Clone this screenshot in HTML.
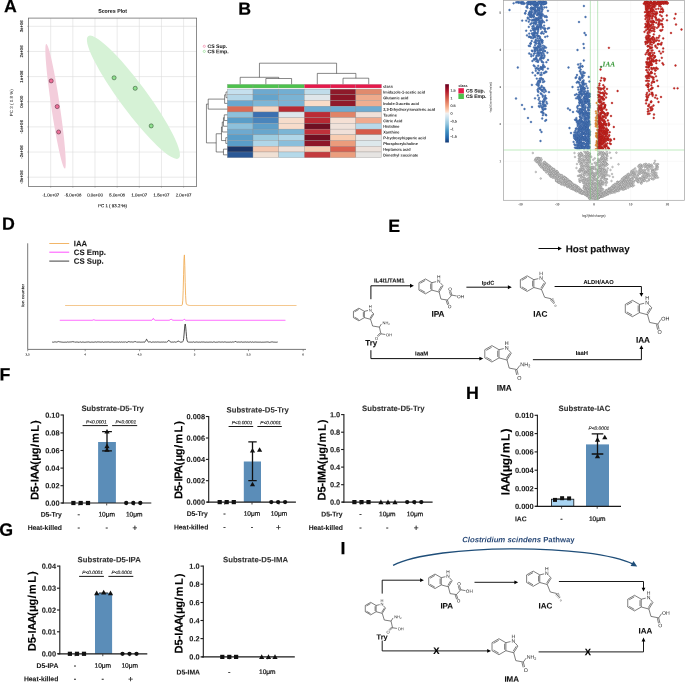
<!DOCTYPE html>
<html lang="en"><head><meta charset="utf-8"><title>Figure</title>
<style>
html,body{margin:0;padding:0;background:#fff}
svg{display:block;font-family:"Liberation Sans",sans-serif;text-rendering:geometricPrecision}
</style></head><body>
<svg width="685" height="682" viewBox="0 0 685 682">
<rect width="685" height="682" fill="#fff"/>
<text transform="translate(3.9 12.3) rotate(0.03)" font-size="17.8" font-weight="bold" stroke="#000" stroke-width="0.2">A</text>
<g>
<line x1="50.7" y1="18.1" x2="50.7" y2="186.4" stroke="#dcdcdc" stroke-width="0.6"/>
<line x1="72.85" y1="18.1" x2="72.85" y2="186.4" stroke="#dcdcdc" stroke-width="0.6"/>
<line x1="95" y1="18.1" x2="95" y2="186.4" stroke="#dcdcdc" stroke-width="0.6"/>
<line x1="117.15" y1="18.1" x2="117.15" y2="186.4" stroke="#dcdcdc" stroke-width="0.6"/>
<line x1="139.3" y1="18.1" x2="139.3" y2="186.4" stroke="#dcdcdc" stroke-width="0.6"/>
<line x1="161.45" y1="18.1" x2="161.45" y2="186.4" stroke="#dcdcdc" stroke-width="0.6"/>
<line x1="183.6" y1="18.1" x2="183.6" y2="186.4" stroke="#dcdcdc" stroke-width="0.6"/>
<line x1="28.5" y1="26.3" x2="196.6" y2="26.3" stroke="#dcdcdc" stroke-width="0.6"/>
<line x1="28.5" y1="51.45" x2="196.6" y2="51.45" stroke="#dcdcdc" stroke-width="0.6"/>
<line x1="28.5" y1="76.6" x2="196.6" y2="76.6" stroke="#dcdcdc" stroke-width="0.6"/>
<line x1="28.5" y1="101.75" x2="196.6" y2="101.75" stroke="#dcdcdc" stroke-width="0.6"/>
<line x1="28.5" y1="126.9" x2="196.6" y2="126.9" stroke="#dcdcdc" stroke-width="0.6"/>
<line x1="28.5" y1="152.05" x2="196.6" y2="152.05" stroke="#dcdcdc" stroke-width="0.6"/>
<line x1="28.5" y1="177.2" x2="196.6" y2="177.2" stroke="#dcdcdc" stroke-width="0.6"/>
<ellipse cx="55.55" cy="106.3" rx="63" ry="4.3" transform="rotate(81.55 55.55 106.3)" fill="#f3cddb"/>
<ellipse cx="133.4" cy="97.25" rx="76" ry="13.6" transform="rotate(53.5 133.4 97.25)" fill="#d6f2d6"/>
<rect x="28.5" y="18.1" width="168.1" height="168.3" fill="none" stroke="#707070" stroke-width="0.8"/>
<line x1="50.7" y1="186.4" x2="50.7" y2="187.6" stroke="#707070" stroke-width="0.5"/>
<line x1="72.85" y1="186.4" x2="72.85" y2="187.6" stroke="#707070" stroke-width="0.5"/>
<line x1="95" y1="186.4" x2="95" y2="187.6" stroke="#707070" stroke-width="0.5"/>
<line x1="117.15" y1="186.4" x2="117.15" y2="187.6" stroke="#707070" stroke-width="0.5"/>
<line x1="139.3" y1="186.4" x2="139.3" y2="187.6" stroke="#707070" stroke-width="0.5"/>
<line x1="161.45" y1="186.4" x2="161.45" y2="187.6" stroke="#707070" stroke-width="0.5"/>
<line x1="183.6" y1="186.4" x2="183.6" y2="187.6" stroke="#707070" stroke-width="0.5"/>
<line x1="27.3" y1="26.3" x2="28.5" y2="26.3" stroke="#707070" stroke-width="0.5"/>
<line x1="27.3" y1="51.45" x2="28.5" y2="51.45" stroke="#707070" stroke-width="0.5"/>
<line x1="27.3" y1="76.6" x2="28.5" y2="76.6" stroke="#707070" stroke-width="0.5"/>
<line x1="27.3" y1="101.75" x2="28.5" y2="101.75" stroke="#707070" stroke-width="0.5"/>
<line x1="27.3" y1="126.9" x2="28.5" y2="126.9" stroke="#707070" stroke-width="0.5"/>
<line x1="27.3" y1="152.05" x2="28.5" y2="152.05" stroke="#707070" stroke-width="0.5"/>
<line x1="27.3" y1="177.2" x2="28.5" y2="177.2" stroke="#707070" stroke-width="0.5"/>
<circle cx="51.2" cy="80.9" r="2.05" fill="#ef7099" stroke="#402030" stroke-width="0.5"/>
<circle cx="57.2" cy="106.6" r="2.05" fill="#ef7099" stroke="#402030" stroke-width="0.5"/>
<circle cx="58.6" cy="132" r="2.05" fill="#ef7099" stroke="#402030" stroke-width="0.5"/>
<circle cx="114.1" cy="77.8" r="2.05" fill="#8fe08f" stroke="#204020" stroke-width="0.5"/>
<circle cx="135.2" cy="88.3" r="2.05" fill="#8fe08f" stroke="#204020" stroke-width="0.5"/>
<circle cx="151.2" cy="125.9" r="2.05" fill="#8fe08f" stroke="#204020" stroke-width="0.5"/>
<text transform="translate(112.6 12.7) rotate(0.03)" font-size="5.25" font-weight="bold" text-anchor="middle" fill="#222" stroke="#222" stroke-width="0.06">Scores Plot</text>
<text transform="translate(50.7 196.5) rotate(0.03)" font-size="4.3" text-anchor="middle" fill="#222" stroke="#222" stroke-width="0.12">-1.0e+07</text>
<text transform="translate(72.85 196.5) rotate(0.03)" font-size="4.3" text-anchor="middle" fill="#222" stroke="#222" stroke-width="0.12">-5.0e+06</text>
<text transform="translate(95 196.5) rotate(0.03)" font-size="4.3" text-anchor="middle" fill="#222" stroke="#222" stroke-width="0.12">0.0e+00</text>
<text transform="translate(117.15 196.5) rotate(0.03)" font-size="4.3" text-anchor="middle" fill="#222" stroke="#222" stroke-width="0.12">5.0e+06</text>
<text transform="translate(139.3 196.5) rotate(0.03)" font-size="4.3" text-anchor="middle" fill="#222" stroke="#222" stroke-width="0.12">1.0e+07</text>
<text transform="translate(161.45 196.5) rotate(0.03)" font-size="4.3" text-anchor="middle" fill="#222" stroke="#222" stroke-width="0.12">1.5e+07</text>
<text transform="translate(183.6 196.5) rotate(0.03)" font-size="4.3" text-anchor="middle" fill="#222" stroke="#222" stroke-width="0.12">2.0e+07</text>
<text transform="translate(23 26.3) rotate(-89.97)" font-size="4.3" text-anchor="middle" fill="#222" stroke="#222" stroke-width="0.12">3e+06</text>
<text transform="translate(23 51.45) rotate(-89.97)" font-size="4.3" text-anchor="middle" fill="#222" stroke="#222" stroke-width="0.12">2e+06</text>
<text transform="translate(23 76.6) rotate(-89.97)" font-size="4.3" text-anchor="middle" fill="#222" stroke="#222" stroke-width="0.12">1e+06</text>
<text transform="translate(23 101.75) rotate(-89.97)" font-size="4.3" text-anchor="middle" fill="#222" stroke="#222" stroke-width="0.12">0e+00</text>
<text transform="translate(23 126.9) rotate(-89.97)" font-size="4.3" text-anchor="middle" fill="#222" stroke="#222" stroke-width="0.12">-1e+06</text>
<text transform="translate(23 152.05) rotate(-89.97)" font-size="4.3" text-anchor="middle" fill="#222" stroke="#222" stroke-width="0.12">-2e+06</text>
<text transform="translate(23 177.2) rotate(-89.97)" font-size="4.3" text-anchor="middle" fill="#222" stroke="#222" stroke-width="0.12">-3e+06</text>
<text transform="translate(12.9 102.8) rotate(-89.97)" font-size="4.48" text-anchor="middle" fill="#222">PC 3 ( 0.8 %)</text>
<text transform="translate(112.5 207.2) rotate(0.03)" font-size="4.41" text-anchor="middle" fill="#111" stroke="#111" stroke-width="0.12">PC 1 ( 93.2 %)</text>
<circle cx="204.3" cy="46.3" r="1.1" fill="#fff" stroke="#f0608c" stroke-width="0.5"/>
<circle cx="204.3" cy="51.4" r="1.1" fill="#fff" stroke="#70d070" stroke-width="0.5"/>
<text transform="translate(207.6 48.1) rotate(0.03)" font-size="5.1" font-weight="bold" fill="#222" stroke="#222" stroke-width="0.06">CS Sup.</text>
<text transform="translate(207.6 53.2) rotate(0.03)" font-size="5.1" font-weight="bold" fill="#222" stroke="#222" stroke-width="0.06">CS Emp.</text>
</g>
<text transform="translate(238.2 14.7) rotate(0.03)" font-size="17.8" font-weight="bold" stroke="#000" stroke-width="0.2">B</text>
<g>
<rect x="227.3" y="84.3" width="25.71" height="3.7" fill="#4dc24d" stroke="#999" stroke-width="0.25"/>
<rect x="253.02" y="84.3" width="25.71" height="3.7" fill="#4dc24d" stroke="#999" stroke-width="0.25"/>
<rect x="278.73" y="84.3" width="25.71" height="3.7" fill="#4dc24d" stroke="#999" stroke-width="0.25"/>
<rect x="304.44" y="84.3" width="25.71" height="3.7" fill="#e6194b" stroke="#999" stroke-width="0.25"/>
<rect x="330.16" y="84.3" width="25.71" height="3.7" fill="#e6194b" stroke="#999" stroke-width="0.25"/>
<rect x="355.88" y="84.3" width="25.71" height="3.7" fill="#e6194b" stroke="#999" stroke-width="0.25"/>
<rect x="227.3" y="89.1" width="25.71" height="5.72" fill="#c5e0ee" stroke="#8c8c8c" stroke-width="0.3"/>
<rect x="253.02" y="89.1" width="25.71" height="5.72" fill="#6da9cf" stroke="#8c8c8c" stroke-width="0.3"/>
<rect x="278.73" y="89.1" width="25.71" height="5.72" fill="#72aed2" stroke="#8c8c8c" stroke-width="0.3"/>
<rect x="304.44" y="89.1" width="25.71" height="5.72" fill="#c0dcea" stroke="#8c8c8c" stroke-width="0.3"/>
<rect x="330.16" y="89.1" width="25.71" height="5.72" fill="#8e1a2a" stroke="#8c8c8c" stroke-width="0.3"/>
<rect x="355.88" y="89.1" width="25.71" height="5.72" fill="#e08a6d" stroke="#8c8c8c" stroke-width="0.3"/>
<rect x="227.3" y="94.82" width="25.71" height="5.72" fill="#b5d7e8" stroke="#8c8c8c" stroke-width="0.3"/>
<rect x="253.02" y="94.82" width="25.71" height="5.72" fill="#64a4cc" stroke="#8c8c8c" stroke-width="0.3"/>
<rect x="278.73" y="94.82" width="25.71" height="5.72" fill="#7ab3d4" stroke="#8c8c8c" stroke-width="0.3"/>
<rect x="304.44" y="94.82" width="25.71" height="5.72" fill="#dfe6ea" stroke="#8c8c8c" stroke-width="0.3"/>
<rect x="330.16" y="94.82" width="25.71" height="5.72" fill="#8a1526" stroke="#8c8c8c" stroke-width="0.3"/>
<rect x="355.88" y="94.82" width="25.71" height="5.72" fill="#eeaa8c" stroke="#8c8c8c" stroke-width="0.3"/>
<rect x="227.3" y="100.53" width="25.71" height="5.72" fill="#6aa7ce" stroke="#8c8c8c" stroke-width="0.3"/>
<rect x="253.02" y="100.53" width="25.71" height="5.72" fill="#7db6d6" stroke="#8c8c8c" stroke-width="0.3"/>
<rect x="278.73" y="100.53" width="25.71" height="5.72" fill="#7ab3d4" stroke="#8c8c8c" stroke-width="0.3"/>
<rect x="304.44" y="100.53" width="25.71" height="5.72" fill="#f9dcc8" stroke="#8c8c8c" stroke-width="0.3"/>
<rect x="330.16" y="100.53" width="25.71" height="5.72" fill="#90192a" stroke="#8c8c8c" stroke-width="0.3"/>
<rect x="355.88" y="100.53" width="25.71" height="5.72" fill="#efae91" stroke="#8c8c8c" stroke-width="0.3"/>
<rect x="227.3" y="106.25" width="25.71" height="5.72" fill="#d96a55" stroke="#8c8c8c" stroke-width="0.3"/>
<rect x="253.02" y="106.25" width="25.71" height="5.72" fill="#f6d5c0" stroke="#8c8c8c" stroke-width="0.3"/>
<rect x="278.73" y="106.25" width="25.71" height="5.72" fill="#b52a33" stroke="#8c8c8c" stroke-width="0.3"/>
<rect x="304.44" y="106.25" width="25.71" height="5.72" fill="#6fabd0" stroke="#8c8c8c" stroke-width="0.3"/>
<rect x="330.16" y="106.25" width="25.71" height="5.72" fill="#6fabd0" stroke="#8c8c8c" stroke-width="0.3"/>
<rect x="355.88" y="106.25" width="25.71" height="5.72" fill="#6fabd0" stroke="#8c8c8c" stroke-width="0.3"/>
<rect x="227.3" y="111.97" width="25.71" height="5.72" fill="#8dc0db" stroke="#8c8c8c" stroke-width="0.3"/>
<rect x="253.02" y="111.97" width="25.71" height="5.72" fill="#3b6fb0" stroke="#8c8c8c" stroke-width="0.3"/>
<rect x="278.73" y="111.97" width="25.71" height="5.72" fill="#dde6ec" stroke="#8c8c8c" stroke-width="0.3"/>
<rect x="304.44" y="111.97" width="25.71" height="5.72" fill="#bb2c35" stroke="#8c8c8c" stroke-width="0.3"/>
<rect x="330.16" y="111.97" width="25.71" height="5.72" fill="#e08468" stroke="#8c8c8c" stroke-width="0.3"/>
<rect x="355.88" y="111.97" width="25.71" height="5.72" fill="#f0e0d8" stroke="#8c8c8c" stroke-width="0.3"/>
<rect x="227.3" y="117.68" width="25.71" height="5.72" fill="#5a9dc8" stroke="#8c8c8c" stroke-width="0.3"/>
<rect x="253.02" y="117.68" width="25.71" height="5.72" fill="#4a85bc" stroke="#8c8c8c" stroke-width="0.3"/>
<rect x="278.73" y="117.68" width="25.71" height="5.72" fill="#f6dccb" stroke="#8c8c8c" stroke-width="0.3"/>
<rect x="304.44" y="117.68" width="25.71" height="5.72" fill="#b72832" stroke="#8c8c8c" stroke-width="0.3"/>
<rect x="330.16" y="117.68" width="25.71" height="5.72" fill="#f5e0d4" stroke="#8c8c8c" stroke-width="0.3"/>
<rect x="355.88" y="117.68" width="25.71" height="5.72" fill="#efaa8e" stroke="#8c8c8c" stroke-width="0.3"/>
<rect x="227.3" y="123.4" width="25.71" height="5.72" fill="#8dc0db" stroke="#8c8c8c" stroke-width="0.3"/>
<rect x="253.02" y="123.4" width="25.71" height="5.72" fill="#5f9fc9" stroke="#8c8c8c" stroke-width="0.3"/>
<rect x="278.73" y="123.4" width="25.71" height="5.72" fill="#f7dccb" stroke="#8c8c8c" stroke-width="0.3"/>
<rect x="304.44" y="123.4" width="25.71" height="5.72" fill="#6f0f22" stroke="#8c8c8c" stroke-width="0.3"/>
<rect x="330.16" y="123.4" width="25.71" height="5.72" fill="#f0e2da" stroke="#8c8c8c" stroke-width="0.3"/>
<rect x="355.88" y="123.4" width="25.71" height="5.72" fill="#b8d9e9" stroke="#8c8c8c" stroke-width="0.3"/>
<rect x="227.3" y="129.12" width="25.71" height="5.72" fill="#6ea9cf" stroke="#8c8c8c" stroke-width="0.3"/>
<rect x="253.02" y="129.12" width="25.71" height="5.72" fill="#68a6cd" stroke="#8c8c8c" stroke-width="0.3"/>
<rect x="278.73" y="129.12" width="25.71" height="5.72" fill="#7bb5d5" stroke="#8c8c8c" stroke-width="0.3"/>
<rect x="304.44" y="129.12" width="25.71" height="5.72" fill="#c0303a" stroke="#8c8c8c" stroke-width="0.3"/>
<rect x="330.16" y="129.12" width="25.71" height="5.72" fill="#f0e0d8" stroke="#8c8c8c" stroke-width="0.3"/>
<rect x="355.88" y="129.12" width="25.71" height="5.72" fill="#d65a4a" stroke="#8c8c8c" stroke-width="0.3"/>
<rect x="227.3" y="134.84" width="25.71" height="5.72" fill="#5a9dc8" stroke="#8c8c8c" stroke-width="0.3"/>
<rect x="253.02" y="134.84" width="25.71" height="5.72" fill="#9dcce0" stroke="#8c8c8c" stroke-width="0.3"/>
<rect x="278.73" y="134.84" width="25.71" height="5.72" fill="#b0d6e8" stroke="#8c8c8c" stroke-width="0.3"/>
<rect x="304.44" y="134.84" width="25.71" height="5.72" fill="#720f22" stroke="#8c8c8c" stroke-width="0.3"/>
<rect x="330.16" y="134.84" width="25.71" height="5.72" fill="#f8cdb2" stroke="#8c8c8c" stroke-width="0.3"/>
<rect x="355.88" y="134.84" width="25.71" height="5.72" fill="#e6e6e6" stroke="#8c8c8c" stroke-width="0.3"/>
<rect x="227.3" y="140.55" width="25.71" height="5.72" fill="#5a9dc8" stroke="#8c8c8c" stroke-width="0.3"/>
<rect x="253.02" y="140.55" width="25.71" height="5.72" fill="#b0d6e8" stroke="#8c8c8c" stroke-width="0.3"/>
<rect x="278.73" y="140.55" width="25.71" height="5.72" fill="#8abedb" stroke="#8c8c8c" stroke-width="0.3"/>
<rect x="304.44" y="140.55" width="25.71" height="5.72" fill="#8e1628" stroke="#8c8c8c" stroke-width="0.3"/>
<rect x="330.16" y="140.55" width="25.71" height="5.72" fill="#eb9c7c" stroke="#8c8c8c" stroke-width="0.3"/>
<rect x="355.88" y="140.55" width="25.71" height="5.72" fill="#dde8ec" stroke="#8c8c8c" stroke-width="0.3"/>
<rect x="227.3" y="146.27" width="25.71" height="5.72" fill="#1c3668" stroke="#8c8c8c" stroke-width="0.3"/>
<rect x="253.02" y="146.27" width="25.71" height="5.72" fill="#f4c8b0" stroke="#8c8c8c" stroke-width="0.3"/>
<rect x="278.73" y="146.27" width="25.71" height="5.72" fill="#efe0d8" stroke="#8c8c8c" stroke-width="0.3"/>
<rect x="304.44" y="146.27" width="25.71" height="5.72" fill="#f6ccb2" stroke="#8c8c8c" stroke-width="0.3"/>
<rect x="330.16" y="146.27" width="25.71" height="5.72" fill="#d9604f" stroke="#8c8c8c" stroke-width="0.3"/>
<rect x="355.88" y="146.27" width="25.71" height="5.72" fill="#ece2dc" stroke="#8c8c8c" stroke-width="0.3"/>
<rect x="227.3" y="151.99" width="25.71" height="5.72" fill="#2a5896" stroke="#8c8c8c" stroke-width="0.3"/>
<rect x="253.02" y="151.99" width="25.71" height="5.72" fill="#f0e0d4" stroke="#8c8c8c" stroke-width="0.3"/>
<rect x="278.73" y="151.99" width="25.71" height="5.72" fill="#b5d9e9" stroke="#8c8c8c" stroke-width="0.3"/>
<rect x="304.44" y="151.99" width="25.71" height="5.72" fill="#c43b3e" stroke="#8c8c8c" stroke-width="0.3"/>
<rect x="330.16" y="151.99" width="25.71" height="5.72" fill="#eb9e7e" stroke="#8c8c8c" stroke-width="0.3"/>
<rect x="355.88" y="151.99" width="25.71" height="5.72" fill="#e6e4e2" stroke="#8c8c8c" stroke-width="0.3"/>
<path d="M265.87 84.2 V78.5 H291.59 V84.2" fill="none" stroke="#262626" stroke-width="0.55"/>
<path d="M240.16 84.2 V77.3 H278.73 V78.5" fill="none" stroke="#262626" stroke-width="0.55"/>
<path d="M343.02 84.2 V78.2 H368.73 V84.2" fill="none" stroke="#262626" stroke-width="0.55"/>
<path d="M317.3 84.2 V73.4 H355.88 V78.2" fill="none" stroke="#262626" stroke-width="0.55"/>
<path d="M259.44 77.3 V63.2 H336.59 V73.4" fill="none" stroke="#262626" stroke-width="0.55"/>
<path d="M227.3 91.96 H226.04 V97.68 H227.3" fill="none" stroke="#262626" stroke-width="0.55"/>
<path d="M226.04 94.82 H224.63 V103.39 H227.3" fill="none" stroke="#262626" stroke-width="0.55"/>
<path d="M224.63 99.1 H208.21 V109.11 H227.3" fill="none" stroke="#262626" stroke-width="0.55"/>
<path d="M227.3 114.83 H224.28 V120.54 H227.3" fill="none" stroke="#262626" stroke-width="0.55"/>
<path d="M224.28 117.69 H223.46 V126.26 H227.3" fill="none" stroke="#262626" stroke-width="0.55"/>
<path d="M223.46 121.97 H222.29 V131.98 H227.3" fill="none" stroke="#262626" stroke-width="0.55"/>
<path d="M227.3 137.69 H225.81 V143.41 H227.3" fill="none" stroke="#262626" stroke-width="0.55"/>
<path d="M222.29 126.98 H221.47 V140.55 H225.81" fill="none" stroke="#262626" stroke-width="0.55"/>
<path d="M227.3 149.13 H223.46 V154.85 H227.3" fill="none" stroke="#262626" stroke-width="0.55"/>
<path d="M221.47 133.76 H216.19 V151.99 H223.46" fill="none" stroke="#262626" stroke-width="0.55"/>
<path d="M208.21 104.11 H206.45 V142.88 H216.19" fill="none" stroke="#262626" stroke-width="0.55"/>
<text transform="translate(383.2 87.7) rotate(0.03)" font-size="3.85" font-weight="bold" fill="#222">class</text>
<text transform="translate(383.2 93.56) rotate(0.03)" font-size="3.85" font-weight="bold" fill="#222">Imidazole-1-acetic acid</text>
<text transform="translate(383.2 99.28) rotate(0.03)" font-size="3.85" font-weight="bold" fill="#222">Glutamic acid</text>
<text transform="translate(383.2 104.99) rotate(0.03)" font-size="3.85" font-weight="bold" fill="#222">Indole-3-acetic acid</text>
<text transform="translate(383.2 110.71) rotate(0.03)" font-size="3.85" font-weight="bold" fill="#222">2,3-Dihydroxyisovaleric acid</text>
<text transform="translate(383.2 116.43) rotate(0.03)" font-size="3.85" font-weight="bold" fill="#222">Taurine</text>
<text transform="translate(383.2 122.14) rotate(0.03)" font-size="3.85" font-weight="bold" fill="#222">Citric Acid</text>
<text transform="translate(383.2 127.86) rotate(0.03)" font-size="3.85" font-weight="bold" fill="#222">Histidine</text>
<text transform="translate(383.2 133.58) rotate(0.03)" font-size="3.85" font-weight="bold" fill="#222">Xanthine</text>
<text transform="translate(383.2 139.29) rotate(0.03)" font-size="3.85" font-weight="bold" fill="#222">P-hydroxyhippuric acid</text>
<text transform="translate(383.2 145.01) rotate(0.03)" font-size="3.85" font-weight="bold" fill="#222">Phosphorylcholine</text>
<text transform="translate(383.2 150.73) rotate(0.03)" font-size="3.85" font-weight="bold" fill="#222">Heptanoic acid</text>
<text transform="translate(383.2 156.45) rotate(0.03)" font-size="3.85" font-weight="bold" fill="#222">Dimethyl succinate</text>
<defs><linearGradient id="cb" x1="0" y1="0" x2="0" y2="1"><stop offset="0" stop-color="#67001f"/><stop offset="0.12" stop-color="#b2182b"/><stop offset="0.25" stop-color="#d6604d"/><stop offset="0.38" stop-color="#f4a582"/><stop offset="0.47" stop-color="#fddbc7"/><stop offset="0.5" stop-color="#f0f0f0"/><stop offset="0.56" stop-color="#d1e5f0"/><stop offset="0.68" stop-color="#92c5de"/><stop offset="0.8" stop-color="#4393c3"/><stop offset="0.92" stop-color="#2166ac"/><stop offset="1" stop-color="#163a73"/></linearGradient></defs>
<rect x="445.2" y="84.2" width="3.7" height="58.3" fill="url(#cb)"/>
<text transform="translate(450.4 91.7) rotate(0.03)" font-size="3.7" fill="#333" stroke="#333" stroke-width="0.1">1.5</text>
<text transform="translate(450.4 99.4) rotate(0.03)" font-size="3.7" fill="#333" stroke="#333" stroke-width="0.1">1</text>
<text transform="translate(450.4 107) rotate(0.03)" font-size="3.7" fill="#333" stroke="#333" stroke-width="0.1">0.5</text>
<text transform="translate(450.4 114.8) rotate(0.03)" font-size="3.7" fill="#333" stroke="#333" stroke-width="0.1">0</text>
<text transform="translate(450.4 122.6) rotate(0.03)" font-size="3.7" fill="#333" stroke="#333" stroke-width="0.1">-0.5</text>
<text transform="translate(450.4 130.2) rotate(0.03)" font-size="3.7" fill="#333" stroke="#333" stroke-width="0.1">-1</text>
<text transform="translate(450.4 137.8) rotate(0.03)" font-size="3.7" fill="#333" stroke="#333" stroke-width="0.1">-1.5</text>
<text transform="translate(458.4 87) rotate(0.03)" font-size="3.7" font-weight="bold" fill="#222">class</text>
<rect x="458.4" y="88.2" width="5.5" height="5.3" fill="#e6194b"/>
<rect x="458.4" y="93.7" width="5.5" height="5.3" fill="#4dc24d"/>
<text transform="translate(465.9 92.6) rotate(0.03)" font-size="5" font-weight="bold" fill="#222" stroke="#222" stroke-width="0.06">CS Sup.</text>
<text transform="translate(465.9 98.1) rotate(0.03)" font-size="5" font-weight="bold" fill="#222" stroke="#222" stroke-width="0.06">CS Emp.</text>
</g>
<text transform="translate(474 15.5) rotate(0.03)" font-size="17.8" font-weight="bold" stroke="#000" stroke-width="0.2">C</text>
<g>
<line x1="520.6" y1="0.5" x2="520.6" y2="200.3" stroke="#f2f2f2" stroke-width="0.5"/>
<line x1="557.3" y1="0.5" x2="557.3" y2="200.3" stroke="#f2f2f2" stroke-width="0.5"/>
<line x1="594" y1="0.5" x2="594" y2="200.3" stroke="#f2f2f2" stroke-width="0.5"/>
<line x1="630.7" y1="0.5" x2="630.7" y2="200.3" stroke="#f2f2f2" stroke-width="0.5"/>
<line x1="667.4" y1="0.5" x2="667.4" y2="200.3" stroke="#f2f2f2" stroke-width="0.5"/>
<line x1="503.5" y1="161.3" x2="684.4" y2="161.3" stroke="#f2f2f2" stroke-width="0.5"/>
<line x1="503.5" y1="124.1" x2="684.4" y2="124.1" stroke="#f2f2f2" stroke-width="0.5"/>
<line x1="503.5" y1="86.9" x2="684.4" y2="86.9" stroke="#f2f2f2" stroke-width="0.5"/>
<line x1="503.5" y1="49.7" x2="684.4" y2="49.7" stroke="#f2f2f2" stroke-width="0.5"/>
<line x1="503.5" y1="12.5" x2="684.4" y2="12.5" stroke="#f2f2f2" stroke-width="0.5"/>
<g fill="#d8d8d8" stroke="#808080" stroke-width="0.4">
<circle cx="548.9" cy="170.8" r="0.85"/><circle cx="573.7" cy="185.9" r="0.85"/><circle cx="568.9" cy="180.7" r="0.85"/><circle cx="559.3" cy="177.7" r="0.85"/><circle cx="547.3" cy="168.9" r="0.85"/><circle cx="564.7" cy="178.8" r="0.85"/><circle cx="549.0" cy="168.6" r="0.85"/><circle cx="581.3" cy="191.1" r="0.85"/><circle cx="537.1" cy="161.4" r="0.85"/><circle cx="540.1" cy="160.9" r="0.85"/><circle cx="572.9" cy="185.3" r="0.85"/><circle cx="581.6" cy="192.2" r="0.85"/><circle cx="574.7" cy="189.0" r="0.85"/><circle cx="551.3" cy="172.1" r="0.85"/><circle cx="578.1" cy="191.3" r="0.85"/><circle cx="566.2" cy="179.0" r="0.85"/><circle cx="549.5" cy="168.0" r="0.85"/><circle cx="561.1" cy="176.3" r="0.85"/><circle cx="570.2" cy="181.3" r="0.85"/><circle cx="584.6" cy="192.4" r="0.85"/><circle cx="591.1" cy="197.7" r="0.85"/><circle cx="564.6" cy="182.5" r="0.85"/><circle cx="569.0" cy="183.8" r="0.85"/><circle cx="573.1" cy="186.8" r="0.85"/><circle cx="575.4" cy="190.7" r="0.85"/><circle cx="559.8" cy="181.0" r="0.85"/><circle cx="553.9" cy="171.6" r="0.85"/><circle cx="575.2" cy="188.1" r="0.85"/><circle cx="540.4" cy="164.3" r="0.85"/><circle cx="537.7" cy="161.2" r="0.85"/><circle cx="577.0" cy="187.7" r="0.85"/><circle cx="558.2" cy="180.9" r="0.85"/><circle cx="538.9" cy="162.0" r="0.85"/><circle cx="585.9" cy="193.7" r="0.85"/><circle cx="575.4" cy="185.0" r="0.85"/><circle cx="563.3" cy="178.0" r="0.85"/><circle cx="572.8" cy="189.4" r="0.85"/><circle cx="541.9" cy="167.2" r="0.85"/><circle cx="542.7" cy="167.7" r="0.85"/><circle cx="538.3" cy="157.9" r="0.85"/><circle cx="553.0" cy="177.5" r="0.85"/><circle cx="574.0" cy="185.2" r="0.85"/><circle cx="540.4" cy="165.9" r="0.85"/><circle cx="537.4" cy="158.2" r="0.85"/><circle cx="551.9" cy="173.6" r="0.85"/><circle cx="567.0" cy="183.9" r="0.85"/><circle cx="544.8" cy="162.2" r="0.85"/><circle cx="544.4" cy="161.9" r="0.85"/><circle cx="547.5" cy="165.5" r="0.85"/><circle cx="578.2" cy="190.3" r="0.85"/><circle cx="535.6" cy="159.9" r="0.85"/><circle cx="543.9" cy="169.6" r="0.85"/><circle cx="571.8" cy="188.6" r="0.85"/><circle cx="553.1" cy="172.6" r="0.85"/><circle cx="546.6" cy="164.1" r="0.85"/><circle cx="565.9" cy="178.0" r="0.85"/><circle cx="547.4" cy="165.5" r="0.85"/><circle cx="588.9" cy="195.3" r="0.85"/><circle cx="554.6" cy="177.7" r="0.85"/><circle cx="556.2" cy="173.8" r="0.85"/><circle cx="550.2" cy="169.9" r="0.85"/><circle cx="563.7" cy="179.3" r="0.85"/><circle cx="574.2" cy="187.9" r="0.85"/><circle cx="589.8" cy="197.2" r="0.85"/><circle cx="538.8" cy="159.1" r="0.85"/><circle cx="551.0" cy="168.4" r="0.85"/><circle cx="539.7" cy="158.6" r="0.85"/><circle cx="591.2" cy="197.7" r="0.85"/><circle cx="554.9" cy="170.6" r="0.85"/><circle cx="586.2" cy="194.8" r="0.85"/><circle cx="546.3" cy="164.0" r="0.85"/><circle cx="581.1" cy="190.7" r="0.85"/><circle cx="573.0" cy="188.8" r="0.85"/><circle cx="566.5" cy="184.8" r="0.85"/><circle cx="570.6" cy="184.2" r="0.85"/><circle cx="581.7" cy="192.8" r="0.85"/><circle cx="590.8" cy="196.8" r="0.85"/><circle cx="556.4" cy="171.1" r="0.85"/><circle cx="546.1" cy="167.2" r="0.85"/><circle cx="556.8" cy="176.0" r="0.85"/><circle cx="568.6" cy="180.6" r="0.85"/><circle cx="552.9" cy="172.3" r="0.85"/><circle cx="540.4" cy="160.7" r="0.85"/><circle cx="547.2" cy="168.9" r="0.85"/><circle cx="555.0" cy="175.7" r="0.85"/><circle cx="585.0" cy="193.8" r="0.85"/><circle cx="561.1" cy="184.3" r="0.85"/><circle cx="550.2" cy="174.8" r="0.85"/><circle cx="566.3" cy="178.3" r="0.85"/><circle cx="567.8" cy="181.4" r="0.85"/><circle cx="572.1" cy="186.1" r="0.85"/><circle cx="553.4" cy="176.2" r="0.85"/><circle cx="549.2" cy="168.1" r="0.85"/><circle cx="577.8" cy="190.6" r="0.85"/><circle cx="552.1" cy="169.9" r="0.85"/><circle cx="556.5" cy="178.8" r="0.85"/><circle cx="567.7" cy="180.3" r="0.85"/><circle cx="556.8" cy="171.3" r="0.85"/><circle cx="562.4" cy="177.9" r="0.85"/><circle cx="585.8" cy="193.3" r="0.85"/><circle cx="584.1" cy="193.2" r="0.85"/><circle cx="537.9" cy="162.0" r="0.85"/><circle cx="564.0" cy="181.5" r="0.85"/><circle cx="573.4" cy="184.0" r="0.85"/><circle cx="546.3" cy="172.4" r="0.85"/><circle cx="564.6" cy="176.9" r="0.85"/><circle cx="581.0" cy="193.3" r="0.85"/><circle cx="561.4" cy="183.0" r="0.85"/><circle cx="577.1" cy="186.4" r="0.85"/><circle cx="546.8" cy="163.8" r="0.85"/><circle cx="566.9" cy="184.8" r="0.85"/><circle cx="565.3" cy="184.0" r="0.85"/><circle cx="576.2" cy="186.2" r="0.85"/><circle cx="560.6" cy="179.1" r="0.85"/><circle cx="566.4" cy="181.3" r="0.85"/><circle cx="565.2" cy="179.6" r="0.85"/><circle cx="582.0" cy="192.2" r="0.85"/><circle cx="548.3" cy="171.3" r="0.85"/><circle cx="589.0" cy="195.3" r="0.85"/><circle cx="550.0" cy="168.2" r="0.85"/><circle cx="590.6" cy="197.5" r="0.85"/><circle cx="557.5" cy="181.9" r="0.85"/><circle cx="557.8" cy="174.6" r="0.85"/><circle cx="569.4" cy="183.3" r="0.85"/><circle cx="573.8" cy="188.1" r="0.85"/><circle cx="588.8" cy="195.8" r="0.85"/><circle cx="587.8" cy="194.6" r="0.85"/><circle cx="581.6" cy="192.8" r="0.85"/><circle cx="553.6" cy="175.5" r="0.85"/><circle cx="560.7" cy="182.3" r="0.85"/><circle cx="537.2" cy="162.4" r="0.85"/><circle cx="589.2" cy="195.7" r="0.85"/><circle cx="538.7" cy="162.4" r="0.85"/><circle cx="570.9" cy="182.3" r="0.85"/><circle cx="575.2" cy="187.0" r="0.85"/><circle cx="586.0" cy="193.4" r="0.85"/><circle cx="566.1" cy="182.8" r="0.85"/><circle cx="566.7" cy="184.1" r="0.85"/><circle cx="564.4" cy="177.3" r="0.85"/><circle cx="548.2" cy="171.5" r="0.85"/><circle cx="576.5" cy="186.2" r="0.85"/><circle cx="549.8" cy="166.0" r="0.85"/><circle cx="550.5" cy="167.2" r="0.85"/><circle cx="576.5" cy="188.0" r="0.85"/><circle cx="586.9" cy="194.3" r="0.85"/><circle cx="549.8" cy="172.8" r="0.85"/><circle cx="576.5" cy="191.2" r="0.85"/><circle cx="571.8" cy="185.3" r="0.85"/><circle cx="585.9" cy="193.0" r="0.85"/><circle cx="551.7" cy="175.5" r="0.85"/><circle cx="557.7" cy="176.8" r="0.85"/><circle cx="581.7" cy="191.5" r="0.85"/><circle cx="568.0" cy="186.7" r="0.85"/><circle cx="565.8" cy="182.5" r="0.85"/><circle cx="539.7" cy="158.9" r="0.85"/><circle cx="565.4" cy="181.0" r="0.85"/><circle cx="590.8" cy="197.5" r="0.85"/><circle cx="539.4" cy="164.8" r="0.85"/><circle cx="589.9" cy="197.1" r="0.85"/><circle cx="546.0" cy="166.7" r="0.85"/><circle cx="539.0" cy="158.1" r="0.85"/><circle cx="560.9" cy="179.2" r="0.85"/><circle cx="582.7" cy="191.2" r="0.85"/><circle cx="551.2" cy="176.9" r="0.85"/><circle cx="553.0" cy="177.7" r="0.85"/><circle cx="572.5" cy="187.3" r="0.85"/><circle cx="558.4" cy="182.3" r="0.85"/><circle cx="582.2" cy="192.6" r="0.85"/><circle cx="557.9" cy="175.0" r="0.85"/><circle cx="576.3" cy="191.2" r="0.85"/><circle cx="559.8" cy="182.7" r="0.85"/><circle cx="565.2" cy="181.0" r="0.85"/><circle cx="543.5" cy="162.7" r="0.85"/><circle cx="580.7" cy="192.3" r="0.85"/><circle cx="541.0" cy="161.1" r="0.85"/><circle cx="542.7" cy="164.1" r="0.85"/><circle cx="579.9" cy="191.5" r="0.85"/><circle cx="549.2" cy="167.8" r="0.85"/><circle cx="575.7" cy="188.5" r="0.85"/><circle cx="577.0" cy="188.6" r="0.85"/><circle cx="590.4" cy="196.6" r="0.85"/><circle cx="585.2" cy="193.3" r="0.85"/><circle cx="560.2" cy="174.8" r="0.85"/><circle cx="575.9" cy="188.9" r="0.85"/><circle cx="590.0" cy="197.0" r="0.85"/><circle cx="582.5" cy="192.2" r="0.85"/><circle cx="544.0" cy="168.7" r="0.85"/><circle cx="558.4" cy="181.6" r="0.85"/><circle cx="586.1" cy="193.6" r="0.85"/><circle cx="544.7" cy="163.1" r="0.85"/><circle cx="556.1" cy="180.9" r="0.85"/><circle cx="561.8" cy="176.6" r="0.85"/><circle cx="543.7" cy="165.9" r="0.85"/><circle cx="550.2" cy="167.7" r="0.85"/><circle cx="561.0" cy="177.7" r="0.85"/><circle cx="563.1" cy="180.3" r="0.85"/><circle cx="554.4" cy="171.4" r="0.85"/><circle cx="551.0" cy="175.1" r="0.85"/><circle cx="576.0" cy="187.3" r="0.85"/><circle cx="550.8" cy="168.5" r="0.85"/><circle cx="538.9" cy="163.9" r="0.85"/><circle cx="575.8" cy="189.1" r="0.85"/><circle cx="570.7" cy="183.9" r="0.85"/><circle cx="542.3" cy="166.8" r="0.85"/><circle cx="564.3" cy="180.3" r="0.85"/><circle cx="586.2" cy="194.3" r="0.85"/><circle cx="582.3" cy="193.7" r="0.85"/><circle cx="587.8" cy="195.6" r="0.85"/><circle cx="564.0" cy="184.2" r="0.85"/><circle cx="549.8" cy="170.9" r="0.85"/><circle cx="571.9" cy="185.0" r="0.85"/><circle cx="574.9" cy="188.6" r="0.85"/><circle cx="587.8" cy="195.7" r="0.85"/><circle cx="557.8" cy="172.6" r="0.85"/><circle cx="560.6" cy="182.3" r="0.85"/><circle cx="554.0" cy="171.6" r="0.85"/><circle cx="560.0" cy="175.7" r="0.85"/><circle cx="587.5" cy="194.1" r="0.85"/><circle cx="538.3" cy="161.9" r="0.85"/><circle cx="580.6" cy="191.1" r="0.85"/><circle cx="536.9" cy="160.9" r="0.85"/><circle cx="538.6" cy="158.9" r="0.85"/><circle cx="564.7" cy="185.5" r="0.85"/><circle cx="576.0" cy="188.4" r="0.85"/><circle cx="563.8" cy="176.7" r="0.85"/><circle cx="565.4" cy="179.8" r="0.85"/><circle cx="566.6" cy="178.6" r="0.85"/><circle cx="561.7" cy="183.2" r="0.85"/><circle cx="557.3" cy="171.7" r="0.85"/><circle cx="537.6" cy="158.6" r="0.85"/><circle cx="554.9" cy="173.3" r="0.85"/><circle cx="553.5" cy="172.1" r="0.85"/><circle cx="550.3" cy="170.3" r="0.85"/><circle cx="544.8" cy="164.1" r="0.85"/><circle cx="582.1" cy="192.7" r="0.85"/><circle cx="547.1" cy="164.8" r="0.85"/><circle cx="563.3" cy="179.7" r="0.85"/><circle cx="563.5" cy="178.2" r="0.85"/><circle cx="555.6" cy="172.9" r="0.85"/><circle cx="552.6" cy="168.5" r="0.85"/><circle cx="542.9" cy="168.3" r="0.85"/><circle cx="554.2" cy="169.1" r="0.85"/><circle cx="540.5" cy="163.7" r="0.85"/><circle cx="569.9" cy="181.5" r="0.85"/><circle cx="543.4" cy="166.6" r="0.85"/><circle cx="566.8" cy="185.8" r="0.85"/><circle cx="569.1" cy="186.4" r="0.85"/><circle cx="576.3" cy="189.8" r="0.85"/><circle cx="545.9" cy="165.4" r="0.85"/><circle cx="568.4" cy="181.4" r="0.85"/><circle cx="566.5" cy="184.1" r="0.85"/><circle cx="587.6" cy="195.8" r="0.85"/><circle cx="559.8" cy="177.4" r="0.85"/><circle cx="557.8" cy="173.5" r="0.85"/><circle cx="570.0" cy="187.7" r="0.85"/><circle cx="549.9" cy="171.8" r="0.85"/><circle cx="553.2" cy="169.2" r="0.85"/><circle cx="563.8" cy="184.9" r="0.85"/><circle cx="545.6" cy="163.1" r="0.85"/><circle cx="574.4" cy="187.6" r="0.85"/><circle cx="581.2" cy="193.1" r="0.85"/><circle cx="587.6" cy="195.9" r="0.85"/><circle cx="561.1" cy="181.6" r="0.85"/><circle cx="580.0" cy="189.3" r="0.85"/><circle cx="584.9" cy="194.3" r="0.85"/><circle cx="565.6" cy="179.0" r="0.85"/><circle cx="562.1" cy="184.6" r="0.85"/><circle cx="561.9" cy="175.1" r="0.85"/><circle cx="563.6" cy="183.4" r="0.85"/><circle cx="536.4" cy="161.7" r="0.85"/><circle cx="589.0" cy="195.9" r="0.85"/><circle cx="569.0" cy="182.5" r="0.85"/><circle cx="564.5" cy="183.7" r="0.85"/><circle cx="535.4" cy="159.4" r="0.85"/><circle cx="574.1" cy="189.7" r="0.85"/><circle cx="586.2" cy="193.5" r="0.85"/><circle cx="558.4" cy="175.6" r="0.85"/><circle cx="538.4" cy="158.4" r="0.85"/><circle cx="540.4" cy="162.5" r="0.85"/><circle cx="541.9" cy="165.9" r="0.85"/><circle cx="544.2" cy="169.8" r="0.85"/><circle cx="567.6" cy="186.5" r="0.85"/><circle cx="575.1" cy="186.9" r="0.85"/><circle cx="573.5" cy="188.6" r="0.85"/><circle cx="591.3" cy="197.1" r="0.85"/><circle cx="548.5" cy="174.3" r="0.85"/><circle cx="582.6" cy="192.3" r="0.85"/><circle cx="560.7" cy="177.3" r="0.85"/><circle cx="537.4" cy="158.5" r="0.85"/><circle cx="590.9" cy="197.4" r="0.85"/><circle cx="545.6" cy="170.2" r="0.85"/><circle cx="571.0" cy="184.0" r="0.85"/><circle cx="559.2" cy="177.0" r="0.85"/><circle cx="586.9" cy="195.7" r="0.85"/><circle cx="552.5" cy="172.2" r="0.85"/><circle cx="571.0" cy="184.5" r="0.85"/><circle cx="571.7" cy="188.2" r="0.85"/><circle cx="587.5" cy="194.9" r="0.85"/><circle cx="574.7" cy="188.1" r="0.85"/><circle cx="546.4" cy="168.2" r="0.85"/><circle cx="583.0" cy="193.7" r="0.85"/><circle cx="563.1" cy="176.7" r="0.85"/><circle cx="570.1" cy="182.5" r="0.85"/><circle cx="554.3" cy="175.7" r="0.85"/><circle cx="574.5" cy="189.7" r="0.85"/><circle cx="579.9" cy="192.8" r="0.85"/><circle cx="554.2" cy="176.9" r="0.85"/><circle cx="554.0" cy="172.8" r="0.85"/><circle cx="553.2" cy="175.4" r="0.85"/><circle cx="540.7" cy="163.5" r="0.85"/><circle cx="569.8" cy="185.1" r="0.85"/><circle cx="540.2" cy="161.9" r="0.85"/><circle cx="550.3" cy="169.6" r="0.85"/><circle cx="572.6" cy="185.2" r="0.85"/><circle cx="589.6" cy="196.8" r="0.85"/><circle cx="556.4" cy="174.3" r="0.85"/><circle cx="570.7" cy="186.0" r="0.85"/><circle cx="571.9" cy="188.7" r="0.85"/><circle cx="580.5" cy="191.6" r="0.85"/><circle cx="571.5" cy="182.5" r="0.85"/><circle cx="539.8" cy="164.4" r="0.85"/><circle cx="579.0" cy="190.8" r="0.85"/><circle cx="579.2" cy="190.8" r="0.85"/><circle cx="561.7" cy="181.8" r="0.85"/><circle cx="586.1" cy="194.1" r="0.85"/><circle cx="570.6" cy="188.3" r="0.85"/><circle cx="551.3" cy="169.1" r="0.85"/><circle cx="587.6" cy="194.8" r="0.85"/><circle cx="539.5" cy="164.1" r="0.85"/><circle cx="581.9" cy="191.5" r="0.85"/><circle cx="580.8" cy="192.7" r="0.85"/><circle cx="560.6" cy="176.2" r="0.85"/><circle cx="557.1" cy="175.3" r="0.85"/><circle cx="568.0" cy="179.4" r="0.85"/><circle cx="568.8" cy="187.0" r="0.85"/><circle cx="585.8" cy="193.7" r="0.85"/><circle cx="550.5" cy="175.7" r="0.85"/><circle cx="580.2" cy="191.9" r="0.85"/><circle cx="589.4" cy="195.9" r="0.85"/><circle cx="564.4" cy="177.5" r="0.85"/><circle cx="574.6" cy="189.0" r="0.85"/><circle cx="569.7" cy="182.4" r="0.85"/><circle cx="556.0" cy="175.9" r="0.85"/><circle cx="581.0" cy="192.4" r="0.85"/><circle cx="574.2" cy="184.9" r="0.85"/><circle cx="571.3" cy="184.7" r="0.85"/><circle cx="547.2" cy="164.1" r="0.85"/><circle cx="559.5" cy="177.4" r="0.85"/><circle cx="585.2" cy="193.3" r="0.85"/><circle cx="586.8" cy="194.0" r="0.85"/><circle cx="575.2" cy="186.1" r="0.85"/><circle cx="585.6" cy="193.2" r="0.85"/><circle cx="560.0" cy="181.3" r="0.85"/><circle cx="565.7" cy="180.2" r="0.85"/><circle cx="548.7" cy="166.6" r="0.85"/><circle cx="572.1" cy="187.3" r="0.85"/><circle cx="552.7" cy="175.5" r="0.85"/><circle cx="572.1" cy="186.5" r="0.85"/><circle cx="558.4" cy="173.4" r="0.85"/><circle cx="585.2" cy="193.5" r="0.85"/><circle cx="583.1" cy="191.9" r="0.85"/><circle cx="551.9" cy="168.4" r="0.85"/><circle cx="550.4" cy="169.7" r="0.85"/><circle cx="544.2" cy="162.6" r="0.85"/><circle cx="581.9" cy="190.6" r="0.85"/><circle cx="546.7" cy="172.0" r="0.85"/><circle cx="557.1" cy="171.6" r="0.85"/><circle cx="559.4" cy="180.2" r="0.85"/><circle cx="578.2" cy="187.1" r="0.85"/><circle cx="552.7" cy="169.2" r="0.85"/><circle cx="549.4" cy="174.0" r="0.85"/><circle cx="582.1" cy="193.7" r="0.85"/><circle cx="557.8" cy="179.4" r="0.85"/><circle cx="565.9" cy="179.9" r="0.85"/><circle cx="564.8" cy="183.9" r="0.85"/><circle cx="580.5" cy="189.5" r="0.85"/><circle cx="550.3" cy="173.2" r="0.85"/><circle cx="536.0" cy="158.4" r="0.85"/><circle cx="555.2" cy="170.7" r="0.85"/><circle cx="586.1" cy="195.2" r="0.85"/><circle cx="554.0" cy="171.3" r="0.85"/><circle cx="536.5" cy="160.2" r="0.85"/><circle cx="579.2" cy="188.0" r="0.85"/><circle cx="567.2" cy="186.2" r="0.85"/><circle cx="555.8" cy="179.6" r="0.85"/><circle cx="562.6" cy="183.0" r="0.85"/><circle cx="571.2" cy="182.6" r="0.85"/><circle cx="579.6" cy="190.6" r="0.85"/><circle cx="555.1" cy="172.9" r="0.85"/><circle cx="539.2" cy="164.3" r="0.85"/><circle cx="573.5" cy="186.4" r="0.85"/><circle cx="583.3" cy="192.8" r="0.85"/><circle cx="588.2" cy="196.0" r="0.85"/><circle cx="556.5" cy="177.4" r="0.85"/><circle cx="549.2" cy="167.8" r="0.85"/><circle cx="541.6" cy="159.7" r="0.85"/><circle cx="572.5" cy="184.4" r="0.85"/><circle cx="587.8" cy="195.3" r="0.85"/><circle cx="544.2" cy="164.6" r="0.85"/><circle cx="558.6" cy="182.3" r="0.85"/><circle cx="559.5" cy="174.8" r="0.85"/><circle cx="582.1" cy="192.5" r="0.85"/><circle cx="558.5" cy="182.5" r="0.85"/><circle cx="570.2" cy="185.4" r="0.85"/><circle cx="553.0" cy="172.7" r="0.85"/><circle cx="536.9" cy="157.9" r="0.85"/><circle cx="557.7" cy="180.6" r="0.85"/><circle cx="566.6" cy="183.6" r="0.85"/><circle cx="548.5" cy="165.2" r="0.85"/><circle cx="557.3" cy="177.8" r="0.85"/><circle cx="576.7" cy="186.0" r="0.85"/><circle cx="578.4" cy="187.3" r="0.85"/><circle cx="579.0" cy="192.1" r="0.85"/><circle cx="554.3" cy="175.3" r="0.85"/><circle cx="556.1" cy="178.4" r="0.85"/><circle cx="544.8" cy="170.5" r="0.85"/><circle cx="560.4" cy="175.4" r="0.85"/><circle cx="555.0" cy="175.9" r="0.85"/><circle cx="536.7" cy="158.8" r="0.85"/><circle cx="570.7" cy="184.6" r="0.85"/><circle cx="570.3" cy="185.8" r="0.85"/><circle cx="567.4" cy="186.9" r="0.85"/><circle cx="538.0" cy="160.1" r="0.85"/><circle cx="577.8" cy="189.2" r="0.85"/><circle cx="586.4" cy="194.2" r="0.85"/><circle cx="577.3" cy="189.0" r="0.85"/><circle cx="546.2" cy="169.5" r="0.85"/><circle cx="571.2" cy="183.6" r="0.85"/><circle cx="574.4" cy="185.4" r="0.85"/><circle cx="586.9" cy="195.3" r="0.85"/><circle cx="568.0" cy="183.2" r="0.85"/><circle cx="560.2" cy="179.9" r="0.85"/><circle cx="549.3" cy="173.1" r="0.85"/><circle cx="550.7" cy="168.2" r="0.85"/><circle cx="538.6" cy="158.3" r="0.85"/><circle cx="589.9" cy="196.2" r="0.85"/><circle cx="579.5" cy="190.4" r="0.85"/><circle cx="582.8" cy="191.9" r="0.85"/><circle cx="575.7" cy="187.5" r="0.85"/><circle cx="589.2" cy="197.0" r="0.85"/><circle cx="544.7" cy="169.5" r="0.85"/><circle cx="585.0" cy="194.8" r="0.85"/><circle cx="558.6" cy="180.9" r="0.85"/><circle cx="575.6" cy="188.0" r="0.85"/><circle cx="568.4" cy="181.6" r="0.85"/><circle cx="551.3" cy="167.4" r="0.85"/><circle cx="566.7" cy="183.6" r="0.85"/><circle cx="583.7" cy="193.1" r="0.85"/><circle cx="571.6" cy="187.3" r="0.85"/><circle cx="559.2" cy="175.7" r="0.85"/><circle cx="588.6" cy="195.6" r="0.85"/><circle cx="563.3" cy="179.1" r="0.85"/><circle cx="590.1" cy="196.7" r="0.85"/><circle cx="538.8" cy="159.8" r="0.85"/><circle cx="548.2" cy="168.8" r="0.85"/><circle cx="563.4" cy="178.5" r="0.85"/><circle cx="550.2" cy="176.1" r="0.85"/><circle cx="581.6" cy="192.4" r="0.85"/><circle cx="548.9" cy="165.6" r="0.85"/><circle cx="567.6" cy="182.7" r="0.85"/><circle cx="590.3" cy="197.3" r="0.85"/><circle cx="580.3" cy="189.1" r="0.85"/><circle cx="541.2" cy="167.3" r="0.85"/><circle cx="585.1" cy="192.8" r="0.85"/><circle cx="537.4" cy="160.4" r="0.85"/><circle cx="544.8" cy="165.3" r="0.85"/><circle cx="548.5" cy="170.8" r="0.85"/><circle cx="574.7" cy="186.0" r="0.85"/><circle cx="570.0" cy="181.6" r="0.85"/><circle cx="569.7" cy="183.8" r="0.85"/><circle cx="544.6" cy="165.5" r="0.85"/><circle cx="586.9" cy="196.0" r="0.85"/><circle cx="568.0" cy="183.7" r="0.85"/><circle cx="539.0" cy="163.0" r="0.85"/><circle cx="546.4" cy="168.7" r="0.85"/><circle cx="578.7" cy="191.2" r="0.85"/><circle cx="560.3" cy="183.2" r="0.85"/><circle cx="553.8" cy="173.5" r="0.85"/><circle cx="578.2" cy="190.2" r="0.85"/><circle cx="555.7" cy="175.5" r="0.85"/><circle cx="556.3" cy="181.0" r="0.85"/><circle cx="544.3" cy="168.3" r="0.85"/><circle cx="584.8" cy="193.5" r="0.85"/><circle cx="574.5" cy="187.9" r="0.85"/><circle cx="562.7" cy="180.8" r="0.85"/><circle cx="568.2" cy="182.3" r="0.85"/><circle cx="587.7" cy="196.0" r="0.85"/><circle cx="570.6" cy="183.0" r="0.85"/><circle cx="540.8" cy="166.3" r="0.85"/><circle cx="568.9" cy="184.5" r="0.85"/><circle cx="580.3" cy="190.5" r="0.85"/><circle cx="546.6" cy="169.7" r="0.85"/><circle cx="556.5" cy="179.6" r="0.85"/><circle cx="561.1" cy="176.7" r="0.85"/><circle cx="539.7" cy="159.0" r="0.85"/><circle cx="558.2" cy="173.9" r="0.85"/><circle cx="570.7" cy="188.2" r="0.85"/><circle cx="561.2" cy="175.4" r="0.85"/><circle cx="574.7" cy="185.7" r="0.85"/><circle cx="579.4" cy="191.7" r="0.85"/><circle cx="588.1" cy="196.3" r="0.85"/><circle cx="557.1" cy="176.6" r="0.85"/><circle cx="567.8" cy="185.1" r="0.85"/><circle cx="545.0" cy="169.2" r="0.85"/><circle cx="551.2" cy="176.0" r="0.85"/><circle cx="582.3" cy="191.5" r="0.85"/><circle cx="556.5" cy="180.5" r="0.85"/><circle cx="585.3" cy="192.7" r="0.85"/><circle cx="551.5" cy="170.7" r="0.85"/><circle cx="570.1" cy="182.7" r="0.85"/><circle cx="580.3" cy="190.7" r="0.85"/><circle cx="553.4" cy="169.3" r="0.85"/><circle cx="549.3" cy="173.3" r="0.85"/><circle cx="579.6" cy="191.1" r="0.85"/><circle cx="548.1" cy="172.2" r="0.85"/><circle cx="567.0" cy="185.6" r="0.85"/><circle cx="589.8" cy="197.1" r="0.85"/><circle cx="559.1" cy="182.3" r="0.85"/><circle cx="578.9" cy="192.1" r="0.85"/><circle cx="565.4" cy="178.7" r="0.85"/><circle cx="622.1" cy="178.9" r="0.85"/><circle cx="647.5" cy="165.8" r="0.85"/><circle cx="646.8" cy="175.8" r="0.85"/><circle cx="632.2" cy="172.5" r="0.85"/><circle cx="609.1" cy="188.6" r="0.85"/><circle cx="639.4" cy="167.7" r="0.85"/><circle cx="598.8" cy="196.0" r="0.85"/><circle cx="605.1" cy="195.1" r="0.85"/><circle cx="649.5" cy="167.0" r="0.85"/><circle cx="609.5" cy="189.7" r="0.85"/><circle cx="603.1" cy="194.2" r="0.85"/><circle cx="641.3" cy="182.0" r="0.85"/><circle cx="626.4" cy="183.7" r="0.85"/><circle cx="631.8" cy="172.6" r="0.85"/><circle cx="598.6" cy="197.1" r="0.85"/><circle cx="626.0" cy="188.8" r="0.85"/><circle cx="621.9" cy="189.1" r="0.85"/><circle cx="621.5" cy="188.1" r="0.85"/><circle cx="617.6" cy="181.9" r="0.85"/><circle cx="612.2" cy="189.1" r="0.85"/><circle cx="637.3" cy="180.9" r="0.85"/><circle cx="644.6" cy="172.6" r="0.85"/><circle cx="654.2" cy="173.2" r="0.85"/><circle cx="624.1" cy="189.4" r="0.85"/><circle cx="636.3" cy="178.0" r="0.85"/><circle cx="627.9" cy="186.3" r="0.85"/><circle cx="653.4" cy="169.7" r="0.85"/><circle cx="625.6" cy="186.1" r="0.85"/><circle cx="597.4" cy="197.1" r="0.85"/><circle cx="643.0" cy="177.4" r="0.85"/><circle cx="635.4" cy="174.5" r="0.85"/><circle cx="632.1" cy="183.8" r="0.85"/><circle cx="616.3" cy="190.0" r="0.85"/><circle cx="610.2" cy="192.2" r="0.85"/><circle cx="646.0" cy="173.6" r="0.85"/><circle cx="656.6" cy="165.6" r="0.85"/><circle cx="604.2" cy="191.9" r="0.85"/><circle cx="616.6" cy="191.0" r="0.85"/><circle cx="643.2" cy="177.1" r="0.85"/><circle cx="630.4" cy="175.2" r="0.85"/><circle cx="619.4" cy="189.8" r="0.85"/><circle cx="644.5" cy="177.0" r="0.85"/><circle cx="610.3" cy="192.0" r="0.85"/><circle cx="626.4" cy="185.3" r="0.85"/><circle cx="603.9" cy="194.2" r="0.85"/><circle cx="624.8" cy="188.2" r="0.85"/><circle cx="615.0" cy="187.4" r="0.85"/><circle cx="631.5" cy="179.2" r="0.85"/><circle cx="625.4" cy="181.2" r="0.85"/><circle cx="603.8" cy="193.5" r="0.85"/><circle cx="638.2" cy="166.5" r="0.85"/><circle cx="616.5" cy="183.7" r="0.85"/><circle cx="623.7" cy="187.4" r="0.85"/><circle cx="625.8" cy="177.5" r="0.85"/><circle cx="629.2" cy="183.3" r="0.85"/><circle cx="649.6" cy="165.9" r="0.85"/><circle cx="636.9" cy="178.0" r="0.85"/><circle cx="632.2" cy="182.3" r="0.85"/><circle cx="609.9" cy="191.7" r="0.85"/><circle cx="625.1" cy="178.7" r="0.85"/><circle cx="617.5" cy="189.9" r="0.85"/><circle cx="600.7" cy="195.5" r="0.85"/><circle cx="624.4" cy="187.8" r="0.85"/><circle cx="652.7" cy="170.0" r="0.85"/><circle cx="606.4" cy="194.4" r="0.85"/><circle cx="623.7" cy="180.2" r="0.85"/><circle cx="625.2" cy="185.3" r="0.85"/><circle cx="633.7" cy="180.6" r="0.85"/><circle cx="640.8" cy="172.7" r="0.85"/><circle cx="618.3" cy="188.2" r="0.85"/><circle cx="641.6" cy="182.4" r="0.85"/><circle cx="627.8" cy="185.2" r="0.85"/><circle cx="646.9" cy="177.9" r="0.85"/><circle cx="630.9" cy="179.2" r="0.85"/><circle cx="656.3" cy="164.7" r="0.85"/><circle cx="631.4" cy="171.2" r="0.85"/><circle cx="615.0" cy="190.4" r="0.85"/><circle cx="620.2" cy="188.4" r="0.85"/><circle cx="641.1" cy="168.2" r="0.85"/><circle cx="639.7" cy="165.0" r="0.85"/><circle cx="597.6" cy="197.3" r="0.85"/><circle cx="635.1" cy="177.3" r="0.85"/><circle cx="649.4" cy="178.5" r="0.85"/><circle cx="608.7" cy="188.7" r="0.85"/><circle cx="614.6" cy="190.9" r="0.85"/><circle cx="599.1" cy="196.8" r="0.85"/><circle cx="643.0" cy="178.5" r="0.85"/><circle cx="627.0" cy="182.9" r="0.85"/><circle cx="609.0" cy="189.1" r="0.85"/><circle cx="602.5" cy="196.5" r="0.85"/><circle cx="628.0" cy="177.5" r="0.85"/><circle cx="604.7" cy="192.8" r="0.85"/><circle cx="607.8" cy="193.3" r="0.85"/><circle cx="624.6" cy="183.0" r="0.85"/><circle cx="624.9" cy="186.0" r="0.85"/><circle cx="652.1" cy="170.0" r="0.85"/><circle cx="601.0" cy="196.7" r="0.85"/><circle cx="647.8" cy="165.7" r="0.85"/><circle cx="617.8" cy="181.8" r="0.85"/><circle cx="619.5" cy="184.9" r="0.85"/><circle cx="601.0" cy="196.3" r="0.85"/><circle cx="641.3" cy="165.1" r="0.85"/><circle cx="643.8" cy="180.7" r="0.85"/><circle cx="612.0" cy="192.7" r="0.85"/><circle cx="621.3" cy="183.3" r="0.85"/><circle cx="609.2" cy="192.0" r="0.85"/><circle cx="603.1" cy="195.7" r="0.85"/><circle cx="612.8" cy="190.1" r="0.85"/><circle cx="627.4" cy="180.7" r="0.85"/><circle cx="604.1" cy="194.0" r="0.85"/><circle cx="644.8" cy="167.3" r="0.85"/><circle cx="611.8" cy="186.7" r="0.85"/><circle cx="653.8" cy="175.0" r="0.85"/><circle cx="633.1" cy="182.0" r="0.85"/><circle cx="619.1" cy="188.1" r="0.85"/><circle cx="637.8" cy="175.5" r="0.85"/><circle cx="608.1" cy="193.3" r="0.85"/><circle cx="644.2" cy="177.4" r="0.85"/><circle cx="633.6" cy="172.3" r="0.85"/><circle cx="603.9" cy="195.5" r="0.85"/><circle cx="654.9" cy="172.4" r="0.85"/><circle cx="658.1" cy="164.2" r="0.85"/><circle cx="655.7" cy="169.3" r="0.85"/><circle cx="627.4" cy="182.3" r="0.85"/><circle cx="653.3" cy="175.8" r="0.85"/><circle cx="628.2" cy="174.0" r="0.85"/><circle cx="651.9" cy="171.2" r="0.85"/><circle cx="645.0" cy="180.0" r="0.85"/><circle cx="645.8" cy="163.8" r="0.85"/><circle cx="609.8" cy="188.6" r="0.85"/><circle cx="634.1" cy="171.6" r="0.85"/><circle cx="656.7" cy="175.3" r="0.85"/><circle cx="601.6" cy="193.8" r="0.85"/><circle cx="597.9" cy="196.9" r="0.85"/><circle cx="610.5" cy="188.2" r="0.85"/><circle cx="601.8" cy="194.9" r="0.85"/><circle cx="597.3" cy="198.2" r="0.85"/><circle cx="601.2" cy="195.6" r="0.85"/><circle cx="605.2" cy="193.5" r="0.85"/><circle cx="614.2" cy="191.8" r="0.85"/><circle cx="619.0" cy="187.4" r="0.85"/><circle cx="604.2" cy="194.3" r="0.85"/><circle cx="622.6" cy="181.9" r="0.85"/><circle cx="640.3" cy="178.4" r="0.85"/><circle cx="631.0" cy="184.4" r="0.85"/><circle cx="643.2" cy="180.4" r="0.85"/><circle cx="638.0" cy="181.3" r="0.85"/><circle cx="647.4" cy="167.4" r="0.85"/><circle cx="600.5" cy="196.8" r="0.85"/><circle cx="654.2" cy="163.4" r="0.85"/><circle cx="617.1" cy="191.2" r="0.85"/><circle cx="615.1" cy="186.3" r="0.85"/><circle cx="609.1" cy="190.0" r="0.85"/><circle cx="615.0" cy="188.1" r="0.85"/><circle cx="603.0" cy="194.6" r="0.85"/><circle cx="601.9" cy="193.9" r="0.85"/><circle cx="601.5" cy="196.2" r="0.85"/><circle cx="645.0" cy="173.4" r="0.85"/><circle cx="608.1" cy="194.4" r="0.85"/><circle cx="647.2" cy="169.1" r="0.85"/><circle cx="603.0" cy="195.0" r="0.85"/><circle cx="611.4" cy="189.6" r="0.85"/><circle cx="655.1" cy="169.3" r="0.85"/><circle cx="607.6" cy="194.1" r="0.85"/><circle cx="632.1" cy="178.4" r="0.85"/><circle cx="604.6" cy="194.4" r="0.85"/><circle cx="621.6" cy="182.2" r="0.85"/><circle cx="641.7" cy="166.9" r="0.85"/><circle cx="622.5" cy="187.1" r="0.85"/><circle cx="647.2" cy="175.6" r="0.85"/><circle cx="623.8" cy="182.7" r="0.85"/><circle cx="618.5" cy="189.6" r="0.85"/><circle cx="639.2" cy="173.6" r="0.85"/><circle cx="597.3" cy="197.9" r="0.85"/><circle cx="599.1" cy="197.4" r="0.85"/><circle cx="657.4" cy="167.2" r="0.85"/><circle cx="655.6" cy="175.3" r="0.85"/><circle cx="597.6" cy="197.4" r="0.85"/><circle cx="612.6" cy="186.7" r="0.85"/><circle cx="646.1" cy="177.4" r="0.85"/><circle cx="599.6" cy="196.9" r="0.85"/><circle cx="620.7" cy="180.9" r="0.85"/><circle cx="634.2" cy="169.4" r="0.85"/><circle cx="654.8" cy="177.3" r="0.85"/><circle cx="602.8" cy="194.7" r="0.85"/><circle cx="628.4" cy="175.8" r="0.85"/><circle cx="616.5" cy="184.2" r="0.85"/><circle cx="598.8" cy="196.0" r="0.85"/><circle cx="638.0" cy="180.0" r="0.85"/><circle cx="656.3" cy="169.4" r="0.85"/><circle cx="618.4" cy="187.6" r="0.85"/><circle cx="630.4" cy="183.1" r="0.85"/><circle cx="623.2" cy="180.6" r="0.85"/><circle cx="658.0" cy="177.5" r="0.85"/><circle cx="635.2" cy="168.4" r="0.85"/><circle cx="657.5" cy="166.5" r="0.85"/><circle cx="644.9" cy="170.3" r="0.85"/><circle cx="647.0" cy="175.1" r="0.85"/><circle cx="597.7" cy="198.1" r="0.85"/><circle cx="649.4" cy="175.5" r="0.85"/><circle cx="623.6" cy="187.4" r="0.85"/><circle cx="644.1" cy="172.6" r="0.85"/><circle cx="642.0" cy="166.4" r="0.85"/><circle cx="643.6" cy="172.9" r="0.85"/><circle cx="622.7" cy="178.3" r="0.85"/><circle cx="636.3" cy="170.8" r="0.85"/><circle cx="598.1" cy="196.8" r="0.85"/><circle cx="626.5" cy="178.6" r="0.85"/><circle cx="642.3" cy="176.2" r="0.85"/><circle cx="635.9" cy="177.9" r="0.85"/><circle cx="651.6" cy="165.1" r="0.85"/><circle cx="613.8" cy="185.2" r="0.85"/><circle cx="600.4" cy="195.6" r="0.85"/><circle cx="639.6" cy="179.1" r="0.85"/><circle cx="650.4" cy="167.5" r="0.85"/><circle cx="637.8" cy="182.1" r="0.85"/><circle cx="620.4" cy="187.9" r="0.85"/><circle cx="627.4" cy="178.1" r="0.85"/><circle cx="640.6" cy="182.4" r="0.85"/><circle cx="655.3" cy="173.2" r="0.85"/><circle cx="624.6" cy="180.3" r="0.85"/><circle cx="623.2" cy="182.4" r="0.85"/><circle cx="641.0" cy="171.7" r="0.85"/><circle cx="638.3" cy="182.0" r="0.85"/><circle cx="613.7" cy="186.3" r="0.85"/><circle cx="602.2" cy="194.1" r="0.85"/><circle cx="637.6" cy="175.6" r="0.85"/><circle cx="617.8" cy="188.0" r="0.85"/><circle cx="622.9" cy="189.6" r="0.85"/><circle cx="650.9" cy="176.0" r="0.85"/><circle cx="602.3" cy="194.8" r="0.85"/><circle cx="600.5" cy="195.3" r="0.85"/><circle cx="653.5" cy="179.3" r="0.85"/><circle cx="640.3" cy="166.2" r="0.85"/><circle cx="603.3" cy="196.2" r="0.85"/><circle cx="604.2" cy="194.8" r="0.85"/><circle cx="650.8" cy="165.8" r="0.85"/><circle cx="624.2" cy="183.7" r="0.85"/><circle cx="633.6" cy="181.4" r="0.85"/><circle cx="617.8" cy="187.1" r="0.85"/><circle cx="602.7" cy="193.3" r="0.85"/><circle cx="641.1" cy="183.3" r="0.85"/><circle cx="625.6" cy="176.5" r="0.85"/><circle cx="653.7" cy="171.6" r="0.85"/><circle cx="628.2" cy="187.9" r="0.85"/><circle cx="636.0" cy="180.4" r="0.85"/><circle cx="625.8" cy="181.1" r="0.85"/><circle cx="641.4" cy="183.5" r="0.85"/><circle cx="624.1" cy="186.8" r="0.85"/><circle cx="600.8" cy="195.6" r="0.85"/><circle cx="633.6" cy="177.3" r="0.85"/><circle cx="648.7" cy="171.0" r="0.85"/><circle cx="651.8" cy="172.1" r="0.85"/><circle cx="632.8" cy="171.7" r="0.85"/><circle cx="604.3" cy="194.8" r="0.85"/><circle cx="632.8" cy="170.2" r="0.85"/><circle cx="630.4" cy="180.0" r="0.85"/><circle cx="645.9" cy="164.7" r="0.85"/><circle cx="609.8" cy="189.7" r="0.85"/><circle cx="614.7" cy="184.0" r="0.85"/><circle cx="642.9" cy="172.3" r="0.85"/><circle cx="605.0" cy="192.0" r="0.85"/><circle cx="614.4" cy="186.4" r="0.85"/><circle cx="619.4" cy="185.5" r="0.85"/><circle cx="643.2" cy="170.3" r="0.85"/><circle cx="609.7" cy="189.8" r="0.85"/><circle cx="600.2" cy="195.3" r="0.85"/><circle cx="646.5" cy="176.1" r="0.85"/><circle cx="630.7" cy="186.2" r="0.85"/><circle cx="629.5" cy="181.3" r="0.85"/><circle cx="628.5" cy="183.6" r="0.85"/><circle cx="609.5" cy="190.8" r="0.85"/><circle cx="613.0" cy="186.8" r="0.85"/><circle cx="643.9" cy="181.1" r="0.85"/><circle cx="617.5" cy="182.5" r="0.85"/><circle cx="657.5" cy="169.2" r="0.85"/><circle cx="644.6" cy="169.9" r="0.85"/><circle cx="639.6" cy="169.2" r="0.85"/><circle cx="623.2" cy="184.9" r="0.85"/><circle cx="632.3" cy="186.0" r="0.85"/><circle cx="639.2" cy="170.7" r="0.85"/><circle cx="626.4" cy="180.7" r="0.85"/><circle cx="630.6" cy="186.0" r="0.85"/><circle cx="604.4" cy="193.7" r="0.85"/><circle cx="608.8" cy="191.8" r="0.85"/><circle cx="618.6" cy="184.2" r="0.85"/><circle cx="628.8" cy="175.2" r="0.85"/><circle cx="614.6" cy="184.8" r="0.85"/><circle cx="605.0" cy="195.5" r="0.85"/><circle cx="602.1" cy="194.7" r="0.85"/><circle cx="628.9" cy="173.8" r="0.85"/><circle cx="648.7" cy="180.3" r="0.85"/><circle cx="620.6" cy="187.2" r="0.85"/><circle cx="654.5" cy="163.3" r="0.85"/><circle cx="639.0" cy="165.4" r="0.85"/><circle cx="616.0" cy="186.8" r="0.85"/><circle cx="655.8" cy="167.0" r="0.85"/><circle cx="622.3" cy="188.2" r="0.85"/><circle cx="618.6" cy="191.0" r="0.85"/><circle cx="605.6" cy="192.3" r="0.85"/><circle cx="632.6" cy="174.0" r="0.85"/><circle cx="602.5" cy="196.0" r="0.85"/><circle cx="617.4" cy="184.5" r="0.85"/><circle cx="629.3" cy="186.6" r="0.85"/><circle cx="623.0" cy="187.3" r="0.85"/><circle cx="634.5" cy="175.5" r="0.85"/><circle cx="606.4" cy="190.2" r="0.85"/><circle cx="614.6" cy="188.4" r="0.85"/><circle cx="605.8" cy="194.8" r="0.85"/><circle cx="624.2" cy="181.1" r="0.85"/><circle cx="630.4" cy="184.4" r="0.85"/><circle cx="644.0" cy="164.4" r="0.85"/><circle cx="613.8" cy="192.5" r="0.85"/><circle cx="610.6" cy="193.2" r="0.85"/><circle cx="613.9" cy="188.1" r="0.85"/><circle cx="601.3" cy="196.7" r="0.85"/><circle cx="654.6" cy="175.1" r="0.85"/><circle cx="641.5" cy="172.2" r="0.85"/><circle cx="644.4" cy="164.7" r="0.85"/><circle cx="619.7" cy="184.7" r="0.85"/><circle cx="616.0" cy="184.2" r="0.85"/><circle cx="597.7" cy="197.7" r="0.85"/><circle cx="599.4" cy="197.6" r="0.85"/><circle cx="649.0" cy="164.2" r="0.85"/><circle cx="603.2" cy="192.9" r="0.85"/><circle cx="650.6" cy="165.3" r="0.85"/><circle cx="637.2" cy="176.4" r="0.85"/><circle cx="628.9" cy="181.5" r="0.85"/><circle cx="619.0" cy="187.1" r="0.85"/><circle cx="644.2" cy="178.7" r="0.85"/><circle cx="645.1" cy="178.1" r="0.85"/><circle cx="623.2" cy="189.2" r="0.85"/><circle cx="635.3" cy="173.4" r="0.85"/><circle cx="624.9" cy="185.8" r="0.85"/><circle cx="617.4" cy="190.0" r="0.85"/><circle cx="606.2" cy="194.9" r="0.85"/><circle cx="643.6" cy="172.9" r="0.85"/><circle cx="631.7" cy="175.5" r="0.85"/><circle cx="601.0" cy="195.2" r="0.85"/><circle cx="643.7" cy="176.3" r="0.85"/><circle cx="630.9" cy="181.2" r="0.85"/><circle cx="640.5" cy="173.2" r="0.85"/><circle cx="622.0" cy="179.4" r="0.85"/><circle cx="641.8" cy="170.0" r="0.85"/><circle cx="607.1" cy="191.0" r="0.85"/><circle cx="633.2" cy="177.8" r="0.85"/><circle cx="634.2" cy="174.3" r="0.85"/><circle cx="654.9" cy="169.9" r="0.85"/><circle cx="629.0" cy="185.4" r="0.85"/><circle cx="607.4" cy="191.7" r="0.85"/><circle cx="637.4" cy="180.8" r="0.85"/><circle cx="607.0" cy="193.9" r="0.85"/><circle cx="619.1" cy="182.1" r="0.85"/><circle cx="639.7" cy="178.2" r="0.85"/><circle cx="626.0" cy="176.5" r="0.85"/><circle cx="629.0" cy="185.4" r="0.85"/><circle cx="623.5" cy="181.8" r="0.85"/><circle cx="627.2" cy="176.0" r="0.85"/><circle cx="639.5" cy="171.9" r="0.85"/><circle cx="602.8" cy="194.0" r="0.85"/><circle cx="608.3" cy="192.2" r="0.85"/><circle cx="622.0" cy="184.6" r="0.85"/><circle cx="638.5" cy="178.7" r="0.85"/><circle cx="648.0" cy="175.2" r="0.85"/><circle cx="640.1" cy="170.7" r="0.85"/><circle cx="617.5" cy="182.4" r="0.85"/><circle cx="647.2" cy="173.5" r="0.85"/><circle cx="630.2" cy="179.1" r="0.85"/><circle cx="602.6" cy="194.7" r="0.85"/><circle cx="642.7" cy="179.8" r="0.85"/><circle cx="629.2" cy="178.1" r="0.85"/><circle cx="640.1" cy="173.7" r="0.85"/><circle cx="615.8" cy="187.6" r="0.85"/><circle cx="623.7" cy="181.9" r="0.85"/><circle cx="603.9" cy="192.7" r="0.85"/><circle cx="651.7" cy="166.1" r="0.85"/><circle cx="612.5" cy="190.0" r="0.85"/><circle cx="608.8" cy="192.9" r="0.85"/><circle cx="615.4" cy="187.7" r="0.85"/><circle cx="643.6" cy="173.2" r="0.85"/><circle cx="632.2" cy="185.0" r="0.85"/><circle cx="603.2" cy="196.1" r="0.85"/><circle cx="618.1" cy="183.7" r="0.85"/><circle cx="606.7" cy="190.4" r="0.85"/><circle cx="648.9" cy="180.1" r="0.85"/><circle cx="600.2" cy="195.5" r="0.85"/><circle cx="598.7" cy="197.8" r="0.85"/><circle cx="614.7" cy="189.9" r="0.85"/><circle cx="608.6" cy="190.5" r="0.85"/><circle cx="618.3" cy="183.5" r="0.85"/><circle cx="643.7" cy="177.0" r="0.85"/><circle cx="613.8" cy="188.7" r="0.85"/><circle cx="642.3" cy="178.3" r="0.85"/><circle cx="652.4" cy="171.5" r="0.85"/><circle cx="613.4" cy="190.2" r="0.85"/><circle cx="647.9" cy="166.5" r="0.85"/><circle cx="647.7" cy="173.7" r="0.85"/><circle cx="613.9" cy="186.3" r="0.85"/><circle cx="629.9" cy="181.7" r="0.85"/><circle cx="630.1" cy="183.0" r="0.85"/><circle cx="633.3" cy="174.6" r="0.85"/><circle cx="615.2" cy="191.2" r="0.85"/><circle cx="623.1" cy="187.6" r="0.85"/><circle cx="638.9" cy="179.3" r="0.85"/><circle cx="611.7" cy="187.4" r="0.85"/><circle cx="637.7" cy="172.4" r="0.85"/><circle cx="625.0" cy="176.7" r="0.85"/><circle cx="619.2" cy="186.6" r="0.85"/><circle cx="657.2" cy="164.2" r="0.85"/><circle cx="606.5" cy="194.2" r="0.85"/><circle cx="613.7" cy="188.1" r="0.85"/><circle cx="606.1" cy="192.7" r="0.85"/><circle cx="599.2" cy="197.2" r="0.85"/><circle cx="620.4" cy="181.4" r="0.85"/><circle cx="599.3" cy="196.2" r="0.85"/><circle cx="617.4" cy="184.8" r="0.85"/><circle cx="652.9" cy="174.6" r="0.85"/><circle cx="636.1" cy="180.0" r="0.85"/><circle cx="633.6" cy="182.8" r="0.85"/><circle cx="611.3" cy="191.3" r="0.85"/><circle cx="624.2" cy="188.6" r="0.85"/><circle cx="646.0" cy="174.6" r="0.85"/><circle cx="632.9" cy="175.6" r="0.85"/><circle cx="651.6" cy="178.6" r="0.85"/><circle cx="641.7" cy="179.9" r="0.85"/><circle cx="614.9" cy="189.1" r="0.85"/><circle cx="645.0" cy="166.5" r="0.85"/><circle cx="612.4" cy="191.8" r="0.85"/><circle cx="651.9" cy="169.6" r="0.85"/><circle cx="633.9" cy="185.4" r="0.85"/><circle cx="653.8" cy="176.5" r="0.85"/><circle cx="608.6" cy="192.8" r="0.85"/><circle cx="597.8" cy="197.6" r="0.85"/><circle cx="618.1" cy="188.6" r="0.85"/><circle cx="601.8" cy="196.0" r="0.85"/><circle cx="633.5" cy="180.5" r="0.85"/><circle cx="615.1" cy="192.4" r="0.85"/><circle cx="635.4" cy="172.9" r="0.85"/><circle cx="601.4" cy="195.9" r="0.85"/><circle cx="625.6" cy="179.6" r="0.85"/><circle cx="620.2" cy="184.1" r="0.85"/><circle cx="603.6" cy="193.6" r="0.85"/><circle cx="602.2" cy="195.6" r="0.85"/><circle cx="631.5" cy="184.5" r="0.85"/><circle cx="598.2" cy="196.7" r="0.85"/><circle cx="622.1" cy="186.8" r="0.85"/><circle cx="613.0" cy="185.3" r="0.85"/><circle cx="628.3" cy="179.2" r="0.85"/><circle cx="616.1" cy="187.9" r="0.85"/><circle cx="597.6" cy="197.2" r="0.85"/><circle cx="655.6" cy="176.5" r="0.85"/><circle cx="644.5" cy="180.6" r="0.85"/><circle cx="657.5" cy="167.1" r="0.85"/><circle cx="651.5" cy="173.7" r="0.85"/><circle cx="612.3" cy="192.2" r="0.85"/><circle cx="599.2" cy="196.3" r="0.85"/><circle cx="609.9" cy="193.2" r="0.85"/><circle cx="632.6" cy="186.3" r="0.85"/><circle cx="626.3" cy="186.9" r="0.85"/><circle cx="656.6" cy="176.0" r="0.85"/><circle cx="631.8" cy="178.1" r="0.85"/><circle cx="651.7" cy="178.4" r="0.85"/><circle cx="603.8" cy="194.9" r="0.85"/><circle cx="646.4" cy="167.0" r="0.85"/><circle cx="604.1" cy="194.8" r="0.85"/><circle cx="657.3" cy="168.1" r="0.85"/><circle cx="612.7" cy="190.2" r="0.85"/><circle cx="643.5" cy="178.8" r="0.85"/><circle cx="628.5" cy="184.0" r="0.85"/><circle cx="638.2" cy="174.5" r="0.85"/><circle cx="607.3" cy="192.9" r="0.85"/><circle cx="623.7" cy="182.5" r="0.85"/><circle cx="606.0" cy="190.6" r="0.85"/><circle cx="653.5" cy="174.9" r="0.85"/><circle cx="599.2" cy="196.0" r="0.85"/><circle cx="605.9" cy="191.7" r="0.85"/><circle cx="648.7" cy="169.3" r="0.85"/><circle cx="647.2" cy="172.6" r="0.85"/><circle cx="647.4" cy="166.8" r="0.85"/><circle cx="642.1" cy="177.7" r="0.85"/><circle cx="600.3" cy="195.9" r="0.85"/><circle cx="628.6" cy="174.8" r="0.85"/><circle cx="640.1" cy="169.8" r="0.85"/><circle cx="641.3" cy="167.8" r="0.85"/><circle cx="644.4" cy="176.0" r="0.85"/><circle cx="656.8" cy="177.6" r="0.85"/><circle cx="626.8" cy="174.9" r="0.85"/><circle cx="647.6" cy="169.8" r="0.85"/><circle cx="608.1" cy="193.2" r="0.85"/><circle cx="621.2" cy="183.2" r="0.85"/><circle cx="638.3" cy="181.8" r="0.85"/><circle cx="631.3" cy="172.4" r="0.85"/><circle cx="611.4" cy="188.0" r="0.85"/><circle cx="622.5" cy="186.6" r="0.85"/><circle cx="639.4" cy="179.3" r="0.85"/><circle cx="631.3" cy="173.6" r="0.85"/><circle cx="642.1" cy="181.4" r="0.85"/><circle cx="602.2" cy="195.2" r="0.85"/><circle cx="629.8" cy="181.7" r="0.85"/><circle cx="639.5" cy="165.7" r="0.85"/><circle cx="654.8" cy="178.3" r="0.85"/><circle cx="648.7" cy="176.1" r="0.85"/><circle cx="640.6" cy="164.9" r="0.85"/><circle cx="631.8" cy="172.0" r="0.85"/><circle cx="617.3" cy="190.3" r="0.85"/><circle cx="613.5" cy="190.6" r="0.85"/><circle cx="620.9" cy="188.7" r="0.85"/><circle cx="652.4" cy="179.1" r="0.85"/><circle cx="627.4" cy="182.4" r="0.85"/><circle cx="643.1" cy="173.9" r="0.85"/><circle cx="629.3" cy="176.3" r="0.85"/><circle cx="651.3" cy="164.8" r="0.85"/><circle cx="633.1" cy="174.3" r="0.85"/><circle cx="631.6" cy="185.1" r="0.85"/><circle cx="612.6" cy="188.5" r="0.85"/><circle cx="649.3" cy="173.6" r="0.85"/><circle cx="642.6" cy="166.1" r="0.85"/><circle cx="606.8" cy="190.3" r="0.85"/><circle cx="627.7" cy="181.2" r="0.85"/><circle cx="631.5" cy="179.7" r="0.85"/><circle cx="645.4" cy="174.1" r="0.85"/><circle cx="620.4" cy="186.5" r="0.85"/><circle cx="624.3" cy="177.4" r="0.85"/><circle cx="621.0" cy="189.1" r="0.85"/><circle cx="651.3" cy="168.8" r="0.85"/><circle cx="619.5" cy="182.5" r="0.85"/><circle cx="618.1" cy="185.5" r="0.85"/><circle cx="646.8" cy="181.3" r="0.85"/><circle cx="632.3" cy="174.3" r="0.85"/><circle cx="626.7" cy="179.3" r="0.85"/><circle cx="652.7" cy="166.9" r="0.85"/><circle cx="640.6" cy="181.4" r="0.85"/><circle cx="644.9" cy="171.4" r="0.85"/><circle cx="611.9" cy="187.0" r="0.85"/><circle cx="617.4" cy="190.2" r="0.85"/><circle cx="598.4" cy="197.3" r="0.85"/><circle cx="619.2" cy="190.3" r="0.85"/><circle cx="627.4" cy="181.6" r="0.85"/><circle cx="599.8" cy="196.5" r="0.85"/><circle cx="605.2" cy="193.4" r="0.85"/><circle cx="641.0" cy="170.4" r="0.85"/><circle cx="600.5" cy="195.4" r="0.85"/><circle cx="605.2" cy="194.3" r="0.85"/><circle cx="646.7" cy="164.5" r="0.85"/><circle cx="606.7" cy="192.1" r="0.85"/><circle cx="620.3" cy="186.9" r="0.85"/><circle cx="624.0" cy="177.1" r="0.85"/><circle cx="602.9" cy="196.0" r="0.85"/><circle cx="605.0" cy="195.1" r="0.85"/><circle cx="628.1" cy="182.8" r="0.85"/><circle cx="616.9" cy="182.4" r="0.85"/><circle cx="621.6" cy="184.6" r="0.85"/><circle cx="615.9" cy="188.6" r="0.85"/><circle cx="606.4" cy="191.8" r="0.85"/><circle cx="653.9" cy="171.9" r="0.85"/><circle cx="640.3" cy="164.7" r="0.85"/><circle cx="625.1" cy="176.5" r="0.85"/><circle cx="611.6" cy="187.9" r="0.85"/><circle cx="656.5" cy="173.0" r="0.85"/><circle cx="614.3" cy="189.3" r="0.85"/><circle cx="588.8" cy="169.9" r="0.85"/><circle cx="589.7" cy="197.6" r="0.85"/><circle cx="584.7" cy="183.9" r="0.85"/><circle cx="581.8" cy="165.5" r="0.85"/><circle cx="582.6" cy="180.7" r="0.85"/><circle cx="589.9" cy="153.9" r="0.85"/><circle cx="581.2" cy="169.8" r="0.85"/><circle cx="588.7" cy="192.9" r="0.85"/><circle cx="586.6" cy="162.6" r="0.85"/><circle cx="587.8" cy="180.5" r="0.85"/><circle cx="586.3" cy="172.9" r="0.85"/><circle cx="581.3" cy="159.8" r="0.85"/><circle cx="589.5" cy="188.3" r="0.85"/><circle cx="589.2" cy="153.8" r="0.85"/><circle cx="578.6" cy="170.8" r="0.85"/><circle cx="581.9" cy="155.2" r="0.85"/><circle cx="583.7" cy="165.7" r="0.85"/><circle cx="581.7" cy="174.2" r="0.85"/><circle cx="588.6" cy="188.7" r="0.85"/><circle cx="588.9" cy="195.9" r="0.85"/><circle cx="589.2" cy="189.8" r="0.85"/><circle cx="589.7" cy="167.0" r="0.85"/><circle cx="583.2" cy="182.9" r="0.85"/><circle cx="589.7" cy="169.4" r="0.85"/><circle cx="587.9" cy="185.9" r="0.85"/><circle cx="584.4" cy="168.5" r="0.85"/><circle cx="583.7" cy="160.2" r="0.85"/><circle cx="580.5" cy="160.8" r="0.85"/><circle cx="587.7" cy="170.1" r="0.85"/><circle cx="587.4" cy="155.5" r="0.85"/><circle cx="580.3" cy="156.5" r="0.85"/><circle cx="586.7" cy="158.9" r="0.85"/><circle cx="584.7" cy="179.3" r="0.85"/><circle cx="578.6" cy="155.8" r="0.85"/><circle cx="578.9" cy="158.6" r="0.85"/><circle cx="587.8" cy="154.9" r="0.85"/><circle cx="580.0" cy="180.5" r="0.85"/><circle cx="589.3" cy="175.2" r="0.85"/><circle cx="588.5" cy="185.1" r="0.85"/><circle cx="579.7" cy="172.0" r="0.85"/><circle cx="584.9" cy="189.0" r="0.85"/><circle cx="586.8" cy="182.8" r="0.85"/><circle cx="579.3" cy="158.7" r="0.85"/><circle cx="580.1" cy="169.8" r="0.85"/><circle cx="588.5" cy="165.0" r="0.85"/><circle cx="588.1" cy="166.2" r="0.85"/><circle cx="582.5" cy="154.3" r="0.85"/><circle cx="581.3" cy="176.6" r="0.85"/><circle cx="589.2" cy="187.7" r="0.85"/><circle cx="588.0" cy="153.5" r="0.85"/><circle cx="584.1" cy="185.8" r="0.85"/><circle cx="588.3" cy="189.7" r="0.85"/><circle cx="590.2" cy="192.9" r="0.85"/><circle cx="579.7" cy="157.1" r="0.85"/><circle cx="589.6" cy="153.9" r="0.85"/><circle cx="590.1" cy="194.9" r="0.85"/><circle cx="580.4" cy="164.4" r="0.85"/><circle cx="585.8" cy="187.7" r="0.85"/><circle cx="581.0" cy="175.7" r="0.85"/><circle cx="587.8" cy="171.8" r="0.85"/><circle cx="588.2" cy="172.4" r="0.85"/><circle cx="589.8" cy="195.5" r="0.85"/><circle cx="580.4" cy="168.9" r="0.85"/><circle cx="582.7" cy="167.7" r="0.85"/><circle cx="588.4" cy="174.3" r="0.85"/><circle cx="585.1" cy="155.9" r="0.85"/><circle cx="580.0" cy="181.9" r="0.85"/><circle cx="586.3" cy="163.6" r="0.85"/><circle cx="589.7" cy="195.9" r="0.85"/><circle cx="589.5" cy="159.2" r="0.85"/><circle cx="585.4" cy="162.7" r="0.85"/><circle cx="587.3" cy="185.2" r="0.85"/><circle cx="587.0" cy="192.4" r="0.85"/><circle cx="583.2" cy="166.1" r="0.85"/><circle cx="583.2" cy="156.0" r="0.85"/><circle cx="583.0" cy="158.1" r="0.85"/><circle cx="588.9" cy="191.9" r="0.85"/><circle cx="587.7" cy="160.3" r="0.85"/><circle cx="587.0" cy="184.6" r="0.85"/><circle cx="584.0" cy="160.0" r="0.85"/><circle cx="588.0" cy="163.1" r="0.85"/><circle cx="588.5" cy="189.3" r="0.85"/><circle cx="589.8" cy="177.4" r="0.85"/><circle cx="588.9" cy="168.0" r="0.85"/><circle cx="587.3" cy="185.4" r="0.85"/><circle cx="588.0" cy="167.1" r="0.85"/><circle cx="579.7" cy="171.6" r="0.85"/><circle cx="580.0" cy="175.1" r="0.85"/><circle cx="587.0" cy="169.3" r="0.85"/><circle cx="587.9" cy="160.8" r="0.85"/><circle cx="580.8" cy="162.7" r="0.85"/><circle cx="587.5" cy="191.9" r="0.85"/><circle cx="581.6" cy="159.3" r="0.85"/><circle cx="589.8" cy="174.8" r="0.85"/><circle cx="588.9" cy="188.8" r="0.85"/><circle cx="583.5" cy="169.5" r="0.85"/><circle cx="584.3" cy="151.5" r="0.85"/><circle cx="585.4" cy="172.3" r="0.85"/><circle cx="586.6" cy="180.0" r="0.85"/><circle cx="585.6" cy="189.8" r="0.85"/><circle cx="582.5" cy="170.4" r="0.85"/><circle cx="589.8" cy="197.0" r="0.85"/><circle cx="589.6" cy="198.3" r="0.85"/><circle cx="589.3" cy="187.5" r="0.85"/><circle cx="589.8" cy="168.8" r="0.85"/><circle cx="589.2" cy="195.0" r="0.85"/><circle cx="585.9" cy="156.4" r="0.85"/><circle cx="589.6" cy="198.6" r="0.85"/><circle cx="589.8" cy="156.5" r="0.85"/><circle cx="588.6" cy="185.0" r="0.85"/><circle cx="587.9" cy="159.7" r="0.85"/><circle cx="586.1" cy="163.6" r="0.85"/><circle cx="585.2" cy="185.0" r="0.85"/><circle cx="581.7" cy="163.3" r="0.85"/><circle cx="589.8" cy="179.0" r="0.85"/><circle cx="588.7" cy="172.1" r="0.85"/><circle cx="589.3" cy="195.8" r="0.85"/><circle cx="589.8" cy="178.1" r="0.85"/><circle cx="582.1" cy="169.8" r="0.85"/><circle cx="582.4" cy="163.0" r="0.85"/><circle cx="586.8" cy="188.4" r="0.85"/><circle cx="589.6" cy="197.4" r="0.85"/><circle cx="586.0" cy="191.3" r="0.85"/><circle cx="587.9" cy="193.1" r="0.85"/><circle cx="583.9" cy="179.9" r="0.85"/><circle cx="581.3" cy="155.7" r="0.85"/><circle cx="579.5" cy="181.1" r="0.85"/><circle cx="589.7" cy="153.3" r="0.85"/><circle cx="583.7" cy="174.0" r="0.85"/><circle cx="589.2" cy="182.2" r="0.85"/><circle cx="590.2" cy="194.3" r="0.85"/><circle cx="590.0" cy="194.8" r="0.85"/><circle cx="584.1" cy="182.8" r="0.85"/><circle cx="585.8" cy="157.8" r="0.85"/><circle cx="585.7" cy="158.7" r="0.85"/><circle cx="589.7" cy="190.4" r="0.85"/><circle cx="588.4" cy="189.2" r="0.85"/><circle cx="589.8" cy="175.1" r="0.85"/><circle cx="584.7" cy="180.1" r="0.85"/><circle cx="585.1" cy="182.0" r="0.85"/><circle cx="588.2" cy="157.2" r="0.85"/><circle cx="588.6" cy="170.0" r="0.85"/><circle cx="585.1" cy="188.4" r="0.85"/><circle cx="590.1" cy="191.2" r="0.85"/><circle cx="588.3" cy="188.7" r="0.85"/><circle cx="589.7" cy="162.2" r="0.85"/><circle cx="581.5" cy="154.6" r="0.85"/><circle cx="588.6" cy="188.9" r="0.85"/><circle cx="587.7" cy="188.2" r="0.85"/><circle cx="585.3" cy="181.8" r="0.85"/><circle cx="588.3" cy="194.5" r="0.85"/><circle cx="580.6" cy="181.3" r="0.85"/><circle cx="585.8" cy="189.0" r="0.85"/><circle cx="588.4" cy="190.1" r="0.85"/><circle cx="579.0" cy="171.1" r="0.85"/><circle cx="581.1" cy="153.6" r="0.85"/><circle cx="586.3" cy="179.4" r="0.85"/><circle cx="587.4" cy="189.7" r="0.85"/><circle cx="580.8" cy="168.6" r="0.85"/><circle cx="589.0" cy="172.9" r="0.85"/><circle cx="580.9" cy="152.7" r="0.85"/><circle cx="578.9" cy="161.0" r="0.85"/><circle cx="583.1" cy="179.9" r="0.85"/><circle cx="586.7" cy="167.1" r="0.85"/><circle cx="586.8" cy="166.5" r="0.85"/><circle cx="587.6" cy="158.5" r="0.85"/><circle cx="587.8" cy="185.9" r="0.85"/><circle cx="589.6" cy="193.3" r="0.85"/><circle cx="587.1" cy="191.7" r="0.85"/><circle cx="587.2" cy="185.8" r="0.85"/><circle cx="588.3" cy="155.2" r="0.85"/><circle cx="578.8" cy="153.9" r="0.85"/><circle cx="584.5" cy="188.4" r="0.85"/><circle cx="588.3" cy="154.6" r="0.85"/><circle cx="588.9" cy="184.1" r="0.85"/><circle cx="590.0" cy="157.1" r="0.85"/><circle cx="582.0" cy="180.0" r="0.85"/><circle cx="587.0" cy="193.2" r="0.85"/><circle cx="585.8" cy="188.0" r="0.85"/><circle cx="587.3" cy="190.8" r="0.85"/><circle cx="585.4" cy="165.5" r="0.85"/><circle cx="584.5" cy="173.0" r="0.85"/><circle cx="589.9" cy="197.7" r="0.85"/><circle cx="585.3" cy="171.7" r="0.85"/><circle cx="584.1" cy="161.0" r="0.85"/><circle cx="587.5" cy="155.6" r="0.85"/><circle cx="588.4" cy="184.2" r="0.85"/><circle cx="588.1" cy="165.1" r="0.85"/><circle cx="587.3" cy="171.5" r="0.85"/><circle cx="589.7" cy="170.8" r="0.85"/><circle cx="589.5" cy="181.2" r="0.85"/><circle cx="587.1" cy="167.0" r="0.85"/><circle cx="586.8" cy="175.6" r="0.85"/><circle cx="589.7" cy="160.7" r="0.85"/><circle cx="589.0" cy="194.6" r="0.85"/><circle cx="589.4" cy="195.4" r="0.85"/><circle cx="589.5" cy="187.7" r="0.85"/><circle cx="587.7" cy="151.9" r="0.85"/><circle cx="587.0" cy="180.9" r="0.85"/><circle cx="585.3" cy="171.0" r="0.85"/><circle cx="584.7" cy="188.7" r="0.85"/><circle cx="583.5" cy="160.9" r="0.85"/><circle cx="584.6" cy="186.6" r="0.85"/><circle cx="587.2" cy="184.0" r="0.85"/><circle cx="582.4" cy="163.8" r="0.85"/><circle cx="583.2" cy="180.1" r="0.85"/><circle cx="586.1" cy="160.2" r="0.85"/><circle cx="582.6" cy="162.2" r="0.85"/><circle cx="589.3" cy="188.3" r="0.85"/><circle cx="590.0" cy="196.2" r="0.85"/><circle cx="588.6" cy="195.7" r="0.85"/><circle cx="588.7" cy="175.1" r="0.85"/><circle cx="579.4" cy="162.3" r="0.85"/><circle cx="589.3" cy="196.9" r="0.85"/><circle cx="589.3" cy="194.3" r="0.85"/><circle cx="589.6" cy="194.8" r="0.85"/><circle cx="589.8" cy="173.4" r="0.85"/><circle cx="580.9" cy="153.3" r="0.85"/><circle cx="589.7" cy="162.0" r="0.85"/><circle cx="583.5" cy="177.0" r="0.85"/><circle cx="585.7" cy="156.2" r="0.85"/><circle cx="585.2" cy="177.9" r="0.85"/><circle cx="581.4" cy="176.9" r="0.85"/><circle cx="586.0" cy="156.9" r="0.85"/><circle cx="589.8" cy="170.9" r="0.85"/><circle cx="586.9" cy="184.7" r="0.85"/><circle cx="589.3" cy="188.6" r="0.85"/><circle cx="584.0" cy="187.6" r="0.85"/><circle cx="589.2" cy="198.2" r="0.85"/><circle cx="578.7" cy="153.5" r="0.85"/><circle cx="585.2" cy="152.7" r="0.85"/><circle cx="589.7" cy="180.2" r="0.85"/><circle cx="583.6" cy="181.9" r="0.85"/><circle cx="585.4" cy="163.7" r="0.85"/><circle cx="587.0" cy="155.7" r="0.85"/><circle cx="590.1" cy="155.7" r="0.85"/><circle cx="588.3" cy="191.3" r="0.85"/><circle cx="581.2" cy="166.5" r="0.85"/><circle cx="589.7" cy="192.1" r="0.85"/><circle cx="588.6" cy="188.1" r="0.85"/><circle cx="586.1" cy="153.2" r="0.85"/><circle cx="584.4" cy="174.9" r="0.85"/><circle cx="589.1" cy="189.1" r="0.85"/><circle cx="587.3" cy="179.1" r="0.85"/><circle cx="590.1" cy="174.5" r="0.85"/><circle cx="584.4" cy="179.2" r="0.85"/><circle cx="581.7" cy="166.5" r="0.85"/><circle cx="585.6" cy="155.7" r="0.85"/><circle cx="589.2" cy="189.8" r="0.85"/><circle cx="584.9" cy="184.2" r="0.85"/><circle cx="583.3" cy="176.5" r="0.85"/><circle cx="588.1" cy="179.0" r="0.85"/><circle cx="588.4" cy="190.4" r="0.85"/><circle cx="584.0" cy="186.0" r="0.85"/><circle cx="581.2" cy="171.3" r="0.85"/><circle cx="582.4" cy="169.6" r="0.85"/><circle cx="585.5" cy="172.1" r="0.85"/><circle cx="589.0" cy="184.4" r="0.85"/><circle cx="587.5" cy="152.3" r="0.85"/><circle cx="588.6" cy="177.7" r="0.85"/><circle cx="584.0" cy="170.2" r="0.85"/><circle cx="579.3" cy="179.2" r="0.85"/><circle cx="589.8" cy="198.8" r="0.85"/><circle cx="582.1" cy="165.7" r="0.85"/><circle cx="585.2" cy="165.6" r="0.85"/><circle cx="587.9" cy="171.0" r="0.85"/><circle cx="583.7" cy="188.2" r="0.85"/><circle cx="580.4" cy="158.1" r="0.85"/><circle cx="588.7" cy="190.8" r="0.85"/><circle cx="584.2" cy="187.6" r="0.85"/><circle cx="590.1" cy="173.6" r="0.85"/><circle cx="588.5" cy="193.8" r="0.85"/><circle cx="582.8" cy="180.0" r="0.85"/><circle cx="586.7" cy="159.8" r="0.85"/><circle cx="590.0" cy="196.1" r="0.85"/><circle cx="581.2" cy="177.9" r="0.85"/><circle cx="584.0" cy="161.2" r="0.85"/><circle cx="584.0" cy="166.0" r="0.85"/><circle cx="586.5" cy="151.6" r="0.85"/><circle cx="585.9" cy="191.5" r="0.85"/><circle cx="587.0" cy="154.2" r="0.85"/><circle cx="584.2" cy="188.4" r="0.85"/><circle cx="584.6" cy="156.7" r="0.85"/><circle cx="589.1" cy="159.6" r="0.85"/><circle cx="583.2" cy="172.0" r="0.85"/><circle cx="586.5" cy="173.3" r="0.85"/><circle cx="578.7" cy="175.8" r="0.85"/><circle cx="582.8" cy="161.4" r="0.85"/><circle cx="588.9" cy="190.4" r="0.85"/><circle cx="588.5" cy="193.8" r="0.85"/><circle cx="589.0" cy="181.3" r="0.85"/><circle cx="590.1" cy="157.3" r="0.85"/><circle cx="585.1" cy="173.0" r="0.85"/><circle cx="585.1" cy="190.5" r="0.85"/><circle cx="589.5" cy="186.2" r="0.85"/><circle cx="588.9" cy="196.7" r="0.85"/><circle cx="584.6" cy="174.6" r="0.85"/><circle cx="584.0" cy="178.5" r="0.85"/><circle cx="580.7" cy="153.4" r="0.85"/><circle cx="589.0" cy="178.1" r="0.85"/><circle cx="588.4" cy="185.2" r="0.85"/><circle cx="586.2" cy="154.7" r="0.85"/><circle cx="587.7" cy="182.8" r="0.85"/><circle cx="588.9" cy="187.1" r="0.85"/><circle cx="584.0" cy="180.6" r="0.85"/><circle cx="587.2" cy="184.8" r="0.85"/><circle cx="587.5" cy="189.9" r="0.85"/><circle cx="587.1" cy="156.1" r="0.85"/><circle cx="588.3" cy="192.8" r="0.85"/><circle cx="589.4" cy="194.7" r="0.85"/><circle cx="581.0" cy="169.0" r="0.85"/><circle cx="586.3" cy="167.6" r="0.85"/><circle cx="587.5" cy="184.8" r="0.85"/><circle cx="579.6" cy="155.3" r="0.85"/><circle cx="587.9" cy="172.1" r="0.85"/><circle cx="581.8" cy="176.9" r="0.85"/><circle cx="590.1" cy="193.7" r="0.85"/><circle cx="581.7" cy="164.1" r="0.85"/><circle cx="590.0" cy="195.0" r="0.85"/><circle cx="590.0" cy="184.2" r="0.85"/><circle cx="578.7" cy="161.1" r="0.85"/><circle cx="588.9" cy="172.6" r="0.85"/><circle cx="588.3" cy="163.3" r="0.85"/><circle cx="588.8" cy="190.8" r="0.85"/><circle cx="588.9" cy="193.1" r="0.85"/><circle cx="589.5" cy="160.9" r="0.85"/><circle cx="589.4" cy="194.1" r="0.85"/><circle cx="580.1" cy="176.2" r="0.85"/><circle cx="587.6" cy="184.2" r="0.85"/><circle cx="579.8" cy="155.7" r="0.85"/><circle cx="602.0" cy="159.3" r="0.85"/><circle cx="601.7" cy="182.6" r="0.85"/><circle cx="605.8" cy="166.2" r="0.85"/><circle cx="599.1" cy="195.0" r="0.85"/><circle cx="600.1" cy="171.5" r="0.85"/><circle cx="599.1" cy="187.5" r="0.85"/><circle cx="598.7" cy="196.7" r="0.85"/><circle cx="603.1" cy="158.7" r="0.85"/><circle cx="601.3" cy="172.9" r="0.85"/><circle cx="599.0" cy="185.5" r="0.85"/><circle cx="599.7" cy="194.7" r="0.85"/><circle cx="602.6" cy="175.3" r="0.85"/><circle cx="605.0" cy="182.6" r="0.85"/><circle cx="599.1" cy="160.6" r="0.85"/><circle cx="598.6" cy="197.7" r="0.85"/><circle cx="597.9" cy="196.8" r="0.85"/><circle cx="607.2" cy="153.5" r="0.85"/><circle cx="599.9" cy="171.2" r="0.85"/><circle cx="600.9" cy="178.6" r="0.85"/><circle cx="598.6" cy="192.9" r="0.85"/><circle cx="598.6" cy="193.5" r="0.85"/><circle cx="600.2" cy="152.8" r="0.85"/><circle cx="601.0" cy="191.1" r="0.85"/><circle cx="598.5" cy="196.1" r="0.85"/><circle cx="598.5" cy="194.2" r="0.85"/><circle cx="603.3" cy="152.3" r="0.85"/><circle cx="601.4" cy="187.5" r="0.85"/><circle cx="600.3" cy="181.4" r="0.85"/><circle cx="606.8" cy="172.1" r="0.85"/><circle cx="598.4" cy="170.2" r="0.85"/><circle cx="602.9" cy="155.6" r="0.85"/><circle cx="606.5" cy="183.0" r="0.85"/><circle cx="598.9" cy="194.1" r="0.85"/><circle cx="599.9" cy="167.6" r="0.85"/><circle cx="601.7" cy="172.6" r="0.85"/><circle cx="600.7" cy="192.3" r="0.85"/><circle cx="603.3" cy="173.5" r="0.85"/><circle cx="599.0" cy="166.4" r="0.85"/><circle cx="598.9" cy="197.0" r="0.85"/><circle cx="602.5" cy="177.4" r="0.85"/><circle cx="598.7" cy="160.0" r="0.85"/><circle cx="598.0" cy="194.3" r="0.85"/><circle cx="600.0" cy="195.3" r="0.85"/><circle cx="598.4" cy="171.2" r="0.85"/><circle cx="602.8" cy="161.9" r="0.85"/><circle cx="603.3" cy="168.9" r="0.85"/><circle cx="598.1" cy="162.6" r="0.85"/><circle cx="604.8" cy="178.8" r="0.85"/><circle cx="603.6" cy="158.8" r="0.85"/><circle cx="603.6" cy="163.2" r="0.85"/><circle cx="600.0" cy="194.7" r="0.85"/><circle cx="601.7" cy="182.3" r="0.85"/><circle cx="598.0" cy="197.5" r="0.85"/><circle cx="606.2" cy="181.8" r="0.85"/><circle cx="606.9" cy="182.3" r="0.85"/><circle cx="603.0" cy="153.2" r="0.85"/><circle cx="598.5" cy="169.6" r="0.85"/><circle cx="606.6" cy="163.4" r="0.85"/><circle cx="600.0" cy="165.3" r="0.85"/><circle cx="604.1" cy="153.6" r="0.85"/><circle cx="598.1" cy="195.6" r="0.85"/><circle cx="599.0" cy="171.5" r="0.85"/><circle cx="601.9" cy="176.2" r="0.85"/><circle cx="606.9" cy="179.3" r="0.85"/><circle cx="599.3" cy="186.1" r="0.85"/><circle cx="598.0" cy="181.0" r="0.85"/><circle cx="602.9" cy="153.2" r="0.85"/><circle cx="601.6" cy="182.2" r="0.85"/><circle cx="605.5" cy="179.2" r="0.85"/><circle cx="606.1" cy="159.3" r="0.85"/><circle cx="606.9" cy="164.2" r="0.85"/><circle cx="606.6" cy="155.9" r="0.85"/><circle cx="599.0" cy="192.9" r="0.85"/><circle cx="606.8" cy="158.4" r="0.85"/><circle cx="603.1" cy="169.4" r="0.85"/><circle cx="599.9" cy="187.7" r="0.85"/><circle cx="600.2" cy="165.8" r="0.85"/><circle cx="602.4" cy="181.9" r="0.85"/><circle cx="604.2" cy="177.6" r="0.85"/><circle cx="601.2" cy="173.5" r="0.85"/><circle cx="598.0" cy="198.2" r="0.85"/><circle cx="605.0" cy="162.8" r="0.85"/><circle cx="607.6" cy="175.1" r="0.85"/><circle cx="598.5" cy="196.5" r="0.85"/><circle cx="601.3" cy="181.2" r="0.85"/><circle cx="603.3" cy="184.4" r="0.85"/><circle cx="601.9" cy="177.2" r="0.85"/><circle cx="601.8" cy="170.7" r="0.85"/><circle cx="606.0" cy="158.3" r="0.85"/><circle cx="603.8" cy="160.2" r="0.85"/><circle cx="600.2" cy="188.8" r="0.85"/><circle cx="607.5" cy="156.1" r="0.85"/><circle cx="600.7" cy="182.4" r="0.85"/><circle cx="599.0" cy="182.7" r="0.85"/><circle cx="597.9" cy="197.1" r="0.85"/><circle cx="599.8" cy="185.3" r="0.85"/><circle cx="604.7" cy="171.7" r="0.85"/><circle cx="600.9" cy="158.6" r="0.85"/><circle cx="601.7" cy="172.1" r="0.85"/><circle cx="603.1" cy="155.3" r="0.85"/><circle cx="598.6" cy="165.2" r="0.85"/><circle cx="600.1" cy="172.4" r="0.85"/><circle cx="602.3" cy="181.7" r="0.85"/><circle cx="599.2" cy="167.0" r="0.85"/><circle cx="607.7" cy="168.4" r="0.85"/><circle cx="599.6" cy="180.7" r="0.85"/><circle cx="602.1" cy="169.1" r="0.85"/><circle cx="599.7" cy="185.0" r="0.85"/><circle cx="599.8" cy="193.0" r="0.85"/><circle cx="600.8" cy="160.2" r="0.85"/><circle cx="597.9" cy="160.5" r="0.85"/><circle cx="601.7" cy="189.2" r="0.85"/><circle cx="598.5" cy="192.9" r="0.85"/><circle cx="599.8" cy="191.8" r="0.85"/><circle cx="599.4" cy="164.9" r="0.85"/><circle cx="606.5" cy="154.6" r="0.85"/><circle cx="601.4" cy="152.1" r="0.85"/><circle cx="598.1" cy="197.9" r="0.85"/><circle cx="607.4" cy="164.4" r="0.85"/><circle cx="601.3" cy="174.6" r="0.85"/><circle cx="601.2" cy="158.3" r="0.85"/><circle cx="602.1" cy="168.4" r="0.85"/><circle cx="598.2" cy="196.6" r="0.85"/><circle cx="602.3" cy="162.3" r="0.85"/><circle cx="598.1" cy="173.6" r="0.85"/><circle cx="600.1" cy="168.1" r="0.85"/><circle cx="605.1" cy="164.2" r="0.85"/><circle cx="606.2" cy="173.6" r="0.85"/><circle cx="598.7" cy="172.4" r="0.85"/><circle cx="599.0" cy="160.8" r="0.85"/><circle cx="600.9" cy="169.0" r="0.85"/><circle cx="601.9" cy="169.0" r="0.85"/><circle cx="604.0" cy="175.1" r="0.85"/><circle cx="600.1" cy="170.1" r="0.85"/><circle cx="603.2" cy="170.2" r="0.85"/><circle cx="602.8" cy="172.8" r="0.85"/><circle cx="601.0" cy="181.3" r="0.85"/><circle cx="605.1" cy="174.3" r="0.85"/><circle cx="600.8" cy="151.6" r="0.85"/><circle cx="605.1" cy="153.4" r="0.85"/><circle cx="603.3" cy="164.7" r="0.85"/><circle cx="598.6" cy="170.6" r="0.85"/><circle cx="598.4" cy="196.8" r="0.85"/><circle cx="603.9" cy="159.5" r="0.85"/><circle cx="602.5" cy="165.4" r="0.85"/><circle cx="602.6" cy="183.0" r="0.85"/><circle cx="606.2" cy="179.5" r="0.85"/><circle cx="601.2" cy="184.0" r="0.85"/><circle cx="601.7" cy="155.9" r="0.85"/><circle cx="599.3" cy="185.0" r="0.85"/><circle cx="601.1" cy="179.1" r="0.85"/><circle cx="603.5" cy="162.4" r="0.85"/><circle cx="598.9" cy="151.3" r="0.85"/><circle cx="598.3" cy="184.4" r="0.85"/><circle cx="604.2" cy="171.7" r="0.85"/><circle cx="599.2" cy="185.4" r="0.85"/><circle cx="600.5" cy="164.9" r="0.85"/><circle cx="598.3" cy="170.9" r="0.85"/><circle cx="598.1" cy="181.8" r="0.85"/><circle cx="603.3" cy="163.7" r="0.85"/><circle cx="605.1" cy="169.6" r="0.85"/><circle cx="601.8" cy="176.7" r="0.85"/><circle cx="598.2" cy="177.5" r="0.85"/><circle cx="603.6" cy="153.3" r="0.85"/><circle cx="600.5" cy="175.1" r="0.85"/><circle cx="599.4" cy="161.7" r="0.85"/><circle cx="602.9" cy="183.4" r="0.85"/><circle cx="605.8" cy="158.9" r="0.85"/><circle cx="602.6" cy="169.4" r="0.85"/><circle cx="599.5" cy="185.0" r="0.85"/><circle cx="604.9" cy="175.7" r="0.85"/><circle cx="603.7" cy="171.7" r="0.85"/><circle cx="599.1" cy="171.5" r="0.85"/><circle cx="599.9" cy="184.5" r="0.85"/><circle cx="598.7" cy="170.5" r="0.85"/><circle cx="598.7" cy="190.8" r="0.85"/><circle cx="599.4" cy="190.8" r="0.85"/><circle cx="598.4" cy="187.0" r="0.85"/><circle cx="602.5" cy="156.7" r="0.85"/><circle cx="604.5" cy="160.8" r="0.85"/><circle cx="604.1" cy="176.8" r="0.85"/><circle cx="598.0" cy="197.2" r="0.85"/><circle cx="604.1" cy="156.8" r="0.85"/><circle cx="598.1" cy="198.3" r="0.85"/><circle cx="601.6" cy="175.6" r="0.85"/><circle cx="604.0" cy="176.5" r="0.85"/><circle cx="603.1" cy="156.0" r="0.85"/><circle cx="598.1" cy="198.5" r="0.85"/><circle cx="598.0" cy="197.7" r="0.85"/><circle cx="600.3" cy="186.5" r="0.85"/><circle cx="605.0" cy="161.7" r="0.85"/><circle cx="598.3" cy="184.4" r="0.85"/><circle cx="604.7" cy="161.9" r="0.85"/><circle cx="605.8" cy="171.6" r="0.85"/><circle cx="598.8" cy="169.3" r="0.85"/><circle cx="599.3" cy="193.7" r="0.85"/><circle cx="599.3" cy="193.1" r="0.85"/><circle cx="599.3" cy="196.6" r="0.85"/><circle cx="606.2" cy="154.2" r="0.85"/><circle cx="604.0" cy="165.7" r="0.85"/><circle cx="601.0" cy="185.0" r="0.85"/><circle cx="600.2" cy="194.8" r="0.85"/><circle cx="602.9" cy="175.2" r="0.85"/><circle cx="604.3" cy="169.9" r="0.85"/><circle cx="598.6" cy="194.3" r="0.85"/><circle cx="600.0" cy="181.7" r="0.85"/><circle cx="599.0" cy="192.1" r="0.85"/><circle cx="606.4" cy="154.5" r="0.85"/><circle cx="601.4" cy="164.1" r="0.85"/><circle cx="602.2" cy="190.6" r="0.85"/><circle cx="598.1" cy="195.9" r="0.85"/><circle cx="600.7" cy="182.3" r="0.85"/><circle cx="599.4" cy="153.6" r="0.85"/><circle cx="599.7" cy="191.8" r="0.85"/><circle cx="600.8" cy="166.3" r="0.85"/><circle cx="602.1" cy="189.4" r="0.85"/><circle cx="598.1" cy="191.1" r="0.85"/><circle cx="604.1" cy="164.8" r="0.85"/><circle cx="603.1" cy="176.0" r="0.85"/><circle cx="602.0" cy="157.6" r="0.85"/><circle cx="600.8" cy="189.4" r="0.85"/><circle cx="606.9" cy="179.0" r="0.85"/><circle cx="600.8" cy="192.9" r="0.85"/><circle cx="602.9" cy="181.8" r="0.85"/><circle cx="600.3" cy="169.9" r="0.85"/><circle cx="603.6" cy="176.6" r="0.85"/><circle cx="598.9" cy="167.7" r="0.85"/><circle cx="600.0" cy="193.6" r="0.85"/><circle cx="598.6" cy="176.6" r="0.85"/><circle cx="600.6" cy="186.4" r="0.85"/><circle cx="603.2" cy="177.3" r="0.85"/><circle cx="598.8" cy="192.2" r="0.85"/><circle cx="603.5" cy="165.4" r="0.85"/><circle cx="598.0" cy="189.6" r="0.85"/><circle cx="602.8" cy="189.4" r="0.85"/><circle cx="603.8" cy="156.7" r="0.85"/><circle cx="604.3" cy="179.7" r="0.85"/><circle cx="601.8" cy="158.0" r="0.85"/><circle cx="606.1" cy="163.4" r="0.85"/><circle cx="598.1" cy="184.8" r="0.85"/><circle cx="598.4" cy="197.5" r="0.85"/><circle cx="599.9" cy="187.6" r="0.85"/><circle cx="602.3" cy="153.9" r="0.85"/><circle cx="605.8" cy="179.7" r="0.85"/><circle cx="602.2" cy="157.4" r="0.85"/><circle cx="600.9" cy="181.3" r="0.85"/><circle cx="604.6" cy="170.5" r="0.85"/><circle cx="598.0" cy="185.6" r="0.85"/><circle cx="607.3" cy="164.6" r="0.85"/><circle cx="598.3" cy="154.9" r="0.85"/><circle cx="603.7" cy="166.2" r="0.85"/><circle cx="600.4" cy="169.6" r="0.85"/><circle cx="598.7" cy="176.5" r="0.85"/><circle cx="606.0" cy="175.6" r="0.85"/><circle cx="606.7" cy="153.7" r="0.85"/><circle cx="602.8" cy="170.9" r="0.85"/><circle cx="598.6" cy="174.7" r="0.85"/><circle cx="599.6" cy="174.8" r="0.85"/><circle cx="604.9" cy="162.6" r="0.85"/><circle cx="605.1" cy="162.7" r="0.85"/><circle cx="603.6" cy="153.7" r="0.85"/><circle cx="601.5" cy="185.8" r="0.85"/><circle cx="601.1" cy="189.7" r="0.85"/><circle cx="599.8" cy="196.0" r="0.85"/><circle cx="605.1" cy="164.2" r="0.85"/><circle cx="600.4" cy="167.3" r="0.85"/><circle cx="601.4" cy="163.3" r="0.85"/><circle cx="598.6" cy="181.3" r="0.85"/><circle cx="599.9" cy="162.1" r="0.85"/><circle cx="599.1" cy="153.8" r="0.85"/><circle cx="605.9" cy="185.2" r="0.85"/><circle cx="600.0" cy="154.4" r="0.85"/><circle cx="605.2" cy="163.4" r="0.85"/><circle cx="598.6" cy="196.4" r="0.85"/><circle cx="604.1" cy="168.2" r="0.85"/><circle cx="605.6" cy="158.5" r="0.85"/><circle cx="606.9" cy="170.5" r="0.85"/><circle cx="599.8" cy="169.8" r="0.85"/><circle cx="599.8" cy="196.0" r="0.85"/><circle cx="599.3" cy="189.1" r="0.85"/><circle cx="603.5" cy="163.2" r="0.85"/><circle cx="598.4" cy="158.9" r="0.85"/><circle cx="605.5" cy="173.1" r="0.85"/><circle cx="600.9" cy="160.1" r="0.85"/><circle cx="598.5" cy="154.2" r="0.85"/><circle cx="602.6" cy="183.1" r="0.85"/><circle cx="599.8" cy="186.0" r="0.85"/><circle cx="600.2" cy="167.5" r="0.85"/><circle cx="606.8" cy="151.3" r="0.85"/><circle cx="602.5" cy="162.5" r="0.85"/><circle cx="606.8" cy="160.4" r="0.85"/><circle cx="598.7" cy="187.2" r="0.85"/><circle cx="601.0" cy="194.2" r="0.85"/><circle cx="603.2" cy="178.3" r="0.85"/><circle cx="599.1" cy="161.6" r="0.85"/><circle cx="602.2" cy="155.5" r="0.85"/><circle cx="603.1" cy="189.4" r="0.85"/><circle cx="603.4" cy="183.0" r="0.85"/><circle cx="599.4" cy="196.6" r="0.85"/><circle cx="603.5" cy="152.8" r="0.85"/><circle cx="591.3" cy="168.0" r="0.85"/><circle cx="596.9" cy="195.4" r="0.85"/><circle cx="591.8" cy="186.6" r="0.85"/><circle cx="596.1" cy="198.6" r="0.85"/><circle cx="596.4" cy="189.2" r="0.85"/><circle cx="591.5" cy="190.0" r="0.85"/><circle cx="591.9" cy="167.2" r="0.85"/><circle cx="592.0" cy="194.9" r="0.85"/><circle cx="595.0" cy="198.4" r="0.85"/><circle cx="591.7" cy="187.3" r="0.85"/><circle cx="591.7" cy="198.1" r="0.85"/><circle cx="593.8" cy="176.4" r="0.85"/><circle cx="597.0" cy="178.7" r="0.85"/><circle cx="591.2" cy="173.5" r="0.85"/><circle cx="591.9" cy="182.0" r="0.85"/><circle cx="592.8" cy="194.0" r="0.85"/><circle cx="593.7" cy="197.7" r="0.85"/><circle cx="592.9" cy="192.0" r="0.85"/><circle cx="593.4" cy="167.1" r="0.85"/><circle cx="593.4" cy="183.7" r="0.85"/><circle cx="596.5" cy="188.0" r="0.85"/><circle cx="596.1" cy="165.0" r="0.85"/><circle cx="591.2" cy="194.0" r="0.85"/><circle cx="594.2" cy="177.9" r="0.85"/><circle cx="591.3" cy="167.5" r="0.85"/><circle cx="595.3" cy="175.5" r="0.85"/><circle cx="596.0" cy="169.7" r="0.85"/><circle cx="592.4" cy="172.9" r="0.85"/><circle cx="596.0" cy="192.0" r="0.85"/><circle cx="597.0" cy="195.4" r="0.85"/><circle cx="591.0" cy="183.6" r="0.85"/><circle cx="596.1" cy="188.9" r="0.85"/><circle cx="594.5" cy="198.8" r="0.85"/><circle cx="592.0" cy="184.9" r="0.85"/><circle cx="594.4" cy="187.1" r="0.85"/><circle cx="593.9" cy="195.8" r="0.85"/><circle cx="593.0" cy="193.0" r="0.85"/><circle cx="593.7" cy="194.6" r="0.85"/><circle cx="593.0" cy="197.3" r="0.85"/><circle cx="594.1" cy="192.9" r="0.85"/><circle cx="592.5" cy="172.4" r="0.85"/><circle cx="591.6" cy="193.8" r="0.85"/><circle cx="592.6" cy="169.2" r="0.85"/><circle cx="592.2" cy="171.8" r="0.85"/><circle cx="592.5" cy="173.8" r="0.85"/><circle cx="592.7" cy="168.1" r="0.85"/><circle cx="591.6" cy="183.4" r="0.85"/><circle cx="594.8" cy="175.8" r="0.85"/><circle cx="595.5" cy="188.0" r="0.85"/><circle cx="596.0" cy="190.7" r="0.85"/><circle cx="597.1" cy="192.5" r="0.85"/><circle cx="593.4" cy="189.4" r="0.85"/><circle cx="593.8" cy="182.5" r="0.85"/><circle cx="592.1" cy="198.7" r="0.85"/><circle cx="596.7" cy="172.8" r="0.85"/><circle cx="591.8" cy="191.7" r="0.85"/><circle cx="595.8" cy="185.8" r="0.85"/><circle cx="592.8" cy="175.7" r="0.85"/><circle cx="593.2" cy="159.7" r="0.85"/><circle cx="596.1" cy="183.0" r="0.85"/><circle cx="592.5" cy="168.8" r="0.85"/><circle cx="592.3" cy="191.6" r="0.85"/><circle cx="591.2" cy="180.4" r="0.85"/><circle cx="591.9" cy="188.9" r="0.85"/><circle cx="592.9" cy="196.1" r="0.85"/><circle cx="593.8" cy="198.4" r="0.85"/><circle cx="594.8" cy="185.6" r="0.85"/><circle cx="591.6" cy="183.1" r="0.85"/><circle cx="594.5" cy="193.6" r="0.85"/><circle cx="592.0" cy="171.9" r="0.85"/><circle cx="594.9" cy="183.9" r="0.85"/><circle cx="593.9" cy="183.9" r="0.85"/><circle cx="592.6" cy="195.6" r="0.85"/><circle cx="591.8" cy="169.4" r="0.85"/><circle cx="595.1" cy="191.3" r="0.85"/><circle cx="595.5" cy="180.2" r="0.85"/><circle cx="592.2" cy="185.5" r="0.85"/><circle cx="597.0" cy="180.8" r="0.85"/><circle cx="593.8" cy="194.5" r="0.85"/><circle cx="592.3" cy="173.9" r="0.85"/><circle cx="593.9" cy="184.6" r="0.85"/><circle cx="596.7" cy="183.6" r="0.85"/><circle cx="595.4" cy="173.1" r="0.85"/><circle cx="592.6" cy="198.2" r="0.85"/><circle cx="596.9" cy="171.8" r="0.85"/><circle cx="591.0" cy="190.0" r="0.85"/><circle cx="594.6" cy="163.0" r="0.85"/><circle cx="593.8" cy="197.4" r="0.85"/><circle cx="591.1" cy="183.7" r="0.85"/><circle cx="593.9" cy="174.9" r="0.85"/><circle cx="594.7" cy="190.1" r="0.85"/><circle cx="591.3" cy="197.1" r="0.85"/><circle cx="594.5" cy="178.6" r="0.85"/><circle cx="596.4" cy="197.1" r="0.85"/><circle cx="591.8" cy="169.6" r="0.85"/><circle cx="592.4" cy="167.0" r="0.85"/><circle cx="594.5" cy="173.7" r="0.85"/><circle cx="594.9" cy="198.7" r="0.85"/><circle cx="591.9" cy="164.0" r="0.85"/><circle cx="592.5" cy="178.2" r="0.85"/><circle cx="594.8" cy="158.4" r="0.85"/><circle cx="597.0" cy="179.6" r="0.85"/><circle cx="595.4" cy="176.1" r="0.85"/><circle cx="593.1" cy="188.2" r="0.85"/><circle cx="596.0" cy="179.0" r="0.85"/><circle cx="593.2" cy="180.9" r="0.85"/><circle cx="595.3" cy="194.1" r="0.85"/><circle cx="591.3" cy="190.5" r="0.85"/><circle cx="595.9" cy="188.8" r="0.85"/><circle cx="593.0" cy="193.0" r="0.85"/><circle cx="593.0" cy="185.2" r="0.85"/><circle cx="596.1" cy="168.8" r="0.85"/><circle cx="596.0" cy="184.5" r="0.85"/><circle cx="594.2" cy="180.0" r="0.85"/><circle cx="594.8" cy="197.0" r="0.85"/><circle cx="595.4" cy="188.5" r="0.85"/><circle cx="594.3" cy="189.4" r="0.85"/><circle cx="592.6" cy="174.3" r="0.85"/><circle cx="597.1" cy="163.0" r="0.85"/><circle cx="593.3" cy="177.3" r="0.85"/><circle cx="594.8" cy="198.5" r="0.85"/><circle cx="592.2" cy="179.7" r="0.85"/><circle cx="596.2" cy="185.9" r="0.85"/><circle cx="595.3" cy="195.8" r="0.85"/><circle cx="592.3" cy="197.4" r="0.85"/><circle cx="595.6" cy="162.6" r="0.85"/><circle cx="596.1" cy="174.2" r="0.85"/><circle cx="596.7" cy="182.4" r="0.85"/><circle cx="593.5" cy="198.1" r="0.85"/><circle cx="591.5" cy="196.0" r="0.85"/><circle cx="594.4" cy="178.1" r="0.85"/><circle cx="594.4" cy="178.7" r="0.85"/><circle cx="595.4" cy="175.1" r="0.85"/><circle cx="596.2" cy="194.0" r="0.85"/><circle cx="594.8" cy="169.0" r="0.85"/><circle cx="591.3" cy="156.9" r="0.85"/><circle cx="595.1" cy="183.4" r="0.85"/><circle cx="593.6" cy="192.0" r="0.85"/><circle cx="591.3" cy="176.7" r="0.85"/><circle cx="592.5" cy="176.5" r="0.85"/><circle cx="596.7" cy="190.0" r="0.85"/><circle cx="596.6" cy="194.0" r="0.85"/><circle cx="595.0" cy="184.3" r="0.85"/><circle cx="596.5" cy="192.5" r="0.85"/><circle cx="594.2" cy="191.6" r="0.85"/><circle cx="593.4" cy="189.6" r="0.85"/><circle cx="592.3" cy="169.8" r="0.85"/><circle cx="595.6" cy="193.1" r="0.85"/><circle cx="591.2" cy="189.1" r="0.85"/><circle cx="596.6" cy="198.6" r="0.85"/><circle cx="594.9" cy="188.9" r="0.85"/><circle cx="591.5" cy="187.7" r="0.85"/><circle cx="591.6" cy="192.3" r="0.85"/><circle cx="595.6" cy="172.9" r="0.85"/><circle cx="596.8" cy="165.0" r="0.85"/><circle cx="595.2" cy="166.9" r="0.85"/><circle cx="594.3" cy="192.3" r="0.85"/><circle cx="592.6" cy="197.4" r="0.85"/><circle cx="595.6" cy="174.2" r="0.85"/><circle cx="595.7" cy="198.2" r="0.85"/><circle cx="596.2" cy="197.8" r="0.85"/><circle cx="591.6" cy="181.5" r="0.85"/><circle cx="592.6" cy="188.1" r="0.85"/><circle cx="591.4" cy="190.4" r="0.85"/><circle cx="595.5" cy="179.0" r="0.85"/><circle cx="594.2" cy="175.0" r="0.85"/><circle cx="595.7" cy="191.9" r="0.85"/><circle cx="594.0" cy="197.7" r="0.85"/><circle cx="592.9" cy="174.2" r="0.85"/><circle cx="593.0" cy="167.0" r="0.85"/><circle cx="532.8" cy="153.0" r="0.85"/><circle cx="541.0" cy="158.2" r="0.85"/><circle cx="535.0" cy="160.5" r="0.85"/><circle cx="609.8" cy="152.6" r="0.85"/><circle cx="616.4" cy="152.7" r="0.85"/><circle cx="611.0" cy="158.0" r="0.85"/><circle cx="618.5" cy="164.3" r="0.85"/><circle cx="655.0" cy="160.8" r="0.85"/><circle cx="540.7" cy="178.5" r="0.85"/><circle cx="535.8" cy="172.0" r="0.85"/><circle cx="612.0" cy="174.0" r="0.85"/><circle cx="613.0" cy="177.0" r="0.85"/><circle cx="610.5" cy="170.0" r="0.85"/><circle cx="612.5" cy="167.0" r="0.85"/><circle cx="578.0" cy="176.0" r="0.85"/><circle cx="577.0" cy="164.0" r="0.85"/><circle cx="575.0" cy="157.0" r="0.85"/><circle cx="574.5" cy="153.0" r="0.85"/><circle cx="576.5" cy="168.0" r="0.85"/><circle cx="609.5" cy="176.0" r="0.85"/><circle cx="611.5" cy="181.0" r="0.85"/>
</g>
<g fill="#4c7ab6" stroke="#33599a" stroke-width="0.4">
<circle cx="531.3" cy="8.1" r="0.9"/><circle cx="534.0" cy="20.0" r="0.9"/><circle cx="533.8" cy="2.0" r="0.9"/><circle cx="531.1" cy="37.8" r="0.9"/><circle cx="542.4" cy="41.0" r="0.9"/><circle cx="540.4" cy="103.6" r="0.9"/><circle cx="530.6" cy="43.5" r="0.9"/><circle cx="542.7" cy="104.5" r="0.9"/><circle cx="535.9" cy="23.1" r="0.9"/><circle cx="543.6" cy="53.8" r="0.9"/><circle cx="535.2" cy="10.3" r="0.9"/><circle cx="530.5" cy="3.3" r="0.9"/><circle cx="538.4" cy="43.3" r="0.9"/><circle cx="541.4" cy="15.7" r="0.9"/><circle cx="541.5" cy="58.6" r="0.9"/><circle cx="541.4" cy="5.8" r="0.9"/><circle cx="540.4" cy="44.4" r="0.9"/><circle cx="538.2" cy="65.8" r="0.9"/><circle cx="538.5" cy="14.1" r="0.9"/><circle cx="538.4" cy="85.6" r="0.9"/><circle cx="541.6" cy="41.1" r="0.9"/><circle cx="537.9" cy="40.9" r="0.9"/><circle cx="542.9" cy="66.5" r="0.9"/><circle cx="546.2" cy="120.0" r="0.9"/><circle cx="534.8" cy="53.2" r="0.9"/><circle cx="533.7" cy="19.9" r="0.9"/><circle cx="532.8" cy="9.0" r="0.9"/><circle cx="534.0" cy="59.1" r="0.9"/><circle cx="537.6" cy="50.2" r="0.9"/><circle cx="538.1" cy="35.9" r="0.9"/><circle cx="531.2" cy="14.7" r="0.9"/><circle cx="538.9" cy="80.7" r="0.9"/><circle cx="543.9" cy="101.4" r="0.9"/><circle cx="536.9" cy="18.6" r="0.9"/><circle cx="544.5" cy="105.6" r="0.9"/><circle cx="543.7" cy="73.1" r="0.9"/><circle cx="531.3" cy="56.3" r="0.9"/><circle cx="528.5" cy="14.6" r="0.9"/><circle cx="538.8" cy="106.1" r="0.9"/><circle cx="528.8" cy="1.9" r="0.9"/><circle cx="534.7" cy="27.8" r="0.9"/><circle cx="539.7" cy="78.6" r="0.9"/><circle cx="535.9" cy="28.9" r="0.9"/><circle cx="535.4" cy="4.5" r="0.9"/><circle cx="536.0" cy="18.5" r="0.9"/><circle cx="545.2" cy="120.8" r="0.9"/><circle cx="540.1" cy="81.4" r="0.9"/><circle cx="545.6" cy="114.6" r="0.9"/><circle cx="539.9" cy="22.7" r="0.9"/><circle cx="536.3" cy="48.0" r="0.9"/><circle cx="540.9" cy="105.7" r="0.9"/><circle cx="532.4" cy="61.0" r="0.9"/><circle cx="541.2" cy="49.7" r="0.9"/><circle cx="535.2" cy="4.3" r="0.9"/><circle cx="530.7" cy="4.7" r="0.9"/><circle cx="533.4" cy="20.3" r="0.9"/><circle cx="545.7" cy="106.1" r="0.9"/><circle cx="542.5" cy="9.2" r="0.9"/><circle cx="541.5" cy="94.1" r="0.9"/><circle cx="538.0" cy="19.4" r="0.9"/><circle cx="528.8" cy="45.8" r="0.9"/><circle cx="534.2" cy="32.9" r="0.9"/><circle cx="540.3" cy="80.2" r="0.9"/><circle cx="540.7" cy="93.4" r="0.9"/><circle cx="528.0" cy="18.6" r="0.9"/><circle cx="533.9" cy="14.0" r="0.9"/><circle cx="539.5" cy="41.0" r="0.9"/><circle cx="541.5" cy="111.9" r="0.9"/><circle cx="537.9" cy="91.1" r="0.9"/><circle cx="535.4" cy="12.9" r="0.9"/><circle cx="534.3" cy="37.0" r="0.9"/><circle cx="533.9" cy="19.7" r="0.9"/><circle cx="534.6" cy="5.9" r="0.9"/><circle cx="533.2" cy="16.5" r="0.9"/><circle cx="545.3" cy="95.6" r="0.9"/><circle cx="535.4" cy="7.8" r="0.9"/><circle cx="531.9" cy="84.9" r="0.9"/><circle cx="534.5" cy="10.0" r="0.9"/><circle cx="543.5" cy="113.3" r="0.9"/><circle cx="547.7" cy="28.6" r="0.9"/><circle cx="531.1" cy="37.1" r="0.9"/><circle cx="535.5" cy="13.4" r="0.9"/><circle cx="543.2" cy="67.7" r="0.9"/><circle cx="530.5" cy="2.1" r="0.9"/><circle cx="542.3" cy="111.8" r="0.9"/><circle cx="539.6" cy="50.0" r="0.9"/><circle cx="535.4" cy="47.6" r="0.9"/><circle cx="535.8" cy="20.1" r="0.9"/><circle cx="537.9" cy="7.8" r="0.9"/><circle cx="538.9" cy="18.1" r="0.9"/><circle cx="544.4" cy="55.5" r="0.9"/><circle cx="534.9" cy="20.9" r="0.9"/><circle cx="540.4" cy="74.9" r="0.9"/><circle cx="537.6" cy="89.8" r="0.9"/><circle cx="533.7" cy="34.8" r="0.9"/><circle cx="544.9" cy="100.1" r="0.9"/><circle cx="538.1" cy="8.5" r="0.9"/><circle cx="537.8" cy="60.3" r="0.9"/><circle cx="545.1" cy="51.2" r="0.9"/><circle cx="538.7" cy="27.2" r="0.9"/><circle cx="536.0" cy="57.7" r="0.9"/><circle cx="536.6" cy="84.5" r="0.9"/><circle cx="535.8" cy="28.7" r="0.9"/><circle cx="537.2" cy="18.8" r="0.9"/><circle cx="538.2" cy="46.3" r="0.9"/><circle cx="538.5" cy="18.8" r="0.9"/><circle cx="546.8" cy="20.3" r="0.9"/><circle cx="529.9" cy="11.5" r="0.9"/><circle cx="533.7" cy="26.0" r="0.9"/><circle cx="541.1" cy="24.7" r="0.9"/><circle cx="542.0" cy="40.4" r="0.9"/><circle cx="541.3" cy="53.1" r="0.9"/><circle cx="542.2" cy="2.1" r="0.9"/><circle cx="545.5" cy="108.9" r="0.9"/><circle cx="541.5" cy="56.7" r="0.9"/><circle cx="533.7" cy="30.1" r="0.9"/><circle cx="538.4" cy="85.7" r="0.9"/><circle cx="544.1" cy="25.6" r="0.9"/><circle cx="538.0" cy="28.9" r="0.9"/><circle cx="537.5" cy="48.8" r="0.9"/><circle cx="534.7" cy="2.0" r="0.9"/><circle cx="539.6" cy="10.7" r="0.9"/><circle cx="527.2" cy="2.8" r="0.9"/><circle cx="542.0" cy="7.5" r="0.9"/><circle cx="541.1" cy="16.3" r="0.9"/><circle cx="533.0" cy="38.3" r="0.9"/><circle cx="539.0" cy="1.9" r="0.9"/><circle cx="540.4" cy="50.2" r="0.9"/><circle cx="543.4" cy="109.6" r="0.9"/><circle cx="537.9" cy="18.6" r="0.9"/><circle cx="542.6" cy="109.1" r="0.9"/><circle cx="544.8" cy="108.8" r="0.9"/><circle cx="542.2" cy="107.7" r="0.9"/><circle cx="533.9" cy="16.7" r="0.9"/><circle cx="545.1" cy="105.0" r="0.9"/><circle cx="543.6" cy="106.7" r="0.9"/><circle cx="533.7" cy="23.7" r="0.9"/><circle cx="537.8" cy="46.4" r="0.9"/><circle cx="540.5" cy="14.7" r="0.9"/><circle cx="535.0" cy="98.3" r="0.9"/><circle cx="542.7" cy="47.9" r="0.9"/><circle cx="534.8" cy="10.0" r="0.9"/><circle cx="527.0" cy="35.4" r="0.9"/><circle cx="541.6" cy="68.5" r="0.9"/><circle cx="541.8" cy="41.4" r="0.9"/><circle cx="530.9" cy="16.1" r="0.9"/><circle cx="542.5" cy="2.5" r="0.9"/><circle cx="532.0" cy="20.6" r="0.9"/><circle cx="535.4" cy="10.6" r="0.9"/><circle cx="537.9" cy="28.5" r="0.9"/><circle cx="534.7" cy="49.5" r="0.9"/><circle cx="543.1" cy="112.8" r="0.9"/><circle cx="526.2" cy="30.7" r="0.9"/><circle cx="538.7" cy="54.1" r="0.9"/><circle cx="539.6" cy="106.9" r="0.9"/><circle cx="538.0" cy="61.9" r="0.9"/><circle cx="537.8" cy="52.4" r="0.9"/><circle cx="539.3" cy="47.8" r="0.9"/><circle cx="538.4" cy="10.1" r="0.9"/><circle cx="540.0" cy="15.5" r="0.9"/><circle cx="526.2" cy="20.6" r="0.9"/><circle cx="537.1" cy="27.7" r="0.9"/><circle cx="542.1" cy="31.8" r="0.9"/><circle cx="539.9" cy="24.9" r="0.9"/><circle cx="522.2" cy="20.6" r="0.9"/><circle cx="535.6" cy="42.9" r="0.9"/><circle cx="537.0" cy="27.0" r="0.9"/><circle cx="546.8" cy="17.1" r="0.9"/><circle cx="531.1" cy="54.5" r="0.9"/><circle cx="525.2" cy="13.2" r="0.9"/><circle cx="534.1" cy="2.2" r="0.9"/><circle cx="531.4" cy="17.1" r="0.9"/><circle cx="529.2" cy="33.6" r="0.9"/><circle cx="527.1" cy="6.3" r="0.9"/><circle cx="539.9" cy="87.7" r="0.9"/><circle cx="538.5" cy="8.1" r="0.9"/><circle cx="543.4" cy="49.4" r="0.9"/><circle cx="538.3" cy="68.7" r="0.9"/><circle cx="539.9" cy="13.6" r="0.9"/><circle cx="536.1" cy="11.4" r="0.9"/><circle cx="537.9" cy="29.3" r="0.9"/><circle cx="537.0" cy="4.6" r="0.9"/><circle cx="534.2" cy="29.2" r="0.9"/><circle cx="542.9" cy="51.0" r="0.9"/><circle cx="529.6" cy="36.6" r="0.9"/><circle cx="544.4" cy="99.3" r="0.9"/><circle cx="544.1" cy="15.8" r="0.9"/><circle cx="538.0" cy="12.8" r="0.9"/><circle cx="540.8" cy="40.0" r="0.9"/><circle cx="542.8" cy="95.5" r="0.9"/><circle cx="540.8" cy="67.1" r="0.9"/><circle cx="541.2" cy="5.9" r="0.9"/><circle cx="538.5" cy="18.2" r="0.9"/><circle cx="542.7" cy="21.1" r="0.9"/><circle cx="533.7" cy="16.4" r="0.9"/><circle cx="541.8" cy="11.7" r="0.9"/><circle cx="537.1" cy="5.1" r="0.9"/><circle cx="542.9" cy="115.2" r="0.9"/><circle cx="547.0" cy="103.5" r="0.9"/><circle cx="539.5" cy="38.2" r="0.9"/><circle cx="543.3" cy="87.6" r="0.9"/><circle cx="529.0" cy="3.8" r="0.9"/><circle cx="535.7" cy="40.3" r="0.9"/><circle cx="538.0" cy="83.8" r="0.9"/><circle cx="538.8" cy="36.2" r="0.9"/><circle cx="537.0" cy="26.2" r="0.9"/><circle cx="531.7" cy="41.0" r="0.9"/><circle cx="544.3" cy="81.4" r="0.9"/><circle cx="541.3" cy="89.8" r="0.9"/><circle cx="538.4" cy="91.9" r="0.9"/><circle cx="537.4" cy="38.2" r="0.9"/><circle cx="525.2" cy="13.5" r="0.9"/><circle cx="545.2" cy="36.9" r="0.9"/><circle cx="531.3" cy="8.3" r="0.9"/><circle cx="535.2" cy="75.4" r="0.9"/><circle cx="542.3" cy="40.5" r="0.9"/><circle cx="535.7" cy="68.7" r="0.9"/><circle cx="534.1" cy="59.8" r="0.9"/><circle cx="533.8" cy="34.3" r="0.9"/><circle cx="542.6" cy="91.0" r="0.9"/><circle cx="542.1" cy="10.1" r="0.9"/><circle cx="539.1" cy="97.8" r="0.9"/><circle cx="541.1" cy="8.7" r="0.9"/><circle cx="540.2" cy="58.5" r="0.9"/><circle cx="541.5" cy="87.0" r="0.9"/><circle cx="530.5" cy="43.9" r="0.9"/><circle cx="546.4" cy="62.2" r="0.9"/><circle cx="545.0" cy="16.9" r="0.9"/><circle cx="530.2" cy="37.0" r="0.9"/><circle cx="540.4" cy="38.4" r="0.9"/><circle cx="536.5" cy="6.1" r="0.9"/><circle cx="540.0" cy="101.4" r="0.9"/><circle cx="538.9" cy="55.3" r="0.9"/><circle cx="541.3" cy="72.8" r="0.9"/><circle cx="537.8" cy="29.2" r="0.9"/><circle cx="537.4" cy="33.6" r="0.9"/><circle cx="537.7" cy="73.2" r="0.9"/><circle cx="529.2" cy="13.5" r="0.9"/><circle cx="543.0" cy="45.6" r="0.9"/><circle cx="537.3" cy="15.0" r="0.9"/><circle cx="535.8" cy="40.0" r="0.9"/><circle cx="539.8" cy="88.6" r="0.9"/><circle cx="541.9" cy="68.5" r="0.9"/><circle cx="536.2" cy="61.3" r="0.9"/><circle cx="541.6" cy="112.2" r="0.9"/><circle cx="539.6" cy="43.0" r="0.9"/><circle cx="537.3" cy="10.2" r="0.9"/><circle cx="544.8" cy="67.0" r="0.9"/><circle cx="532.4" cy="26.4" r="0.9"/><circle cx="544.6" cy="51.2" r="0.9"/><circle cx="545.1" cy="31.3" r="0.9"/><circle cx="530.2" cy="16.2" r="0.9"/><circle cx="537.7" cy="73.0" r="0.9"/><circle cx="542.1" cy="89.8" r="0.9"/><circle cx="536.5" cy="43.6" r="0.9"/><circle cx="540.8" cy="67.3" r="0.9"/><circle cx="533.2" cy="8.5" r="0.9"/><circle cx="530.6" cy="15.6" r="0.9"/><circle cx="544.8" cy="29.1" r="0.9"/><circle cx="527.8" cy="3.8" r="0.9"/><circle cx="544.6" cy="46.5" r="0.9"/><circle cx="536.7" cy="67.9" r="0.9"/><circle cx="539.2" cy="1.9" r="0.9"/><circle cx="538.3" cy="13.9" r="0.9"/><circle cx="537.5" cy="35.6" r="0.9"/><circle cx="543.0" cy="82.2" r="0.9"/><circle cx="539.2" cy="70.4" r="0.9"/><circle cx="535.7" cy="24.3" r="0.9"/><circle cx="539.8" cy="36.7" r="0.9"/><circle cx="539.5" cy="44.9" r="0.9"/><circle cx="534.4" cy="5.3" r="0.9"/><circle cx="538.6" cy="99.6" r="0.9"/><circle cx="534.0" cy="47.5" r="0.9"/><circle cx="545.6" cy="71.7" r="0.9"/><circle cx="536.5" cy="5.1" r="0.9"/><circle cx="527.7" cy="17.7" r="0.9"/><circle cx="539.6" cy="52.7" r="0.9"/><circle cx="535.3" cy="37.3" r="0.9"/><circle cx="541.6" cy="74.8" r="0.9"/><circle cx="544.3" cy="7.4" r="0.9"/><circle cx="546.4" cy="71.9" r="0.9"/><circle cx="533.3" cy="28.5" r="0.9"/><circle cx="547.9" cy="10.8" r="0.9"/><circle cx="543.1" cy="101.8" r="0.9"/><circle cx="543.2" cy="62.5" r="0.9"/><circle cx="544.1" cy="92.3" r="0.9"/><circle cx="539.5" cy="9.4" r="0.9"/><circle cx="536.6" cy="55.6" r="0.9"/><circle cx="545.9" cy="91.3" r="0.9"/><circle cx="537.7" cy="68.7" r="0.9"/><circle cx="532.9" cy="34.9" r="0.9"/><circle cx="539.1" cy="16.2" r="0.9"/><circle cx="527.5" cy="7.8" r="0.9"/><circle cx="536.8" cy="78.6" r="0.9"/><circle cx="542.6" cy="27.5" r="0.9"/><circle cx="544.0" cy="99.2" r="0.9"/><circle cx="530.2" cy="3.1" r="0.9"/><circle cx="539.2" cy="103.3" r="0.9"/><circle cx="535.5" cy="32.9" r="0.9"/><circle cx="537.2" cy="53.4" r="0.9"/><circle cx="533.9" cy="8.5" r="0.9"/><circle cx="534.9" cy="50.7" r="0.9"/><circle cx="529.2" cy="53.5" r="0.9"/><circle cx="529.6" cy="13.0" r="0.9"/><circle cx="542.1" cy="55.4" r="0.9"/><circle cx="534.6" cy="22.9" r="0.9"/><circle cx="537.0" cy="19.0" r="0.9"/><circle cx="535.8" cy="70.8" r="0.9"/><circle cx="539.4" cy="21.0" r="0.9"/><circle cx="541.6" cy="61.0" r="0.9"/><circle cx="534.3" cy="34.9" r="0.9"/><circle cx="530.7" cy="8.8" r="0.9"/><circle cx="529.3" cy="12.7" r="0.9"/><circle cx="541.9" cy="107.1" r="0.9"/><circle cx="539.9" cy="8.2" r="0.9"/><circle cx="532.5" cy="19.8" r="0.9"/><circle cx="537.7" cy="82.5" r="0.9"/><circle cx="541.7" cy="33.3" r="0.9"/><circle cx="537.9" cy="26.7" r="0.9"/><circle cx="534.7" cy="50.9" r="0.9"/><circle cx="540.5" cy="17.9" r="0.9"/><circle cx="544.6" cy="72.9" r="0.9"/><circle cx="538.6" cy="12.8" r="0.9"/><circle cx="540.4" cy="89.2" r="0.9"/><circle cx="546.3" cy="7.3" r="0.9"/><circle cx="535.5" cy="18.3" r="0.9"/><circle cx="545.2" cy="90.0" r="0.9"/><circle cx="532.6" cy="7.8" r="0.9"/><circle cx="540.1" cy="27.2" r="0.9"/><circle cx="539.3" cy="42.7" r="0.9"/><circle cx="531.5" cy="23.2" r="0.9"/><circle cx="540.9" cy="48.3" r="0.9"/><circle cx="538.6" cy="73.0" r="0.9"/><circle cx="546.2" cy="115.3" r="0.9"/><circle cx="539.2" cy="7.5" r="0.9"/><circle cx="532.0" cy="15.4" r="0.9"/><circle cx="537.1" cy="35.6" r="0.9"/><circle cx="540.2" cy="68.5" r="0.9"/><circle cx="532.1" cy="12.1" r="0.9"/><circle cx="528.9" cy="36.9" r="0.9"/><circle cx="540.4" cy="21.2" r="0.9"/><circle cx="539.5" cy="11.5" r="0.9"/><circle cx="544.4" cy="47.9" r="0.9"/><circle cx="540.8" cy="28.8" r="0.9"/><circle cx="530.1" cy="15.1" r="0.9"/><circle cx="540.9" cy="68.7" r="0.9"/><circle cx="533.5" cy="36.8" r="0.9"/><circle cx="536.0" cy="22.6" r="0.9"/><circle cx="531.7" cy="10.6" r="0.9"/><circle cx="537.8" cy="28.1" r="0.9"/><circle cx="538.3" cy="54.5" r="0.9"/><circle cx="534.5" cy="32.1" r="0.9"/><circle cx="538.0" cy="51.1" r="0.9"/><circle cx="537.6" cy="32.4" r="0.9"/><circle cx="535.7" cy="50.7" r="0.9"/><circle cx="535.0" cy="58.9" r="0.9"/><circle cx="543.9" cy="105.4" r="0.9"/><circle cx="540.9" cy="57.8" r="0.9"/><circle cx="535.1" cy="30.9" r="0.9"/><circle cx="543.3" cy="109.8" r="0.9"/><circle cx="541.5" cy="78.7" r="0.9"/><circle cx="540.2" cy="18.5" r="0.9"/><circle cx="545.0" cy="3.5" r="0.9"/><circle cx="541.4" cy="18.3" r="0.9"/><circle cx="534.5" cy="42.2" r="0.9"/><circle cx="533.9" cy="19.9" r="0.9"/><circle cx="538.4" cy="81.2" r="0.9"/><circle cx="535.6" cy="48.1" r="0.9"/><circle cx="540.2" cy="52.5" r="0.9"/><circle cx="537.9" cy="95.4" r="0.9"/><circle cx="540.8" cy="4.0" r="0.9"/><circle cx="540.7" cy="14.2" r="0.9"/><circle cx="531.4" cy="13.2" r="0.9"/><circle cx="536.5" cy="58.9" r="0.9"/><circle cx="540.0" cy="13.6" r="0.9"/><circle cx="546.0" cy="47.6" r="0.9"/><circle cx="531.8" cy="33.5" r="0.9"/><circle cx="531.1" cy="12.5" r="0.9"/><circle cx="542.7" cy="79.8" r="0.9"/><circle cx="530.9" cy="30.7" r="0.9"/><circle cx="522.0" cy="2.8" r="0.9"/><circle cx="539.9" cy="82.2" r="0.9"/><circle cx="543.1" cy="64.9" r="0.9"/><circle cx="537.9" cy="61.4" r="0.9"/><circle cx="530.2" cy="13.5" r="0.9"/><circle cx="542.6" cy="101.5" r="0.9"/><circle cx="526.0" cy="11.0" r="0.9"/><circle cx="538.2" cy="30.9" r="0.9"/><circle cx="526.5" cy="7.1" r="0.9"/><circle cx="537.8" cy="47.4" r="0.9"/><circle cx="541.6" cy="16.7" r="0.9"/><circle cx="536.8" cy="3.7" r="0.9"/><circle cx="541.0" cy="13.0" r="0.9"/><circle cx="540.9" cy="46.2" r="0.9"/><circle cx="534.7" cy="66.4" r="0.9"/><circle cx="533.3" cy="55.6" r="0.9"/><circle cx="545.0" cy="96.9" r="0.9"/><circle cx="532.8" cy="4.2" r="0.9"/><circle cx="546.4" cy="101.9" r="0.9"/><circle cx="542.5" cy="14.2" r="0.9"/><circle cx="543.5" cy="58.3" r="0.9"/><circle cx="542.4" cy="2.5" r="0.9"/><circle cx="533.0" cy="35.0" r="0.9"/><circle cx="531.1" cy="3.3" r="0.9"/><circle cx="538.4" cy="40.1" r="0.9"/><circle cx="533.7" cy="36.6" r="0.9"/><circle cx="529.8" cy="16.8" r="0.9"/><circle cx="541.2" cy="78.1" r="0.9"/><circle cx="539.0" cy="20.3" r="0.9"/><circle cx="543.3" cy="102.2" r="0.9"/><circle cx="534.6" cy="9.1" r="0.9"/><circle cx="549.0" cy="92.2" r="0.9"/><circle cx="538.4" cy="88.3" r="0.9"/><circle cx="543.5" cy="103.3" r="0.9"/><circle cx="542.1" cy="42.6" r="0.9"/><circle cx="536.0" cy="33.5" r="0.9"/><circle cx="542.2" cy="118.5" r="0.9"/><circle cx="532.5" cy="51.2" r="0.9"/><circle cx="546.1" cy="31.9" r="0.9"/><circle cx="533.3" cy="33.0" r="0.9"/><circle cx="528.8" cy="26.9" r="0.9"/><circle cx="533.5" cy="14.9" r="0.9"/><circle cx="534.0" cy="5.3" r="0.9"/><circle cx="547.4" cy="52.7" r="0.9"/><circle cx="534.0" cy="53.7" r="0.9"/><circle cx="536.7" cy="20.2" r="0.9"/><circle cx="541.4" cy="6.8" r="0.9"/><circle cx="535.3" cy="3.6" r="0.9"/><circle cx="540.0" cy="23.6" r="0.9"/><circle cx="543.6" cy="33.6" r="0.9"/><circle cx="540.5" cy="25.2" r="0.9"/><circle cx="536.5" cy="11.2" r="0.9"/><circle cx="540.8" cy="58.2" r="0.9"/><circle cx="537.1" cy="15.0" r="0.9"/><circle cx="542.5" cy="14.8" r="0.9"/><circle cx="528.7" cy="21.7" r="0.9"/><circle cx="531.4" cy="16.9" r="0.9"/><circle cx="545.0" cy="28.5" r="0.9"/><circle cx="542.9" cy="79.2" r="0.9"/><circle cx="535.2" cy="4.0" r="0.9"/><circle cx="541.9" cy="22.7" r="0.9"/><circle cx="530.0" cy="46.2" r="0.9"/><circle cx="544.4" cy="56.9" r="0.9"/><circle cx="538.1" cy="7.7" r="0.9"/><circle cx="541.2" cy="26.9" r="0.9"/><circle cx="536.1" cy="49.0" r="0.9"/><circle cx="536.1" cy="6.6" r="0.9"/><circle cx="544.3" cy="88.1" r="0.9"/><circle cx="533.2" cy="29.8" r="0.9"/><circle cx="530.7" cy="8.6" r="0.9"/><circle cx="535.0" cy="35.9" r="0.9"/><circle cx="547.4" cy="36.3" r="0.9"/><circle cx="538.6" cy="22.5" r="0.9"/><circle cx="535.1" cy="4.0" r="0.9"/><circle cx="532.6" cy="72.7" r="0.9"/><circle cx="542.0" cy="62.0" r="0.9"/><circle cx="531.5" cy="7.5" r="0.9"/><circle cx="547.9" cy="68.6" r="0.9"/><circle cx="541.3" cy="54.6" r="0.9"/><circle cx="530.4" cy="12.0" r="0.9"/><circle cx="532.5" cy="28.3" r="0.9"/><circle cx="531.9" cy="50.6" r="0.9"/><circle cx="540.6" cy="26.3" r="0.9"/><circle cx="530.7" cy="43.1" r="0.9"/><circle cx="542.7" cy="52.5" r="0.9"/><circle cx="542.7" cy="57.8" r="0.9"/><circle cx="524.7" cy="3.4" r="0.9"/><circle cx="536.0" cy="41.6" r="0.9"/><circle cx="537.2" cy="19.9" r="0.9"/><circle cx="542.7" cy="69.7" r="0.9"/><circle cx="529.7" cy="19.7" r="0.9"/><circle cx="534.0" cy="8.2" r="0.9"/><circle cx="545.4" cy="98.0" r="0.9"/><circle cx="536.3" cy="20.7" r="0.9"/><circle cx="536.4" cy="59.3" r="0.9"/><circle cx="534.3" cy="12.0" r="0.9"/><circle cx="536.8" cy="29.3" r="0.9"/><circle cx="539.4" cy="46.7" r="0.9"/><circle cx="541.0" cy="33.3" r="0.9"/><circle cx="527.5" cy="4.8" r="0.9"/><circle cx="535.0" cy="45.2" r="0.9"/><circle cx="542.3" cy="42.7" r="0.9"/><circle cx="538.0" cy="4.7" r="0.9"/><circle cx="542.2" cy="20.2" r="0.9"/><circle cx="533.4" cy="23.0" r="0.9"/><circle cx="543.9" cy="89.4" r="0.9"/><circle cx="536.4" cy="21.0" r="0.9"/><circle cx="539.4" cy="52.6" r="0.9"/><circle cx="542.0" cy="21.5" r="0.9"/><circle cx="544.0" cy="28.5" r="0.9"/><circle cx="542.2" cy="90.7" r="0.9"/><circle cx="546.3" cy="98.4" r="0.9"/><circle cx="541.4" cy="22.8" r="0.9"/><circle cx="540.3" cy="25.4" r="0.9"/><circle cx="542.8" cy="96.8" r="0.9"/><circle cx="541.7" cy="85.9" r="0.9"/><circle cx="543.6" cy="4.4" r="0.9"/><circle cx="537.9" cy="24.8" r="0.9"/><circle cx="539.1" cy="44.2" r="0.9"/><circle cx="537.7" cy="5.3" r="0.9"/><circle cx="539.6" cy="25.0" r="0.9"/><circle cx="537.0" cy="10.8" r="0.9"/><circle cx="530.4" cy="24.3" r="0.9"/><circle cx="530.5" cy="2.4" r="0.9"/><circle cx="533.7" cy="65.4" r="0.9"/><circle cx="546.1" cy="16.1" r="0.9"/><circle cx="530.8" cy="3.5" r="0.9"/><circle cx="536.7" cy="6.5" r="0.9"/><circle cx="544.9" cy="31.3" r="0.9"/><circle cx="536.6" cy="56.4" r="0.9"/><circle cx="544.1" cy="22.2" r="0.9"/><circle cx="538.2" cy="8.9" r="0.9"/><circle cx="538.7" cy="55.7" r="0.9"/><circle cx="541.7" cy="21.4" r="0.9"/><circle cx="533.4" cy="16.0" r="0.9"/><circle cx="543.6" cy="65.7" r="0.9"/><circle cx="540.0" cy="59.7" r="0.9"/><circle cx="541.0" cy="50.0" r="0.9"/><circle cx="538.9" cy="83.9" r="0.9"/><circle cx="541.4" cy="55.8" r="0.9"/><circle cx="545.3" cy="2.5" r="0.9"/><circle cx="531.1" cy="3.3" r="0.9"/><circle cx="535.6" cy="3.0" r="0.9"/><circle cx="533.1" cy="2.5" r="0.9"/><circle cx="520.4" cy="2.5" r="0.9"/><circle cx="542.5" cy="3.1" r="0.9"/><circle cx="540.3" cy="1.9" r="0.9"/><circle cx="543.3" cy="2.5" r="0.9"/><circle cx="518.6" cy="2.7" r="0.9"/><circle cx="544.4" cy="3.6" r="0.9"/><circle cx="516.1" cy="2.4" r="0.9"/><circle cx="540.2" cy="2.1" r="0.9"/><circle cx="535.3" cy="2.1" r="0.9"/><circle cx="540.9" cy="3.4" r="0.9"/><circle cx="543.1" cy="3.3" r="0.9"/><circle cx="531.8" cy="2.5" r="0.9"/><circle cx="536.3" cy="3.1" r="0.9"/><circle cx="544.5" cy="2.5" r="0.9"/><circle cx="528.6" cy="3.3" r="0.9"/><circle cx="532.4" cy="2.4" r="0.9"/><circle cx="540.4" cy="3.4" r="0.9"/><circle cx="545.6" cy="3.5" r="0.9"/><circle cx="531.9" cy="2.2" r="0.9"/><circle cx="521.8" cy="1.9" r="0.9"/><circle cx="530.1" cy="2.9" r="0.9"/><circle cx="540.6" cy="1.8" r="0.9"/><circle cx="539.5" cy="3.1" r="0.9"/><circle cx="529.2" cy="2.5" r="0.9"/><circle cx="535.5" cy="2.5" r="0.9"/><circle cx="543.4" cy="2.2" r="0.9"/><circle cx="541.5" cy="3.3" r="0.9"/><circle cx="535.4" cy="3.3" r="0.9"/><circle cx="541.9" cy="2.1" r="0.9"/><circle cx="537.6" cy="3.0" r="0.9"/><circle cx="542.8" cy="2.7" r="0.9"/><circle cx="522.8" cy="3.3" r="0.9"/><circle cx="543.7" cy="1.9" r="0.9"/><circle cx="528.1" cy="2.9" r="0.9"/><circle cx="542.6" cy="3.3" r="0.9"/><circle cx="546.0" cy="3.3" r="0.9"/><circle cx="535.1" cy="2.6" r="0.9"/><circle cx="534.6" cy="3.4" r="0.9"/><circle cx="538.6" cy="2.2" r="0.9"/><circle cx="543.6" cy="2.2" r="0.9"/><circle cx="534.2" cy="3.4" r="0.9"/><circle cx="534.6" cy="2.6" r="0.9"/><circle cx="529.3" cy="2.8" r="0.9"/><circle cx="541.8" cy="3.4" r="0.9"/><circle cx="542.1" cy="2.4" r="0.9"/><circle cx="541.5" cy="2.3" r="0.9"/><circle cx="539.6" cy="2.2" r="0.9"/><circle cx="543.1" cy="1.8" r="0.9"/><circle cx="537.1" cy="2.7" r="0.9"/><circle cx="543.7" cy="2.5" r="0.9"/><circle cx="532.3" cy="2.0" r="0.9"/><circle cx="513.6" cy="3.3" r="0.9"/><circle cx="545.9" cy="3.0" r="0.9"/><circle cx="543.5" cy="2.9" r="0.9"/><circle cx="521.4" cy="3.6" r="0.9"/><circle cx="533.5" cy="3.7" r="0.9"/><circle cx="534.2" cy="2.5" r="0.9"/><circle cx="538.7" cy="2.6" r="0.9"/><circle cx="536.5" cy="3.3" r="0.9"/><circle cx="518.2" cy="2.3" r="0.9"/><circle cx="529.0" cy="3.7" r="0.9"/><circle cx="534.9" cy="3.4" r="0.9"/><circle cx="527.8" cy="2.7" r="0.9"/><circle cx="544.3" cy="3.4" r="0.9"/><circle cx="540.2" cy="2.2" r="0.9"/><circle cx="519.3" cy="2.3" r="0.9"/><circle cx="543.5" cy="3.5" r="0.9"/><circle cx="544.1" cy="2.8" r="0.9"/><circle cx="542.1" cy="1.8" r="0.9"/><circle cx="523.2" cy="2.1" r="0.9"/><circle cx="523.7" cy="3.8" r="0.9"/><circle cx="545.7" cy="1.8" r="0.9"/><circle cx="527.6" cy="2.4" r="0.9"/><circle cx="540.5" cy="3.5" r="0.9"/><circle cx="527.9" cy="3.4" r="0.9"/><circle cx="529.6" cy="3.4" r="0.9"/><circle cx="542.9" cy="3.6" r="0.9"/><circle cx="543.9" cy="3.5" r="0.9"/><circle cx="544.7" cy="3.0" r="0.9"/><circle cx="535.7" cy="2.8" r="0.9"/><circle cx="538.5" cy="3.7" r="0.9"/><circle cx="538.7" cy="2.3" r="0.9"/><circle cx="535.0" cy="3.0" r="0.9"/><circle cx="517.3" cy="2.1" r="0.9"/><circle cx="522.4" cy="3.5" r="0.9"/><circle cx="546.0" cy="2.6" r="0.9"/><circle cx="540.3" cy="130.0" r="0.9"/><circle cx="541.5" cy="132.0" r="0.9"/><circle cx="540.5" cy="141.0" r="0.9"/><circle cx="532.0" cy="107.0" r="0.9"/><circle cx="531.0" cy="122.0" r="0.9"/><circle cx="528.0" cy="118.0" r="0.9"/><circle cx="517.8" cy="67.5" r="0.9"/><circle cx="516.0" cy="98.5" r="0.9"/><circle cx="509.5" cy="10.0" r="0.9"/><circle cx="549.0" cy="28.0" r="0.9"/><circle cx="548.0" cy="60.0" r="0.9"/><circle cx="522.0" cy="105.0" r="0.9"/><circle cx="524.5" cy="109.0" r="0.9"/><circle cx="581.9" cy="112.6" r="0.9"/><circle cx="579.4" cy="148.9" r="0.9"/><circle cx="577.5" cy="140.6" r="0.9"/><circle cx="582.4" cy="128.0" r="0.9"/><circle cx="584.8" cy="120.0" r="0.9"/><circle cx="583.6" cy="142.8" r="0.9"/><circle cx="580.5" cy="63.8" r="0.9"/><circle cx="582.5" cy="138.0" r="0.9"/><circle cx="589.6" cy="146.9" r="0.9"/><circle cx="582.0" cy="102.2" r="0.9"/><circle cx="583.4" cy="114.0" r="0.9"/><circle cx="585.1" cy="102.2" r="0.9"/><circle cx="585.1" cy="117.7" r="0.9"/><circle cx="582.3" cy="89.3" r="0.9"/><circle cx="582.1" cy="129.2" r="0.9"/><circle cx="583.2" cy="81.8" r="0.9"/><circle cx="587.4" cy="143.2" r="0.9"/><circle cx="577.1" cy="137.5" r="0.9"/><circle cx="581.9" cy="94.9" r="0.9"/><circle cx="588.6" cy="141.1" r="0.9"/><circle cx="583.7" cy="112.8" r="0.9"/><circle cx="584.1" cy="133.2" r="0.9"/><circle cx="589.1" cy="101.7" r="0.9"/><circle cx="583.3" cy="138.0" r="0.9"/><circle cx="583.1" cy="122.8" r="0.9"/><circle cx="588.4" cy="132.3" r="0.9"/><circle cx="580.3" cy="148.0" r="0.9"/><circle cx="589.4" cy="121.5" r="0.9"/><circle cx="585.5" cy="137.3" r="0.9"/><circle cx="580.0" cy="116.6" r="0.9"/><circle cx="580.7" cy="129.2" r="0.9"/><circle cx="579.7" cy="103.2" r="0.9"/><circle cx="589.1" cy="104.1" r="0.9"/><circle cx="587.3" cy="113.5" r="0.9"/><circle cx="580.1" cy="123.1" r="0.9"/><circle cx="583.9" cy="147.6" r="0.9"/><circle cx="580.7" cy="93.2" r="0.9"/><circle cx="584.8" cy="94.4" r="0.9"/><circle cx="581.7" cy="145.4" r="0.9"/><circle cx="582.0" cy="136.0" r="0.9"/><circle cx="587.3" cy="98.4" r="0.9"/><circle cx="579.0" cy="99.4" r="0.9"/><circle cx="578.3" cy="141.9" r="0.9"/><circle cx="583.5" cy="104.7" r="0.9"/><circle cx="587.7" cy="101.4" r="0.9"/><circle cx="581.8" cy="145.6" r="0.9"/><circle cx="582.5" cy="88.8" r="0.9"/><circle cx="584.4" cy="124.9" r="0.9"/><circle cx="581.7" cy="133.8" r="0.9"/><circle cx="584.5" cy="137.9" r="0.9"/><circle cx="585.7" cy="98.1" r="0.9"/><circle cx="585.7" cy="123.5" r="0.9"/><circle cx="579.4" cy="139.9" r="0.9"/><circle cx="578.8" cy="135.9" r="0.9"/><circle cx="586.0" cy="146.6" r="0.9"/><circle cx="586.3" cy="102.4" r="0.9"/><circle cx="586.1" cy="125.3" r="0.9"/><circle cx="577.7" cy="126.1" r="0.9"/><circle cx="582.1" cy="112.7" r="0.9"/><circle cx="584.4" cy="143.7" r="0.9"/><circle cx="579.9" cy="94.5" r="0.9"/><circle cx="577.5" cy="135.3" r="0.9"/><circle cx="585.9" cy="83.8" r="0.9"/><circle cx="579.4" cy="127.4" r="0.9"/><circle cx="586.4" cy="143.7" r="0.9"/><circle cx="587.3" cy="140.3" r="0.9"/><circle cx="585.1" cy="130.9" r="0.9"/><circle cx="580.3" cy="113.5" r="0.9"/><circle cx="585.5" cy="133.7" r="0.9"/><circle cx="579.4" cy="78.9" r="0.9"/><circle cx="582.5" cy="84.0" r="0.9"/><circle cx="589.7" cy="105.9" r="0.9"/><circle cx="583.5" cy="84.3" r="0.9"/><circle cx="589.8" cy="134.4" r="0.9"/><circle cx="587.3" cy="139.9" r="0.9"/><circle cx="582.5" cy="77.0" r="0.9"/><circle cx="588.9" cy="112.9" r="0.9"/><circle cx="582.9" cy="81.3" r="0.9"/><circle cx="584.1" cy="121.9" r="0.9"/><circle cx="585.7" cy="136.0" r="0.9"/><circle cx="580.1" cy="147.5" r="0.9"/><circle cx="587.0" cy="100.9" r="0.9"/><circle cx="586.3" cy="131.6" r="0.9"/><circle cx="583.9" cy="87.6" r="0.9"/><circle cx="575.5" cy="138.8" r="0.9"/><circle cx="581.8" cy="131.5" r="0.9"/><circle cx="586.9" cy="99.3" r="0.9"/><circle cx="584.3" cy="134.0" r="0.9"/><circle cx="581.3" cy="145.0" r="0.9"/><circle cx="586.9" cy="112.5" r="0.9"/><circle cx="575.2" cy="145.3" r="0.9"/><circle cx="579.5" cy="140.1" r="0.9"/><circle cx="582.9" cy="82.6" r="0.9"/><circle cx="587.6" cy="127.9" r="0.9"/><circle cx="580.9" cy="86.6" r="0.9"/><circle cx="587.7" cy="128.9" r="0.9"/><circle cx="583.3" cy="139.5" r="0.9"/><circle cx="588.2" cy="145.0" r="0.9"/><circle cx="589.7" cy="93.7" r="0.9"/><circle cx="583.6" cy="148.4" r="0.9"/><circle cx="577.8" cy="135.0" r="0.9"/><circle cx="582.3" cy="138.7" r="0.9"/><circle cx="589.9" cy="131.5" r="0.9"/><circle cx="584.0" cy="97.5" r="0.9"/><circle cx="584.4" cy="96.9" r="0.9"/><circle cx="577.5" cy="138.5" r="0.9"/><circle cx="581.5" cy="118.2" r="0.9"/><circle cx="588.2" cy="136.1" r="0.9"/><circle cx="581.5" cy="148.1" r="0.9"/><circle cx="583.4" cy="143.4" r="0.9"/><circle cx="579.3" cy="137.3" r="0.9"/><circle cx="580.7" cy="139.6" r="0.9"/><circle cx="580.2" cy="116.3" r="0.9"/><circle cx="587.9" cy="149.1" r="0.9"/><circle cx="579.5" cy="101.0" r="0.9"/><circle cx="582.2" cy="104.4" r="0.9"/><circle cx="584.5" cy="126.7" r="0.9"/><circle cx="583.1" cy="71.8" r="0.9"/><circle cx="574.5" cy="144.3" r="0.9"/><circle cx="578.6" cy="130.5" r="0.9"/><circle cx="579.8" cy="71.2" r="0.9"/><circle cx="584.5" cy="134.2" r="0.9"/><circle cx="580.6" cy="136.9" r="0.9"/><circle cx="580.1" cy="102.2" r="0.9"/><circle cx="587.9" cy="142.0" r="0.9"/><circle cx="583.1" cy="139.4" r="0.9"/><circle cx="586.5" cy="86.1" r="0.9"/><circle cx="588.5" cy="148.9" r="0.9"/><circle cx="580.7" cy="89.1" r="0.9"/><circle cx="578.8" cy="140.4" r="0.9"/><circle cx="585.9" cy="143.9" r="0.9"/><circle cx="577.9" cy="105.9" r="0.9"/><circle cx="583.7" cy="137.8" r="0.9"/><circle cx="576.3" cy="120.0" r="0.9"/><circle cx="583.7" cy="146.8" r="0.9"/><circle cx="584.4" cy="114.0" r="0.9"/><circle cx="583.3" cy="138.2" r="0.9"/><circle cx="579.1" cy="142.8" r="0.9"/><circle cx="585.4" cy="124.4" r="0.9"/><circle cx="586.8" cy="99.9" r="0.9"/><circle cx="573.9" cy="136.0" r="0.9"/><circle cx="586.1" cy="146.8" r="0.9"/><circle cx="581.6" cy="99.6" r="0.9"/><circle cx="585.6" cy="124.8" r="0.9"/><circle cx="583.2" cy="125.0" r="0.9"/><circle cx="582.6" cy="122.1" r="0.9"/><circle cx="588.9" cy="122.5" r="0.9"/><circle cx="581.5" cy="89.6" r="0.9"/><circle cx="578.1" cy="123.4" r="0.9"/><circle cx="585.8" cy="113.3" r="0.9"/><circle cx="586.9" cy="122.3" r="0.9"/><circle cx="578.6" cy="145.4" r="0.9"/><circle cx="580.7" cy="146.4" r="0.9"/><circle cx="585.2" cy="140.5" r="0.9"/><circle cx="578.1" cy="64.5" r="0.9"/><circle cx="587.1" cy="140.2" r="0.9"/><circle cx="578.9" cy="132.4" r="0.9"/><circle cx="586.4" cy="96.2" r="0.9"/><circle cx="584.0" cy="139.3" r="0.9"/><circle cx="579.5" cy="110.3" r="0.9"/><circle cx="582.6" cy="86.9" r="0.9"/><circle cx="577.7" cy="141.1" r="0.9"/><circle cx="581.0" cy="139.6" r="0.9"/><circle cx="586.1" cy="138.0" r="0.9"/><circle cx="585.8" cy="102.1" r="0.9"/><circle cx="588.3" cy="132.6" r="0.9"/><circle cx="584.8" cy="97.9" r="0.9"/><circle cx="581.7" cy="121.1" r="0.9"/><circle cx="587.1" cy="93.2" r="0.9"/><circle cx="580.0" cy="97.8" r="0.9"/><circle cx="584.0" cy="137.5" r="0.9"/><circle cx="584.6" cy="117.1" r="0.9"/><circle cx="588.1" cy="100.5" r="0.9"/><circle cx="579.1" cy="111.4" r="0.9"/><circle cx="581.0" cy="146.5" r="0.9"/><circle cx="582.8" cy="106.6" r="0.9"/><circle cx="585.0" cy="137.3" r="0.9"/><circle cx="577.8" cy="148.2" r="0.9"/><circle cx="589.6" cy="143.2" r="0.9"/><circle cx="577.9" cy="148.8" r="0.9"/><circle cx="583.1" cy="129.2" r="0.9"/><circle cx="581.2" cy="148.0" r="0.9"/><circle cx="583.6" cy="107.1" r="0.9"/><circle cx="575.2" cy="139.2" r="0.9"/><circle cx="588.8" cy="114.1" r="0.9"/><circle cx="586.0" cy="126.6" r="0.9"/><circle cx="578.4" cy="121.3" r="0.9"/><circle cx="589.7" cy="107.6" r="0.9"/><circle cx="584.7" cy="72.8" r="0.9"/><circle cx="587.5" cy="149.1" r="0.9"/><circle cx="582.2" cy="133.4" r="0.9"/><circle cx="583.8" cy="60.5" r="0.9"/><circle cx="579.6" cy="138.6" r="0.9"/><circle cx="588.9" cy="134.6" r="0.9"/><circle cx="580.2" cy="143.7" r="0.9"/><circle cx="586.1" cy="119.3" r="0.9"/><circle cx="579.0" cy="128.8" r="0.9"/><circle cx="584.4" cy="88.7" r="0.9"/><circle cx="581.4" cy="134.4" r="0.9"/><circle cx="590.0" cy="124.4" r="0.9"/><circle cx="585.3" cy="107.7" r="0.9"/><circle cx="579.3" cy="123.9" r="0.9"/><circle cx="579.8" cy="114.1" r="0.9"/><circle cx="582.0" cy="128.3" r="0.9"/><circle cx="581.4" cy="100.3" r="0.9"/><circle cx="575.6" cy="77.9" r="0.9"/><circle cx="584.3" cy="133.1" r="0.9"/><circle cx="577.5" cy="145.2" r="0.9"/><circle cx="587.9" cy="97.1" r="0.9"/><circle cx="576.1" cy="98.3" r="0.9"/><circle cx="584.6" cy="113.2" r="0.9"/><circle cx="580.6" cy="148.0" r="0.9"/><circle cx="576.0" cy="128.7" r="0.9"/><circle cx="577.5" cy="132.0" r="0.9"/><circle cx="587.4" cy="107.7" r="0.9"/><circle cx="582.1" cy="110.8" r="0.9"/><circle cx="580.7" cy="72.1" r="0.9"/><circle cx="584.4" cy="148.5" r="0.9"/><circle cx="574.4" cy="132.3" r="0.9"/><circle cx="580.1" cy="142.3" r="0.9"/><circle cx="577.8" cy="81.6" r="0.9"/><circle cx="581.3" cy="111.5" r="0.9"/><circle cx="582.6" cy="142.9" r="0.9"/><circle cx="575.7" cy="137.1" r="0.9"/><circle cx="588.5" cy="100.5" r="0.9"/><circle cx="575.5" cy="134.9" r="0.9"/><circle cx="586.2" cy="95.4" r="0.9"/><circle cx="579.9" cy="84.6" r="0.9"/><circle cx="585.2" cy="127.8" r="0.9"/><circle cx="585.9" cy="123.0" r="0.9"/><circle cx="587.4" cy="124.6" r="0.9"/><circle cx="575.2" cy="135.9" r="0.9"/><circle cx="581.8" cy="101.2" r="0.9"/><circle cx="576.5" cy="148.4" r="0.9"/><circle cx="579.7" cy="135.8" r="0.9"/><circle cx="589.5" cy="96.4" r="0.9"/><circle cx="581.9" cy="147.8" r="0.9"/><circle cx="574.1" cy="137.9" r="0.9"/><circle cx="586.0" cy="146.1" r="0.9"/><circle cx="588.9" cy="118.0" r="0.9"/><circle cx="585.0" cy="118.6" r="0.9"/><circle cx="583.7" cy="133.1" r="0.9"/><circle cx="576.8" cy="137.9" r="0.9"/><circle cx="584.8" cy="116.1" r="0.9"/><circle cx="589.2" cy="138.6" r="0.9"/><circle cx="585.9" cy="96.9" r="0.9"/><circle cx="581.9" cy="112.6" r="0.9"/><circle cx="582.0" cy="111.4" r="0.9"/><circle cx="589.1" cy="136.8" r="0.9"/><circle cx="579.6" cy="102.8" r="0.9"/><circle cx="581.0" cy="113.3" r="0.9"/><circle cx="577.2" cy="133.6" r="0.9"/><circle cx="582.5" cy="66.5" r="0.9"/><circle cx="582.1" cy="145.1" r="0.9"/><circle cx="580.2" cy="100.5" r="0.9"/><circle cx="586.2" cy="139.9" r="0.9"/><circle cx="584.2" cy="149.0" r="0.9"/><circle cx="585.5" cy="145.0" r="0.9"/><circle cx="586.9" cy="118.1" r="0.9"/><circle cx="589.0" cy="114.1" r="0.9"/><circle cx="582.6" cy="110.2" r="0.9"/><circle cx="584.9" cy="102.6" r="0.9"/><circle cx="582.7" cy="137.3" r="0.9"/><circle cx="577.6" cy="96.8" r="0.9"/><circle cx="578.5" cy="82.5" r="0.9"/><circle cx="579.9" cy="119.7" r="0.9"/><circle cx="584.3" cy="91.2" r="0.9"/><circle cx="582.3" cy="93.9" r="0.9"/><circle cx="589.2" cy="135.5" r="0.9"/><circle cx="588.3" cy="101.5" r="0.9"/><circle cx="588.5" cy="145.0" r="0.9"/><circle cx="581.5" cy="147.8" r="0.9"/><circle cx="589.5" cy="141.3" r="0.9"/><circle cx="588.8" cy="138.7" r="0.9"/><circle cx="578.8" cy="96.3" r="0.9"/><circle cx="579.1" cy="141.2" r="0.9"/><circle cx="584.6" cy="88.7" r="0.9"/><circle cx="583.6" cy="147.8" r="0.9"/><circle cx="588.8" cy="106.8" r="0.9"/><circle cx="582.8" cy="121.7" r="0.9"/><circle cx="587.4" cy="129.8" r="0.9"/><circle cx="585.6" cy="106.1" r="0.9"/><circle cx="586.7" cy="132.9" r="0.9"/><circle cx="586.8" cy="140.6" r="0.9"/><circle cx="583.1" cy="109.5" r="0.9"/><circle cx="586.2" cy="101.4" r="0.9"/><circle cx="584.4" cy="101.5" r="0.9"/><circle cx="588.3" cy="126.2" r="0.9"/><circle cx="589.4" cy="135.2" r="0.9"/><circle cx="581.9" cy="147.1" r="0.9"/><circle cx="586.9" cy="127.4" r="0.9"/><circle cx="578.1" cy="87.3" r="0.9"/><circle cx="578.1" cy="147.9" r="0.9"/><circle cx="586.8" cy="147.8" r="0.9"/><circle cx="578.3" cy="143.8" r="0.9"/><circle cx="585.6" cy="133.8" r="0.9"/><circle cx="585.7" cy="126.9" r="0.9"/><circle cx="579.7" cy="97.8" r="0.9"/><circle cx="584.4" cy="122.9" r="0.9"/><circle cx="578.3" cy="138.4" r="0.9"/><circle cx="582.1" cy="136.8" r="0.9"/><circle cx="579.6" cy="120.3" r="0.9"/><circle cx="577.8" cy="108.7" r="0.9"/><circle cx="585.7" cy="120.9" r="0.9"/><circle cx="582.1" cy="75.4" r="0.9"/><circle cx="577.9" cy="145.4" r="0.9"/><circle cx="583.3" cy="88.7" r="0.9"/><circle cx="584.3" cy="130.0" r="0.9"/><circle cx="581.3" cy="102.6" r="0.9"/><circle cx="585.2" cy="140.2" r="0.9"/><circle cx="586.1" cy="112.2" r="0.9"/><circle cx="577.0" cy="75.0" r="0.9"/><circle cx="588.9" cy="96.2" r="0.9"/><circle cx="578.5" cy="139.5" r="0.9"/><circle cx="582.1" cy="131.8" r="0.9"/><circle cx="580.7" cy="131.2" r="0.9"/><circle cx="584.5" cy="100.8" r="0.9"/><circle cx="579.4" cy="105.1" r="0.9"/><circle cx="584.5" cy="124.7" r="0.9"/><circle cx="578.6" cy="142.7" r="0.9"/><circle cx="582.6" cy="131.8" r="0.9"/><circle cx="588.3" cy="133.0" r="0.9"/><circle cx="583.5" cy="124.8" r="0.9"/><circle cx="584.3" cy="133.6" r="0.9"/><circle cx="576.7" cy="121.9" r="0.9"/><circle cx="586.9" cy="124.7" r="0.9"/><circle cx="586.1" cy="94.4" r="0.9"/><circle cx="575.1" cy="119.7" r="0.9"/><circle cx="580.6" cy="122.1" r="0.9"/><circle cx="583.3" cy="88.1" r="0.9"/><circle cx="588.1" cy="135.9" r="0.9"/><circle cx="588.9" cy="112.7" r="0.9"/><circle cx="589.2" cy="100.6" r="0.9"/><circle cx="583.7" cy="146.5" r="0.9"/><circle cx="586.1" cy="137.6" r="0.9"/><circle cx="582.9" cy="134.3" r="0.9"/><circle cx="577.0" cy="144.6" r="0.9"/><circle cx="577.9" cy="146.5" r="0.9"/><circle cx="582.1" cy="77.2" r="0.9"/><circle cx="585.0" cy="114.5" r="0.9"/><circle cx="580.5" cy="125.7" r="0.9"/><circle cx="588.0" cy="121.8" r="0.9"/><circle cx="583.3" cy="83.8" r="0.9"/><circle cx="577.0" cy="147.2" r="0.9"/><circle cx="580.4" cy="117.1" r="0.9"/><circle cx="582.7" cy="81.8" r="0.9"/><circle cx="584.4" cy="102.3" r="0.9"/><circle cx="588.4" cy="146.3" r="0.9"/><circle cx="576.3" cy="137.6" r="0.9"/><circle cx="586.1" cy="111.5" r="0.9"/><circle cx="579.9" cy="108.9" r="0.9"/><circle cx="584.7" cy="88.2" r="0.9"/><circle cx="582.7" cy="106.0" r="0.9"/><circle cx="581.3" cy="124.5" r="0.9"/><circle cx="580.8" cy="109.5" r="0.9"/><circle cx="585.7" cy="94.8" r="0.9"/><circle cx="586.3" cy="139.3" r="0.9"/><circle cx="586.8" cy="145.8" r="0.9"/><circle cx="576.3" cy="77.2" r="0.9"/><circle cx="578.4" cy="94.7" r="0.9"/><circle cx="587.9" cy="127.2" r="0.9"/><circle cx="582.5" cy="115.5" r="0.9"/><circle cx="588.7" cy="120.2" r="0.9"/><circle cx="580.1" cy="120.8" r="0.9"/><circle cx="579.2" cy="130.6" r="0.9"/><circle cx="580.3" cy="80.0" r="0.9"/><circle cx="581.5" cy="91.2" r="0.9"/><circle cx="587.8" cy="142.2" r="0.9"/><circle cx="581.7" cy="91.7" r="0.9"/><circle cx="588.9" cy="117.0" r="0.9"/><circle cx="588.4" cy="115.4" r="0.9"/><circle cx="586.6" cy="94.3" r="0.9"/><circle cx="581.1" cy="94.0" r="0.9"/><circle cx="575.8" cy="132.3" r="0.9"/><circle cx="580.5" cy="86.9" r="0.9"/><circle cx="580.4" cy="130.5" r="0.9"/><circle cx="588.7" cy="117.0" r="0.9"/><circle cx="585.7" cy="94.1" r="0.9"/><circle cx="575.9" cy="139.3" r="0.9"/><circle cx="587.8" cy="128.0" r="0.9"/><circle cx="587.7" cy="130.7" r="0.9"/><circle cx="585.0" cy="138.6" r="0.9"/><circle cx="585.0" cy="102.6" r="0.9"/><circle cx="581.3" cy="141.9" r="0.9"/><circle cx="581.4" cy="109.5" r="0.9"/><circle cx="579.5" cy="78.7" r="0.9"/><circle cx="580.0" cy="99.8" r="0.9"/><circle cx="584.3" cy="93.9" r="0.9"/><circle cx="581.9" cy="131.6" r="0.9"/><circle cx="582.5" cy="89.6" r="0.9"/><circle cx="582.3" cy="66.2" r="0.9"/><circle cx="580.4" cy="119.3" r="0.9"/><circle cx="583.4" cy="73.2" r="0.9"/><circle cx="581.3" cy="91.1" r="0.9"/><circle cx="580.8" cy="143.8" r="0.9"/><circle cx="582.5" cy="144.6" r="0.9"/><circle cx="584.9" cy="127.2" r="0.9"/><circle cx="582.4" cy="122.7" r="0.9"/><circle cx="587.4" cy="142.6" r="0.9"/><circle cx="584.2" cy="119.0" r="0.9"/><circle cx="586.9" cy="133.9" r="0.9"/><circle cx="587.8" cy="124.6" r="0.9"/><circle cx="578.5" cy="132.4" r="0.9"/><circle cx="588.4" cy="118.7" r="0.9"/><circle cx="581.6" cy="120.1" r="0.9"/><circle cx="575.7" cy="120.0" r="0.9"/><circle cx="579.5" cy="102.5" r="0.9"/><circle cx="577.2" cy="135.1" r="0.9"/><circle cx="577.1" cy="120.6" r="0.9"/><circle cx="581.7" cy="143.4" r="0.9"/><circle cx="581.0" cy="111.8" r="0.9"/><circle cx="580.0" cy="145.6" r="0.9"/><circle cx="578.4" cy="112.3" r="0.9"/><circle cx="583.8" cy="84.8" r="0.9"/><circle cx="578.9" cy="67.6" r="0.9"/><circle cx="582.6" cy="138.0" r="0.9"/><circle cx="589.7" cy="94.5" r="0.9"/><circle cx="587.5" cy="141.7" r="0.9"/><circle cx="588.3" cy="138.4" r="0.9"/><circle cx="580.5" cy="139.2" r="0.9"/><circle cx="586.3" cy="123.4" r="0.9"/><circle cx="583.4" cy="140.1" r="0.9"/><circle cx="587.9" cy="94.7" r="0.9"/><circle cx="585.2" cy="100.1" r="0.9"/><circle cx="586.3" cy="124.0" r="0.9"/><circle cx="581.9" cy="126.3" r="0.9"/><circle cx="576.0" cy="136.8" r="0.9"/><circle cx="589.4" cy="140.0" r="0.9"/><circle cx="577.2" cy="107.1" r="0.9"/><circle cx="588.7" cy="104.6" r="0.9"/><circle cx="587.7" cy="144.3" r="0.9"/><circle cx="587.5" cy="117.7" r="0.9"/><circle cx="582.3" cy="77.8" r="0.9"/><circle cx="584.6" cy="117.3" r="0.9"/><circle cx="584.2" cy="143.5" r="0.9"/><circle cx="588.8" cy="76.9" r="0.9"/><circle cx="584.7" cy="99.4" r="0.9"/><circle cx="586.9" cy="134.0" r="0.9"/><circle cx="586.5" cy="115.2" r="0.9"/><circle cx="588.9" cy="122.7" r="0.9"/><circle cx="586.7" cy="122.2" r="0.9"/><circle cx="580.6" cy="90.3" r="0.9"/><circle cx="583.6" cy="80.3" r="0.9"/><circle cx="582.3" cy="82.7" r="0.9"/><circle cx="581.6" cy="101.6" r="0.9"/><circle cx="574.1" cy="134.5" r="0.9"/><circle cx="585.6" cy="91.3" r="0.9"/><circle cx="582.6" cy="115.3" r="0.9"/><circle cx="581.5" cy="127.6" r="0.9"/><circle cx="586.6" cy="119.3" r="0.9"/><circle cx="580.4" cy="147.9" r="0.9"/><circle cx="588.8" cy="122.9" r="0.9"/><circle cx="588.3" cy="109.1" r="0.9"/><circle cx="585.1" cy="128.0" r="0.9"/><circle cx="579.3" cy="98.2" r="0.9"/><circle cx="580.1" cy="142.3" r="0.9"/><circle cx="587.5" cy="137.3" r="0.9"/><circle cx="585.7" cy="95.4" r="0.9"/><circle cx="583.9" cy="92.5" r="0.9"/><circle cx="580.9" cy="120.6" r="0.9"/><circle cx="587.4" cy="121.3" r="0.9"/><circle cx="587.8" cy="145.7" r="0.9"/><circle cx="588.3" cy="93.2" r="0.9"/><circle cx="588.3" cy="110.2" r="0.9"/><circle cx="583.9" cy="126.6" r="0.9"/><circle cx="579.1" cy="134.5" r="0.9"/><circle cx="579.6" cy="92.2" r="0.9"/><circle cx="583.4" cy="137.3" r="0.9"/><circle cx="580.5" cy="147.6" r="0.9"/><circle cx="582.3" cy="110.0" r="0.9"/><circle cx="583.3" cy="89.4" r="0.9"/><circle cx="573.6" cy="141.9" r="0.9"/><circle cx="589.4" cy="81.5" r="0.9"/><circle cx="582.5" cy="105.1" r="0.9"/><circle cx="578.5" cy="129.9" r="0.9"/><circle cx="581.5" cy="101.0" r="0.9"/><circle cx="577.8" cy="123.7" r="0.9"/><circle cx="577.7" cy="124.8" r="0.9"/><circle cx="586.5" cy="130.3" r="0.9"/><circle cx="575.5" cy="130.5" r="0.9"/><circle cx="581.9" cy="118.0" r="0.9"/><circle cx="580.4" cy="133.6" r="0.9"/><circle cx="588.4" cy="142.8" r="0.9"/><circle cx="589.7" cy="103.6" r="0.9"/><circle cx="581.1" cy="89.0" r="0.9"/><circle cx="581.3" cy="136.1" r="0.9"/><circle cx="580.6" cy="97.1" r="0.9"/><circle cx="586.1" cy="129.2" r="0.9"/><circle cx="589.0" cy="104.3" r="0.9"/><circle cx="587.1" cy="92.6" r="0.9"/><circle cx="582.8" cy="107.5" r="0.9"/><circle cx="583.9" cy="140.3" r="0.9"/><circle cx="586.9" cy="114.7" r="0.9"/><circle cx="587.7" cy="132.7" r="0.9"/><circle cx="576.5" cy="128.5" r="0.9"/><circle cx="589.4" cy="148.0" r="0.9"/><circle cx="589.5" cy="135.3" r="0.9"/><circle cx="579.1" cy="144.8" r="0.9"/><circle cx="585.1" cy="130.0" r="0.9"/><circle cx="580.0" cy="67.7" r="0.9"/><circle cx="587.3" cy="118.4" r="0.9"/><circle cx="587.7" cy="147.6" r="0.9"/><circle cx="588.4" cy="115.7" r="0.9"/><circle cx="582.3" cy="147.3" r="0.9"/><circle cx="583.4" cy="98.6" r="0.9"/><circle cx="583.0" cy="107.1" r="0.9"/><circle cx="585.7" cy="144.2" r="0.9"/><circle cx="589.0" cy="117.0" r="0.9"/><circle cx="578.5" cy="136.5" r="0.9"/><circle cx="585.9" cy="141.0" r="0.9"/><circle cx="576.3" cy="140.3" r="0.9"/><circle cx="588.6" cy="99.6" r="0.9"/><circle cx="587.3" cy="117.0" r="0.9"/><circle cx="585.4" cy="125.2" r="0.9"/><circle cx="587.2" cy="125.9" r="0.9"/><circle cx="576.7" cy="82.6" r="0.9"/><circle cx="583.8" cy="75.6" r="0.9"/><circle cx="582.6" cy="129.4" r="0.9"/><circle cx="580.2" cy="143.4" r="0.9"/><circle cx="582.3" cy="110.6" r="0.9"/><circle cx="584.7" cy="133.9" r="0.9"/><circle cx="584.8" cy="148.4" r="0.9"/><circle cx="580.5" cy="141.2" r="0.9"/><circle cx="581.3" cy="105.8" r="0.9"/><circle cx="588.5" cy="102.6" r="0.9"/><circle cx="582.6" cy="103.9" r="0.9"/><circle cx="587.6" cy="142.4" r="0.9"/><circle cx="580.5" cy="121.5" r="0.9"/><circle cx="577.9" cy="140.7" r="0.9"/><circle cx="589.7" cy="96.3" r="0.9"/><circle cx="582.0" cy="130.8" r="0.9"/><circle cx="587.1" cy="123.6" r="0.9"/><circle cx="576.0" cy="138.1" r="0.9"/><circle cx="579.5" cy="112.4" r="0.9"/><circle cx="589.5" cy="133.0" r="0.9"/><circle cx="577.9" cy="122.6" r="0.9"/><circle cx="583.5" cy="115.9" r="0.9"/><circle cx="586.4" cy="103.2" r="0.9"/><circle cx="583.7" cy="89.1" r="0.9"/><circle cx="585.0" cy="134.4" r="0.9"/><circle cx="581.3" cy="136.0" r="0.9"/><circle cx="579.3" cy="92.4" r="0.9"/><circle cx="580.9" cy="128.4" r="0.9"/><circle cx="588.6" cy="96.9" r="0.9"/><circle cx="583.4" cy="128.8" r="0.9"/><circle cx="588.6" cy="129.8" r="0.9"/><circle cx="589.2" cy="129.9" r="0.9"/><circle cx="588.9" cy="110.3" r="0.9"/><circle cx="585.2" cy="111.1" r="0.9"/><circle cx="580.9" cy="73.5" r="0.9"/><circle cx="577.6" cy="98.2" r="0.9"/><circle cx="589.1" cy="142.9" r="0.9"/><circle cx="585.1" cy="111.2" r="0.9"/><circle cx="581.7" cy="113.5" r="0.9"/><circle cx="578.3" cy="128.9" r="0.9"/><circle cx="582.5" cy="86.7" r="0.9"/><circle cx="582.1" cy="89.2" r="0.9"/><circle cx="584.2" cy="94.4" r="0.9"/><circle cx="578.7" cy="128.1" r="0.9"/><circle cx="576.8" cy="142.5" r="0.9"/><circle cx="581.4" cy="127.7" r="0.9"/><circle cx="589.7" cy="105.7" r="0.9"/><circle cx="576.0" cy="133.1" r="0.9"/><circle cx="580.8" cy="140.3" r="0.9"/><circle cx="588.6" cy="147.9" r="0.9"/><circle cx="589.7" cy="132.8" r="0.9"/><circle cx="582.6" cy="139.2" r="0.9"/><circle cx="578.8" cy="96.2" r="0.9"/><circle cx="583.2" cy="137.7" r="0.9"/><circle cx="585.0" cy="109.0" r="0.9"/><circle cx="584.5" cy="137.5" r="0.9"/><circle cx="582.4" cy="82.3" r="0.9"/><circle cx="584.8" cy="134.5" r="0.9"/><circle cx="576.5" cy="94.2" r="0.9"/><circle cx="588.8" cy="110.1" r="0.9"/><circle cx="583.9" cy="121.7" r="0.9"/><circle cx="588.8" cy="100.7" r="0.9"/><circle cx="579.9" cy="146.2" r="0.9"/><circle cx="576.4" cy="118.1" r="0.9"/><circle cx="584.3" cy="104.3" r="0.9"/><circle cx="588.5" cy="104.8" r="0.9"/><circle cx="577.1" cy="111.2" r="0.9"/><circle cx="575.0" cy="147.6" r="0.9"/><circle cx="586.8" cy="100.3" r="0.9"/><circle cx="582.7" cy="123.1" r="0.9"/><circle cx="584.6" cy="129.0" r="0.9"/><circle cx="579.1" cy="121.5" r="0.9"/><circle cx="586.6" cy="146.9" r="0.9"/><circle cx="585.7" cy="97.5" r="0.9"/><circle cx="582.2" cy="104.1" r="0.9"/><circle cx="581.8" cy="108.5" r="0.9"/><circle cx="582.0" cy="133.8" r="0.9"/><circle cx="579.5" cy="82.6" r="0.9"/><circle cx="580.2" cy="116.9" r="0.9"/><circle cx="583.2" cy="147.3" r="0.9"/><circle cx="585.5" cy="130.1" r="0.9"/><circle cx="589.3" cy="131.2" r="0.9"/><circle cx="584.4" cy="109.4" r="0.9"/><circle cx="580.7" cy="136.7" r="0.9"/><circle cx="579.8" cy="99.5" r="0.9"/><circle cx="578.3" cy="89.7" r="0.9"/><circle cx="582.1" cy="74.6" r="0.9"/><circle cx="581.8" cy="95.7" r="0.9"/><circle cx="581.4" cy="85.8" r="0.9"/><circle cx="583.7" cy="148.0" r="0.9"/><circle cx="579.8" cy="127.0" r="0.9"/><circle cx="580.3" cy="86.2" r="0.9"/><circle cx="589.6" cy="96.6" r="0.9"/><circle cx="579.5" cy="125.6" r="0.9"/><circle cx="589.0" cy="125.4" r="0.9"/><circle cx="584.0" cy="91.8" r="0.9"/><circle cx="579.3" cy="138.1" r="0.9"/><circle cx="587.9" cy="91.0" r="0.9"/><circle cx="589.0" cy="96.0" r="0.9"/><circle cx="580.8" cy="143.9" r="0.9"/><circle cx="580.7" cy="69.6" r="0.9"/><circle cx="584.4" cy="83.6" r="0.9"/><circle cx="584.2" cy="127.0" r="0.9"/><circle cx="587.6" cy="88.1" r="0.9"/><circle cx="580.4" cy="66.2" r="0.9"/><circle cx="576.0" cy="147.9" r="0.9"/><circle cx="578.8" cy="141.7" r="0.9"/><circle cx="584.1" cy="100.1" r="0.9"/><circle cx="584.2" cy="127.9" r="0.9"/><circle cx="574.5" cy="135.9" r="0.9"/><circle cx="579.0" cy="137.9" r="0.9"/><circle cx="583.8" cy="106.1" r="0.9"/><circle cx="580.6" cy="120.0" r="0.9"/><circle cx="579.6" cy="77.2" r="0.9"/><circle cx="586.1" cy="122.8" r="0.9"/><circle cx="581.0" cy="92.7" r="0.9"/><circle cx="586.6" cy="141.5" r="0.9"/><circle cx="588.7" cy="114.7" r="0.9"/><circle cx="588.5" cy="104.1" r="0.9"/><circle cx="587.3" cy="94.6" r="0.9"/><circle cx="584.4" cy="130.5" r="0.9"/><circle cx="580.5" cy="78.7" r="0.9"/><circle cx="576.5" cy="140.6" r="0.9"/><circle cx="582.4" cy="86.6" r="0.9"/><circle cx="581.2" cy="92.5" r="0.9"/><circle cx="583.9" cy="6.0" r="0.9"/><circle cx="585.5" cy="17.0" r="0.9"/><circle cx="579.0" cy="22.0" r="0.9"/><circle cx="584.5" cy="33.0" r="0.9"/><circle cx="583.5" cy="44.0" r="0.9"/><circle cx="585.8" cy="35.0" r="0.9"/><circle cx="577.5" cy="50.0" r="0.9"/><circle cx="584.0" cy="48.0" r="0.9"/><circle cx="572.5" cy="87.0" r="0.9"/><circle cx="575.0" cy="95.0" r="0.9"/><circle cx="570.0" cy="110.0" r="0.9"/><circle cx="573.0" cy="112.0" r="0.9"/><circle cx="568.5" cy="67.5" r="0.9"/><circle cx="569.5" cy="128.0" r="0.9"/><circle cx="571.0" cy="133.0" r="0.9"/><circle cx="568.0" cy="108.5" r="0.9"/>
</g>
<g fill="#e8963c" stroke="#c87a28" stroke-width="0.4">
<circle cx="595.9" cy="145.3" r="0.9"/><circle cx="597.2" cy="146.6" r="0.9"/><circle cx="596.9" cy="137.3" r="0.9"/><circle cx="595.9" cy="123.1" r="0.9"/><circle cx="596.6" cy="103.0" r="0.9"/><circle cx="596.9" cy="118.5" r="0.9"/><circle cx="596.8" cy="116.1" r="0.9"/><circle cx="595.9" cy="117.7" r="0.9"/><circle cx="595.8" cy="126.3" r="0.9"/><circle cx="596.8" cy="135.9" r="0.9"/><circle cx="596.3" cy="113.4" r="0.9"/><circle cx="597.0" cy="142.7" r="0.9"/><circle cx="597.2" cy="129.8" r="0.9"/><circle cx="596.5" cy="133.5" r="0.9"/><circle cx="596.7" cy="141.0" r="0.9"/><circle cx="596.2" cy="133.1" r="0.9"/><circle cx="596.5" cy="149.4" r="0.9"/><circle cx="596.7" cy="142.3" r="0.9"/><circle cx="596.3" cy="135.8" r="0.9"/><circle cx="595.8" cy="123.4" r="0.9"/><circle cx="597.1" cy="125.3" r="0.9"/><circle cx="597.3" cy="127.1" r="0.9"/><circle cx="596.8" cy="144.5" r="0.9"/><circle cx="596.8" cy="134.4" r="0.9"/><circle cx="596.4" cy="136.2" r="0.9"/><circle cx="596.5" cy="144.1" r="0.9"/><circle cx="596.6" cy="120.6" r="0.9"/><circle cx="596.7" cy="124.6" r="0.9"/><circle cx="596.9" cy="124.2" r="0.9"/><circle cx="595.7" cy="120.5" r="0.9"/><circle cx="596.8" cy="137.1" r="0.9"/><circle cx="595.9" cy="111.4" r="0.9"/><circle cx="595.8" cy="124.6" r="0.9"/><circle cx="597.1" cy="134.3" r="0.9"/><circle cx="595.8" cy="149.2" r="0.9"/><circle cx="596.1" cy="149.8" r="0.9"/>
</g>
<g fill="#cf2a22" stroke="#a01a1a" stroke-width="0.4">
<circle cx="604.3" cy="95.7" r="0.9"/><circle cx="601.1" cy="148.3" r="0.9"/><circle cx="598.6" cy="137.9" r="0.9"/><circle cx="600.7" cy="136.3" r="0.9"/><circle cx="604.1" cy="99.4" r="0.9"/><circle cx="603.5" cy="124.2" r="0.9"/><circle cx="600.6" cy="99.9" r="0.9"/><circle cx="604.2" cy="146.9" r="0.9"/><circle cx="602.2" cy="111.7" r="0.9"/><circle cx="601.4" cy="123.2" r="0.9"/><circle cx="600.5" cy="110.2" r="0.9"/><circle cx="606.8" cy="136.6" r="0.9"/><circle cx="601.4" cy="108.2" r="0.9"/><circle cx="601.2" cy="105.3" r="0.9"/><circle cx="598.1" cy="110.4" r="0.9"/><circle cx="603.7" cy="140.6" r="0.9"/><circle cx="604.0" cy="134.2" r="0.9"/><circle cx="607.0" cy="88.9" r="0.9"/><circle cx="603.1" cy="148.7" r="0.9"/><circle cx="600.9" cy="117.6" r="0.9"/><circle cx="599.1" cy="96.1" r="0.9"/><circle cx="599.3" cy="133.1" r="0.9"/><circle cx="598.1" cy="137.1" r="0.9"/><circle cx="605.7" cy="132.1" r="0.9"/><circle cx="603.7" cy="131.4" r="0.9"/><circle cx="598.3" cy="148.7" r="0.9"/><circle cx="603.4" cy="88.4" r="0.9"/><circle cx="599.7" cy="140.8" r="0.9"/><circle cx="602.7" cy="92.8" r="0.9"/><circle cx="610.8" cy="144.0" r="0.9"/><circle cx="605.4" cy="138.7" r="0.9"/><circle cx="601.3" cy="138.3" r="0.9"/><circle cx="609.2" cy="124.4" r="0.9"/><circle cx="599.1" cy="126.7" r="0.9"/><circle cx="603.6" cy="112.4" r="0.9"/><circle cx="608.0" cy="139.9" r="0.9"/><circle cx="603.6" cy="141.2" r="0.9"/><circle cx="599.6" cy="127.9" r="0.9"/><circle cx="603.9" cy="123.4" r="0.9"/><circle cx="606.0" cy="128.9" r="0.9"/><circle cx="601.3" cy="139.1" r="0.9"/><circle cx="603.6" cy="98.9" r="0.9"/><circle cx="598.7" cy="116.5" r="0.9"/><circle cx="605.7" cy="124.1" r="0.9"/><circle cx="598.0" cy="133.5" r="0.9"/><circle cx="598.4" cy="121.9" r="0.9"/><circle cx="600.9" cy="125.4" r="0.9"/><circle cx="602.7" cy="116.2" r="0.9"/><circle cx="602.7" cy="135.9" r="0.9"/><circle cx="603.8" cy="124.0" r="0.9"/><circle cx="604.2" cy="127.6" r="0.9"/><circle cx="598.3" cy="135.7" r="0.9"/><circle cx="605.8" cy="133.9" r="0.9"/><circle cx="601.9" cy="108.1" r="0.9"/><circle cx="600.2" cy="127.9" r="0.9"/><circle cx="599.3" cy="85.4" r="0.9"/><circle cx="609.3" cy="135.2" r="0.9"/><circle cx="601.9" cy="139.9" r="0.9"/><circle cx="600.5" cy="114.5" r="0.9"/><circle cx="609.7" cy="143.3" r="0.9"/><circle cx="601.1" cy="125.7" r="0.9"/><circle cx="606.4" cy="145.6" r="0.9"/><circle cx="599.4" cy="130.7" r="0.9"/><circle cx="600.6" cy="107.6" r="0.9"/><circle cx="600.9" cy="125.1" r="0.9"/><circle cx="603.8" cy="142.7" r="0.9"/><circle cx="603.4" cy="142.1" r="0.9"/><circle cx="604.4" cy="80.5" r="0.9"/><circle cx="604.5" cy="133.7" r="0.9"/><circle cx="602.4" cy="98.5" r="0.9"/><circle cx="600.2" cy="105.3" r="0.9"/><circle cx="605.6" cy="133.1" r="0.9"/><circle cx="600.0" cy="88.1" r="0.9"/><circle cx="598.9" cy="115.4" r="0.9"/><circle cx="600.2" cy="96.6" r="0.9"/><circle cx="607.3" cy="143.4" r="0.9"/><circle cx="598.9" cy="106.4" r="0.9"/><circle cx="598.6" cy="143.0" r="0.9"/><circle cx="599.6" cy="140.3" r="0.9"/><circle cx="600.8" cy="130.5" r="0.9"/><circle cx="599.3" cy="149.2" r="0.9"/><circle cx="601.4" cy="139.8" r="0.9"/><circle cx="607.3" cy="138.6" r="0.9"/><circle cx="607.5" cy="132.9" r="0.9"/><circle cx="601.7" cy="113.3" r="0.9"/><circle cx="598.9" cy="133.1" r="0.9"/><circle cx="598.9" cy="109.2" r="0.9"/><circle cx="598.1" cy="121.6" r="0.9"/><circle cx="600.2" cy="142.7" r="0.9"/><circle cx="605.7" cy="132.3" r="0.9"/><circle cx="598.3" cy="146.3" r="0.9"/><circle cx="602.4" cy="125.6" r="0.9"/><circle cx="600.2" cy="146.3" r="0.9"/><circle cx="602.1" cy="137.3" r="0.9"/><circle cx="604.6" cy="131.8" r="0.9"/><circle cx="605.0" cy="113.8" r="0.9"/><circle cx="604.5" cy="122.8" r="0.9"/><circle cx="603.3" cy="85.2" r="0.9"/><circle cx="607.6" cy="147.1" r="0.9"/><circle cx="601.5" cy="144.7" r="0.9"/><circle cx="599.1" cy="133.1" r="0.9"/><circle cx="599.7" cy="136.3" r="0.9"/><circle cx="599.4" cy="118.2" r="0.9"/><circle cx="608.7" cy="148.5" r="0.9"/><circle cx="599.3" cy="95.6" r="0.9"/><circle cx="603.4" cy="116.6" r="0.9"/><circle cx="600.5" cy="137.8" r="0.9"/><circle cx="599.1" cy="121.2" r="0.9"/><circle cx="603.3" cy="124.1" r="0.9"/><circle cx="600.5" cy="147.5" r="0.9"/><circle cx="601.5" cy="137.4" r="0.9"/><circle cx="604.0" cy="78.5" r="0.9"/><circle cx="608.6" cy="125.4" r="0.9"/><circle cx="604.6" cy="106.9" r="0.9"/><circle cx="602.8" cy="127.3" r="0.9"/><circle cx="605.8" cy="118.0" r="0.9"/><circle cx="604.6" cy="140.0" r="0.9"/><circle cx="606.0" cy="141.0" r="0.9"/><circle cx="599.0" cy="147.3" r="0.9"/><circle cx="606.8" cy="132.5" r="0.9"/><circle cx="603.2" cy="125.6" r="0.9"/><circle cx="599.9" cy="141.0" r="0.9"/><circle cx="603.4" cy="113.0" r="0.9"/><circle cx="601.1" cy="112.9" r="0.9"/><circle cx="600.1" cy="102.6" r="0.9"/><circle cx="600.2" cy="137.6" r="0.9"/><circle cx="600.2" cy="125.2" r="0.9"/><circle cx="598.4" cy="95.3" r="0.9"/><circle cx="601.9" cy="139.5" r="0.9"/><circle cx="598.9" cy="117.5" r="0.9"/><circle cx="598.1" cy="141.6" r="0.9"/><circle cx="601.4" cy="130.3" r="0.9"/><circle cx="601.3" cy="119.1" r="0.9"/><circle cx="600.0" cy="121.0" r="0.9"/><circle cx="607.5" cy="114.2" r="0.9"/><circle cx="607.3" cy="113.2" r="0.9"/><circle cx="598.1" cy="87.6" r="0.9"/><circle cx="599.3" cy="101.1" r="0.9"/><circle cx="605.6" cy="136.5" r="0.9"/><circle cx="602.0" cy="109.7" r="0.9"/><circle cx="602.2" cy="133.7" r="0.9"/><circle cx="604.4" cy="138.2" r="0.9"/><circle cx="598.8" cy="144.0" r="0.9"/><circle cx="606.4" cy="109.8" r="0.9"/><circle cx="598.2" cy="136.2" r="0.9"/><circle cx="601.7" cy="103.8" r="0.9"/><circle cx="602.4" cy="111.2" r="0.9"/><circle cx="601.7" cy="119.6" r="0.9"/><circle cx="598.4" cy="91.8" r="0.9"/><circle cx="608.1" cy="139.9" r="0.9"/><circle cx="600.6" cy="116.0" r="0.9"/><circle cx="606.5" cy="136.2" r="0.9"/><circle cx="598.8" cy="135.6" r="0.9"/><circle cx="605.5" cy="140.2" r="0.9"/><circle cx="602.0" cy="141.9" r="0.9"/><circle cx="606.1" cy="125.6" r="0.9"/><circle cx="607.2" cy="115.3" r="0.9"/><circle cx="606.7" cy="93.8" r="0.9"/><circle cx="606.0" cy="115.8" r="0.9"/><circle cx="598.8" cy="138.6" r="0.9"/><circle cx="603.6" cy="128.1" r="0.9"/><circle cx="600.8" cy="93.3" r="0.9"/><circle cx="603.6" cy="138.0" r="0.9"/><circle cx="599.1" cy="143.8" r="0.9"/><circle cx="599.7" cy="102.1" r="0.9"/><circle cx="604.3" cy="107.7" r="0.9"/><circle cx="599.0" cy="133.1" r="0.9"/><circle cx="598.9" cy="117.3" r="0.9"/><circle cx="600.7" cy="113.5" r="0.9"/><circle cx="609.7" cy="132.2" r="0.9"/><circle cx="598.4" cy="109.3" r="0.9"/><circle cx="605.6" cy="146.3" r="0.9"/><circle cx="601.5" cy="106.4" r="0.9"/><circle cx="601.3" cy="131.2" r="0.9"/><circle cx="605.7" cy="138.9" r="0.9"/><circle cx="607.9" cy="137.5" r="0.9"/><circle cx="599.9" cy="92.5" r="0.9"/><circle cx="598.5" cy="143.6" r="0.9"/><circle cx="599.7" cy="122.5" r="0.9"/><circle cx="608.5" cy="148.5" r="0.9"/><circle cx="605.2" cy="146.8" r="0.9"/><circle cx="598.7" cy="95.2" r="0.9"/><circle cx="599.8" cy="134.4" r="0.9"/><circle cx="603.8" cy="94.7" r="0.9"/><circle cx="604.8" cy="142.1" r="0.9"/><circle cx="603.1" cy="125.6" r="0.9"/><circle cx="604.9" cy="114.8" r="0.9"/><circle cx="598.1" cy="115.4" r="0.9"/><circle cx="600.8" cy="89.6" r="0.9"/><circle cx="598.5" cy="147.3" r="0.9"/><circle cx="599.8" cy="108.0" r="0.9"/><circle cx="605.7" cy="149.2" r="0.9"/><circle cx="599.1" cy="143.5" r="0.9"/><circle cx="598.2" cy="114.3" r="0.9"/><circle cx="602.0" cy="135.7" r="0.9"/><circle cx="604.7" cy="107.1" r="0.9"/><circle cx="599.4" cy="146.9" r="0.9"/><circle cx="604.2" cy="120.1" r="0.9"/><circle cx="607.5" cy="130.7" r="0.9"/><circle cx="601.9" cy="131.7" r="0.9"/><circle cx="608.8" cy="149.0" r="0.9"/><circle cx="598.3" cy="138.0" r="0.9"/><circle cx="600.9" cy="127.6" r="0.9"/><circle cx="606.6" cy="124.1" r="0.9"/><circle cx="598.1" cy="105.1" r="0.9"/><circle cx="601.6" cy="128.3" r="0.9"/><circle cx="599.6" cy="132.3" r="0.9"/><circle cx="600.6" cy="143.1" r="0.9"/><circle cx="602.5" cy="98.4" r="0.9"/><circle cx="599.5" cy="138.7" r="0.9"/><circle cx="598.6" cy="118.0" r="0.9"/><circle cx="600.7" cy="146.5" r="0.9"/><circle cx="601.0" cy="136.8" r="0.9"/><circle cx="603.9" cy="137.1" r="0.9"/><circle cx="600.7" cy="92.8" r="0.9"/><circle cx="603.4" cy="117.3" r="0.9"/><circle cx="601.1" cy="143.0" r="0.9"/><circle cx="603.2" cy="140.3" r="0.9"/><circle cx="605.0" cy="106.0" r="0.9"/><circle cx="600.4" cy="144.4" r="0.9"/><circle cx="598.7" cy="101.1" r="0.9"/><circle cx="598.9" cy="89.6" r="0.9"/><circle cx="600.2" cy="141.5" r="0.9"/><circle cx="606.7" cy="139.0" r="0.9"/><circle cx="600.4" cy="137.5" r="0.9"/><circle cx="605.1" cy="130.5" r="0.9"/><circle cx="607.9" cy="120.4" r="0.9"/><circle cx="598.2" cy="136.1" r="0.9"/><circle cx="598.6" cy="148.7" r="0.9"/><circle cx="602.6" cy="139.0" r="0.9"/><circle cx="603.8" cy="141.5" r="0.9"/><circle cx="598.9" cy="141.4" r="0.9"/><circle cx="602.6" cy="143.3" r="0.9"/><circle cx="608.5" cy="139.0" r="0.9"/><circle cx="599.1" cy="106.9" r="0.9"/><circle cx="605.9" cy="131.7" r="0.9"/><circle cx="598.1" cy="87.8" r="0.9"/><circle cx="607.7" cy="130.1" r="0.9"/><circle cx="598.7" cy="123.0" r="0.9"/><circle cx="602.2" cy="97.3" r="0.9"/><circle cx="602.2" cy="148.3" r="0.9"/><circle cx="604.0" cy="145.5" r="0.9"/><circle cx="599.7" cy="118.6" r="0.9"/><circle cx="598.9" cy="101.5" r="0.9"/><circle cx="600.3" cy="126.1" r="0.9"/><circle cx="602.8" cy="92.9" r="0.9"/><circle cx="610.5" cy="139.3" r="0.9"/><circle cx="600.3" cy="113.2" r="0.9"/><circle cx="598.4" cy="111.9" r="0.9"/><circle cx="601.5" cy="110.2" r="0.9"/><circle cx="602.8" cy="104.1" r="0.9"/><circle cx="600.2" cy="134.1" r="0.9"/><circle cx="600.1" cy="126.4" r="0.9"/><circle cx="608.0" cy="113.2" r="0.9"/><circle cx="601.9" cy="97.0" r="0.9"/><circle cx="604.4" cy="116.7" r="0.9"/><circle cx="598.7" cy="139.5" r="0.9"/><circle cx="599.1" cy="140.1" r="0.9"/><circle cx="598.5" cy="108.5" r="0.9"/><circle cx="600.7" cy="131.6" r="0.9"/><circle cx="606.1" cy="145.5" r="0.9"/><circle cx="602.1" cy="124.8" r="0.9"/><circle cx="598.5" cy="131.9" r="0.9"/><circle cx="603.6" cy="130.3" r="0.9"/><circle cx="605.1" cy="139.9" r="0.9"/><circle cx="607.1" cy="134.4" r="0.9"/><circle cx="604.1" cy="127.7" r="0.9"/><circle cx="602.2" cy="120.7" r="0.9"/><circle cx="602.1" cy="128.7" r="0.9"/><circle cx="603.6" cy="120.4" r="0.9"/><circle cx="604.2" cy="93.7" r="0.9"/><circle cx="606.6" cy="128.3" r="0.9"/><circle cx="600.1" cy="145.0" r="0.9"/><circle cx="599.4" cy="135.8" r="0.9"/><circle cx="605.3" cy="124.7" r="0.9"/><circle cx="607.8" cy="130.2" r="0.9"/><circle cx="608.5" cy="139.3" r="0.9"/><circle cx="599.5" cy="83.6" r="0.9"/><circle cx="603.9" cy="102.8" r="0.9"/><circle cx="598.3" cy="97.6" r="0.9"/><circle cx="599.0" cy="129.5" r="0.9"/><circle cx="602.2" cy="131.8" r="0.9"/><circle cx="598.0" cy="108.2" r="0.9"/><circle cx="603.3" cy="136.4" r="0.9"/><circle cx="604.0" cy="131.0" r="0.9"/><circle cx="606.3" cy="130.7" r="0.9"/><circle cx="600.2" cy="98.1" r="0.9"/><circle cx="608.6" cy="123.1" r="0.9"/><circle cx="601.0" cy="112.7" r="0.9"/><circle cx="601.0" cy="127.4" r="0.9"/><circle cx="599.3" cy="145.0" r="0.9"/><circle cx="604.7" cy="113.8" r="0.9"/><circle cx="604.6" cy="91.0" r="0.9"/><circle cx="604.9" cy="105.2" r="0.9"/><circle cx="602.3" cy="147.1" r="0.9"/><circle cx="603.5" cy="132.6" r="0.9"/><circle cx="598.4" cy="147.7" r="0.9"/><circle cx="605.4" cy="146.4" r="0.9"/><circle cx="606.0" cy="97.5" r="0.9"/><circle cx="598.2" cy="94.8" r="0.9"/><circle cx="599.9" cy="117.3" r="0.9"/><circle cx="603.9" cy="121.4" r="0.9"/><circle cx="599.0" cy="120.4" r="0.9"/><circle cx="598.5" cy="118.2" r="0.9"/><circle cx="605.3" cy="105.0" r="0.9"/><circle cx="601.4" cy="101.8" r="0.9"/><circle cx="601.3" cy="137.8" r="0.9"/><circle cx="599.5" cy="141.0" r="0.9"/><circle cx="598.5" cy="133.1" r="0.9"/><circle cx="598.2" cy="147.4" r="0.9"/><circle cx="600.1" cy="122.5" r="0.9"/><circle cx="602.5" cy="144.2" r="0.9"/><circle cx="600.8" cy="125.5" r="0.9"/><circle cx="598.2" cy="143.3" r="0.9"/><circle cx="602.8" cy="143.1" r="0.9"/><circle cx="602.6" cy="139.6" r="0.9"/><circle cx="603.1" cy="142.1" r="0.9"/><circle cx="598.6" cy="120.9" r="0.9"/><circle cx="604.4" cy="108.3" r="0.9"/><circle cx="604.7" cy="130.7" r="0.9"/><circle cx="599.7" cy="118.9" r="0.9"/><circle cx="605.5" cy="144.1" r="0.9"/><circle cx="599.8" cy="148.6" r="0.9"/><circle cx="604.1" cy="131.9" r="0.9"/><circle cx="599.3" cy="123.7" r="0.9"/><circle cx="611.0" cy="140.3" r="0.9"/><circle cx="603.1" cy="99.7" r="0.9"/><circle cx="599.1" cy="101.2" r="0.9"/><circle cx="605.4" cy="92.9" r="0.9"/><circle cx="601.1" cy="148.2" r="0.9"/><circle cx="605.7" cy="130.6" r="0.9"/><circle cx="604.1" cy="123.7" r="0.9"/><circle cx="600.4" cy="128.3" r="0.9"/><circle cx="600.2" cy="137.9" r="0.9"/><circle cx="601.1" cy="134.3" r="0.9"/><circle cx="599.5" cy="121.1" r="0.9"/><circle cx="603.1" cy="130.2" r="0.9"/><circle cx="598.4" cy="143.7" r="0.9"/><circle cx="598.5" cy="145.3" r="0.9"/><circle cx="599.1" cy="100.2" r="0.9"/><circle cx="604.7" cy="134.2" r="0.9"/><circle cx="598.8" cy="99.9" r="0.9"/><circle cx="600.0" cy="138.3" r="0.9"/><circle cx="601.4" cy="142.6" r="0.9"/><circle cx="605.5" cy="135.1" r="0.9"/><circle cx="600.0" cy="129.6" r="0.9"/><circle cx="598.8" cy="131.1" r="0.9"/><circle cx="602.0" cy="148.2" r="0.9"/><circle cx="601.3" cy="108.6" r="0.9"/><circle cx="598.1" cy="142.2" r="0.9"/><circle cx="603.5" cy="138.2" r="0.9"/><circle cx="603.9" cy="112.9" r="0.9"/><circle cx="603.8" cy="133.8" r="0.9"/><circle cx="598.2" cy="124.5" r="0.9"/><circle cx="603.2" cy="137.0" r="0.9"/><circle cx="602.6" cy="97.2" r="0.9"/><circle cx="602.3" cy="118.6" r="0.9"/><circle cx="598.8" cy="118.8" r="0.9"/><circle cx="602.2" cy="142.5" r="0.9"/><circle cx="598.2" cy="130.3" r="0.9"/><circle cx="602.7" cy="108.9" r="0.9"/><circle cx="599.2" cy="138.8" r="0.9"/><circle cx="603.5" cy="88.8" r="0.9"/><circle cx="600.2" cy="123.4" r="0.9"/><circle cx="609.0" cy="135.9" r="0.9"/><circle cx="599.0" cy="148.6" r="0.9"/><circle cx="600.2" cy="125.1" r="0.9"/><circle cx="602.6" cy="141.1" r="0.9"/><circle cx="603.2" cy="103.4" r="0.9"/><circle cx="605.8" cy="124.0" r="0.9"/><circle cx="605.4" cy="144.9" r="0.9"/><circle cx="602.5" cy="148.8" r="0.9"/><circle cx="605.2" cy="121.7" r="0.9"/><circle cx="610.1" cy="141.1" r="0.9"/><circle cx="599.0" cy="100.8" r="0.9"/><circle cx="602.6" cy="131.7" r="0.9"/><circle cx="600.0" cy="147.4" r="0.9"/><circle cx="601.6" cy="88.7" r="0.9"/><circle cx="600.7" cy="80.6" r="0.9"/><circle cx="600.7" cy="135.3" r="0.9"/><circle cx="617.6" cy="91.0" r="0.9"/><circle cx="613.8" cy="127.0" r="0.9"/><circle cx="608.9" cy="47.8" r="0.9"/><circle cx="600.5" cy="69.5" r="0.9"/><circle cx="601.5" cy="78.0" r="0.9"/><circle cx="605.0" cy="79.0" r="0.9"/><circle cx="604.5" cy="87.0" r="0.9"/><circle cx="614.2" cy="139.0" r="0.9"/><circle cx="612.0" cy="103.0" r="0.9"/><circle cx="611.0" cy="116.0" r="0.9"/><circle cx="653.1" cy="9.8" r="0.9"/><circle cx="646.7" cy="9.5" r="0.9"/><circle cx="647.8" cy="17.9" r="0.9"/><circle cx="650.0" cy="25.6" r="0.9"/><circle cx="659.1" cy="5.9" r="0.9"/><circle cx="651.3" cy="72.2" r="0.9"/><circle cx="660.1" cy="20.4" r="0.9"/><circle cx="660.3" cy="30.3" r="0.9"/><circle cx="652.1" cy="18.7" r="0.9"/><circle cx="655.8" cy="13.3" r="0.9"/><circle cx="649.1" cy="6.7" r="0.9"/><circle cx="656.0" cy="95.3" r="0.9"/><circle cx="652.6" cy="11.6" r="0.9"/><circle cx="647.3" cy="8.2" r="0.9"/><circle cx="651.7" cy="60.4" r="0.9"/><circle cx="654.0" cy="41.1" r="0.9"/><circle cx="661.8" cy="57.8" r="0.9"/><circle cx="648.9" cy="80.9" r="0.9"/><circle cx="654.4" cy="29.1" r="0.9"/><circle cx="653.5" cy="10.3" r="0.9"/><circle cx="650.3" cy="42.7" r="0.9"/><circle cx="650.9" cy="21.2" r="0.9"/><circle cx="657.6" cy="3.5" r="0.9"/><circle cx="651.3" cy="67.9" r="0.9"/><circle cx="648.2" cy="50.4" r="0.9"/><circle cx="648.1" cy="85.9" r="0.9"/><circle cx="649.4" cy="25.2" r="0.9"/><circle cx="653.7" cy="6.4" r="0.9"/><circle cx="662.9" cy="18.9" r="0.9"/><circle cx="653.1" cy="16.1" r="0.9"/><circle cx="649.7" cy="6.1" r="0.9"/><circle cx="656.7" cy="37.9" r="0.9"/><circle cx="661.7" cy="42.8" r="0.9"/><circle cx="645.5" cy="42.0" r="0.9"/><circle cx="650.5" cy="8.5" r="0.9"/><circle cx="655.9" cy="41.0" r="0.9"/><circle cx="647.7" cy="46.1" r="0.9"/><circle cx="647.9" cy="85.7" r="0.9"/><circle cx="650.9" cy="61.6" r="0.9"/><circle cx="647.0" cy="39.4" r="0.9"/><circle cx="651.9" cy="27.9" r="0.9"/><circle cx="647.2" cy="62.2" r="0.9"/><circle cx="648.3" cy="86.5" r="0.9"/><circle cx="648.3" cy="22.9" r="0.9"/><circle cx="649.8" cy="36.1" r="0.9"/><circle cx="649.6" cy="58.9" r="0.9"/><circle cx="650.2" cy="107.4" r="0.9"/><circle cx="660.9" cy="53.4" r="0.9"/><circle cx="649.0" cy="65.6" r="0.9"/><circle cx="657.9" cy="44.2" r="0.9"/><circle cx="650.3" cy="63.0" r="0.9"/><circle cx="648.6" cy="67.5" r="0.9"/><circle cx="650.2" cy="48.4" r="0.9"/><circle cx="648.7" cy="111.1" r="0.9"/><circle cx="650.0" cy="30.2" r="0.9"/><circle cx="658.4" cy="26.7" r="0.9"/><circle cx="650.8" cy="16.2" r="0.9"/><circle cx="648.7" cy="37.4" r="0.9"/><circle cx="653.7" cy="77.6" r="0.9"/><circle cx="651.9" cy="44.7" r="0.9"/><circle cx="667.0" cy="20.3" r="0.9"/><circle cx="644.5" cy="31.8" r="0.9"/><circle cx="649.4" cy="58.4" r="0.9"/><circle cx="650.9" cy="11.1" r="0.9"/><circle cx="649.9" cy="16.1" r="0.9"/><circle cx="648.5" cy="50.0" r="0.9"/><circle cx="647.0" cy="12.3" r="0.9"/><circle cx="651.9" cy="38.2" r="0.9"/><circle cx="663.4" cy="64.6" r="0.9"/><circle cx="651.9" cy="106.8" r="0.9"/><circle cx="652.0" cy="94.1" r="0.9"/><circle cx="646.5" cy="10.2" r="0.9"/><circle cx="649.4" cy="40.4" r="0.9"/><circle cx="646.7" cy="52.7" r="0.9"/><circle cx="652.5" cy="77.6" r="0.9"/><circle cx="648.9" cy="24.1" r="0.9"/><circle cx="648.2" cy="2.9" r="0.9"/><circle cx="648.6" cy="35.6" r="0.9"/><circle cx="648.0" cy="114.0" r="0.9"/><circle cx="662.3" cy="12.3" r="0.9"/><circle cx="651.0" cy="13.9" r="0.9"/><circle cx="651.9" cy="68.3" r="0.9"/><circle cx="663.2" cy="48.4" r="0.9"/><circle cx="661.1" cy="9.2" r="0.9"/><circle cx="655.5" cy="5.8" r="0.9"/><circle cx="646.7" cy="9.5" r="0.9"/><circle cx="654.7" cy="57.3" r="0.9"/><circle cx="648.3" cy="62.9" r="0.9"/><circle cx="658.0" cy="44.3" r="0.9"/><circle cx="647.9" cy="15.2" r="0.9"/><circle cx="646.8" cy="21.3" r="0.9"/><circle cx="651.6" cy="42.2" r="0.9"/><circle cx="656.0" cy="76.3" r="0.9"/><circle cx="651.5" cy="50.6" r="0.9"/><circle cx="646.9" cy="99.5" r="0.9"/><circle cx="662.8" cy="9.6" r="0.9"/><circle cx="647.6" cy="50.7" r="0.9"/><circle cx="653.6" cy="3.1" r="0.9"/><circle cx="651.8" cy="110.1" r="0.9"/><circle cx="656.1" cy="19.8" r="0.9"/><circle cx="648.8" cy="54.9" r="0.9"/><circle cx="644.9" cy="12.1" r="0.9"/><circle cx="661.2" cy="44.5" r="0.9"/><circle cx="657.1" cy="47.9" r="0.9"/><circle cx="653.2" cy="13.4" r="0.9"/><circle cx="656.3" cy="63.2" r="0.9"/><circle cx="646.3" cy="62.1" r="0.9"/><circle cx="651.4" cy="63.4" r="0.9"/><circle cx="649.5" cy="26.9" r="0.9"/><circle cx="654.8" cy="73.8" r="0.9"/><circle cx="651.8" cy="8.4" r="0.9"/><circle cx="649.4" cy="40.0" r="0.9"/><circle cx="650.1" cy="54.0" r="0.9"/><circle cx="646.5" cy="96.3" r="0.9"/><circle cx="658.7" cy="44.1" r="0.9"/><circle cx="661.7" cy="16.2" r="0.9"/><circle cx="647.5" cy="6.3" r="0.9"/><circle cx="660.1" cy="3.8" r="0.9"/><circle cx="651.9" cy="21.7" r="0.9"/><circle cx="656.2" cy="18.2" r="0.9"/><circle cx="652.5" cy="55.4" r="0.9"/><circle cx="647.7" cy="58.2" r="0.9"/><circle cx="653.0" cy="26.7" r="0.9"/><circle cx="651.1" cy="25.6" r="0.9"/><circle cx="652.0" cy="69.4" r="0.9"/><circle cx="646.4" cy="26.3" r="0.9"/><circle cx="648.0" cy="42.0" r="0.9"/><circle cx="647.7" cy="33.6" r="0.9"/><circle cx="651.3" cy="11.5" r="0.9"/><circle cx="653.8" cy="22.2" r="0.9"/><circle cx="646.1" cy="100.4" r="0.9"/><circle cx="657.8" cy="20.0" r="0.9"/><circle cx="649.6" cy="57.4" r="0.9"/><circle cx="648.0" cy="40.7" r="0.9"/><circle cx="649.4" cy="62.1" r="0.9"/><circle cx="648.4" cy="54.2" r="0.9"/><circle cx="655.4" cy="17.4" r="0.9"/><circle cx="649.5" cy="29.8" r="0.9"/><circle cx="657.1" cy="80.6" r="0.9"/><circle cx="646.1" cy="80.8" r="0.9"/><circle cx="645.5" cy="23.9" r="0.9"/><circle cx="654.3" cy="7.4" r="0.9"/><circle cx="646.5" cy="38.7" r="0.9"/><circle cx="650.9" cy="108.4" r="0.9"/><circle cx="647.4" cy="29.2" r="0.9"/><circle cx="647.6" cy="41.9" r="0.9"/><circle cx="648.2" cy="23.2" r="0.9"/><circle cx="653.7" cy="57.9" r="0.9"/><circle cx="648.7" cy="11.5" r="0.9"/><circle cx="660.4" cy="44.1" r="0.9"/><circle cx="649.8" cy="29.7" r="0.9"/><circle cx="646.0" cy="30.3" r="0.9"/><circle cx="654.2" cy="53.0" r="0.9"/><circle cx="654.9" cy="3.0" r="0.9"/><circle cx="652.2" cy="39.6" r="0.9"/><circle cx="646.0" cy="37.4" r="0.9"/><circle cx="647.8" cy="32.5" r="0.9"/><circle cx="651.3" cy="85.4" r="0.9"/><circle cx="645.6" cy="54.3" r="0.9"/><circle cx="650.8" cy="2.0" r="0.9"/><circle cx="650.7" cy="56.6" r="0.9"/><circle cx="655.3" cy="16.4" r="0.9"/><circle cx="650.4" cy="40.5" r="0.9"/><circle cx="656.2" cy="22.7" r="0.9"/><circle cx="650.6" cy="26.1" r="0.9"/><circle cx="652.3" cy="92.9" r="0.9"/><circle cx="650.5" cy="38.8" r="0.9"/><circle cx="647.7" cy="5.4" r="0.9"/><circle cx="647.4" cy="9.3" r="0.9"/><circle cx="652.7" cy="3.8" r="0.9"/><circle cx="652.5" cy="6.4" r="0.9"/><circle cx="653.9" cy="42.4" r="0.9"/><circle cx="651.6" cy="58.7" r="0.9"/><circle cx="648.7" cy="12.7" r="0.9"/><circle cx="660.6" cy="6.5" r="0.9"/><circle cx="666.8" cy="15.5" r="0.9"/><circle cx="651.1" cy="72.1" r="0.9"/><circle cx="649.7" cy="32.5" r="0.9"/><circle cx="646.6" cy="70.3" r="0.9"/><circle cx="645.9" cy="41.8" r="0.9"/><circle cx="654.0" cy="2.7" r="0.9"/><circle cx="649.0" cy="40.6" r="0.9"/><circle cx="652.2" cy="87.9" r="0.9"/><circle cx="647.5" cy="11.5" r="0.9"/><circle cx="661.1" cy="30.8" r="0.9"/><circle cx="662.3" cy="29.8" r="0.9"/><circle cx="648.4" cy="105.9" r="0.9"/><circle cx="646.4" cy="25.9" r="0.9"/><circle cx="657.7" cy="68.8" r="0.9"/><circle cx="652.6" cy="22.8" r="0.9"/><circle cx="648.1" cy="2.4" r="0.9"/><circle cx="649.5" cy="53.4" r="0.9"/><circle cx="651.0" cy="64.9" r="0.9"/><circle cx="655.1" cy="97.6" r="0.9"/><circle cx="647.9" cy="75.9" r="0.9"/><circle cx="654.7" cy="27.1" r="0.9"/><circle cx="652.5" cy="50.3" r="0.9"/><circle cx="648.4" cy="95.7" r="0.9"/><circle cx="646.5" cy="70.0" r="0.9"/><circle cx="649.7" cy="11.7" r="0.9"/><circle cx="647.6" cy="25.0" r="0.9"/><circle cx="654.6" cy="39.7" r="0.9"/><circle cx="649.4" cy="19.5" r="0.9"/><circle cx="649.2" cy="3.7" r="0.9"/><circle cx="645.7" cy="44.0" r="0.9"/><circle cx="648.7" cy="66.5" r="0.9"/><circle cx="646.9" cy="1.7" r="0.9"/><circle cx="653.2" cy="42.5" r="0.9"/><circle cx="653.4" cy="79.4" r="0.9"/><circle cx="648.2" cy="27.8" r="0.9"/><circle cx="654.4" cy="31.3" r="0.9"/><circle cx="648.1" cy="23.9" r="0.9"/><circle cx="650.0" cy="52.7" r="0.9"/><circle cx="646.6" cy="25.8" r="0.9"/><circle cx="649.1" cy="78.1" r="0.9"/><circle cx="657.0" cy="27.8" r="0.9"/><circle cx="646.5" cy="75.8" r="0.9"/><circle cx="651.3" cy="10.0" r="0.9"/><circle cx="649.0" cy="4.0" r="0.9"/><circle cx="645.5" cy="4.4" r="0.9"/><circle cx="653.3" cy="61.5" r="0.9"/><circle cx="659.4" cy="35.8" r="0.9"/><circle cx="648.9" cy="31.1" r="0.9"/><circle cx="648.5" cy="106.0" r="0.9"/><circle cx="650.3" cy="5.3" r="0.9"/><circle cx="648.2" cy="38.0" r="0.9"/><circle cx="657.1" cy="13.3" r="0.9"/><circle cx="654.2" cy="5.4" r="0.9"/><circle cx="650.9" cy="76.5" r="0.9"/><circle cx="645.6" cy="5.1" r="0.9"/><circle cx="665.6" cy="2.9" r="0.9"/><circle cx="649.2" cy="91.1" r="0.9"/><circle cx="647.0" cy="15.8" r="0.9"/><circle cx="660.7" cy="11.7" r="0.9"/><circle cx="645.4" cy="15.9" r="0.9"/><circle cx="648.0" cy="86.6" r="0.9"/><circle cx="653.0" cy="55.0" r="0.9"/><circle cx="647.6" cy="22.8" r="0.9"/><circle cx="657.0" cy="40.2" r="0.9"/><circle cx="659.1" cy="21.6" r="0.9"/><circle cx="645.8" cy="8.0" r="0.9"/><circle cx="663.2" cy="38.4" r="0.9"/><circle cx="653.8" cy="68.0" r="0.9"/><circle cx="658.5" cy="37.7" r="0.9"/><circle cx="654.3" cy="14.2" r="0.9"/><circle cx="652.7" cy="15.7" r="0.9"/><circle cx="662.5" cy="63.2" r="0.9"/><circle cx="656.4" cy="60.3" r="0.9"/><circle cx="652.1" cy="17.6" r="0.9"/><circle cx="647.1" cy="92.8" r="0.9"/><circle cx="645.8" cy="2.8" r="0.9"/><circle cx="657.6" cy="3.9" r="0.9"/><circle cx="651.6" cy="72.7" r="0.9"/><circle cx="647.7" cy="19.9" r="0.9"/><circle cx="663.0" cy="51.7" r="0.9"/><circle cx="651.2" cy="8.4" r="0.9"/><circle cx="648.0" cy="83.5" r="0.9"/><circle cx="648.8" cy="15.4" r="0.9"/><circle cx="651.5" cy="47.8" r="0.9"/><circle cx="658.5" cy="24.8" r="0.9"/><circle cx="648.8" cy="64.3" r="0.9"/><circle cx="653.3" cy="20.9" r="0.9"/><circle cx="645.2" cy="27.3" r="0.9"/><circle cx="656.6" cy="60.6" r="0.9"/><circle cx="648.6" cy="75.9" r="0.9"/><circle cx="653.8" cy="34.4" r="0.9"/><circle cx="654.3" cy="3.5" r="0.9"/><circle cx="648.6" cy="89.5" r="0.9"/><circle cx="647.7" cy="15.6" r="0.9"/><circle cx="647.5" cy="13.6" r="0.9"/><circle cx="646.4" cy="85.2" r="0.9"/><circle cx="658.4" cy="24.0" r="0.9"/><circle cx="651.4" cy="10.2" r="0.9"/><circle cx="646.5" cy="94.5" r="0.9"/><circle cx="647.6" cy="59.5" r="0.9"/><circle cx="648.0" cy="38.3" r="0.9"/><circle cx="649.1" cy="104.5" r="0.9"/><circle cx="652.1" cy="64.8" r="0.9"/><circle cx="656.2" cy="68.3" r="0.9"/><circle cx="653.9" cy="22.1" r="0.9"/><circle cx="652.0" cy="47.4" r="0.9"/><circle cx="651.1" cy="101.8" r="0.9"/><circle cx="652.9" cy="60.6" r="0.9"/><circle cx="660.1" cy="15.1" r="0.9"/><circle cx="648.5" cy="21.9" r="0.9"/><circle cx="651.6" cy="72.9" r="0.9"/><circle cx="649.0" cy="16.3" r="0.9"/><circle cx="648.9" cy="14.5" r="0.9"/><circle cx="649.5" cy="65.4" r="0.9"/><circle cx="659.3" cy="51.3" r="0.9"/><circle cx="650.7" cy="1.7" r="0.9"/><circle cx="652.5" cy="87.9" r="0.9"/><circle cx="649.6" cy="113.6" r="0.9"/><circle cx="649.6" cy="18.2" r="0.9"/><circle cx="646.2" cy="66.9" r="0.9"/><circle cx="652.2" cy="7.3" r="0.9"/><circle cx="659.5" cy="4.9" r="0.9"/><circle cx="649.4" cy="16.7" r="0.9"/><circle cx="649.0" cy="8.6" r="0.9"/><circle cx="645.9" cy="6.5" r="0.9"/><circle cx="650.4" cy="41.9" r="0.9"/><circle cx="650.7" cy="2.2" r="0.9"/><circle cx="649.4" cy="75.4" r="0.9"/><circle cx="647.3" cy="26.8" r="0.9"/><circle cx="652.7" cy="94.4" r="0.9"/><circle cx="659.0" cy="22.8" r="0.9"/><circle cx="653.0" cy="39.8" r="0.9"/><circle cx="651.5" cy="24.3" r="0.9"/><circle cx="652.4" cy="77.1" r="0.9"/><circle cx="648.6" cy="35.3" r="0.9"/><circle cx="649.6" cy="94.3" r="0.9"/><circle cx="650.8" cy="21.9" r="0.9"/><circle cx="651.0" cy="73.2" r="0.9"/><circle cx="647.1" cy="97.6" r="0.9"/><circle cx="650.1" cy="38.9" r="0.9"/><circle cx="648.0" cy="51.7" r="0.9"/><circle cx="663.2" cy="11.2" r="0.9"/><circle cx="652.6" cy="59.8" r="0.9"/><circle cx="654.8" cy="3.6" r="0.9"/><circle cx="658.4" cy="8.7" r="0.9"/><circle cx="651.1" cy="8.9" r="0.9"/><circle cx="655.4" cy="45.6" r="0.9"/><circle cx="645.9" cy="76.7" r="0.9"/><circle cx="647.3" cy="67.3" r="0.9"/><circle cx="648.0" cy="109.1" r="0.9"/><circle cx="652.6" cy="21.5" r="0.9"/><circle cx="649.0" cy="6.2" r="0.9"/><circle cx="653.2" cy="24.7" r="0.9"/><circle cx="648.9" cy="75.9" r="0.9"/><circle cx="649.8" cy="61.1" r="0.9"/><circle cx="653.7" cy="60.3" r="0.9"/><circle cx="649.6" cy="73.9" r="0.9"/><circle cx="652.4" cy="8.9" r="0.9"/><circle cx="648.5" cy="65.4" r="0.9"/><circle cx="654.0" cy="21.9" r="0.9"/><circle cx="654.8" cy="56.2" r="0.9"/><circle cx="651.4" cy="9.4" r="0.9"/><circle cx="651.4" cy="30.9" r="0.9"/><circle cx="653.7" cy="42.5" r="0.9"/><circle cx="645.5" cy="19.1" r="0.9"/><circle cx="653.7" cy="118.0" r="0.9"/><circle cx="646.1" cy="9.4" r="0.9"/><circle cx="659.0" cy="40.7" r="0.9"/><circle cx="646.6" cy="36.1" r="0.9"/><circle cx="654.9" cy="56.5" r="0.9"/><circle cx="651.7" cy="82.9" r="0.9"/><circle cx="651.9" cy="5.4" r="0.9"/><circle cx="655.7" cy="14.2" r="0.9"/><circle cx="650.3" cy="47.7" r="0.9"/><circle cx="648.5" cy="7.4" r="0.9"/><circle cx="648.2" cy="46.0" r="0.9"/><circle cx="647.8" cy="77.8" r="0.9"/><circle cx="661.8" cy="20.7" r="0.9"/><circle cx="650.8" cy="89.2" r="0.9"/><circle cx="646.2" cy="12.2" r="0.9"/><circle cx="650.9" cy="102.3" r="0.9"/><circle cx="651.8" cy="10.7" r="0.9"/><circle cx="659.1" cy="25.1" r="0.9"/><circle cx="647.4" cy="80.6" r="0.9"/><circle cx="650.3" cy="15.8" r="0.9"/><circle cx="656.3" cy="67.6" r="0.9"/><circle cx="648.6" cy="21.1" r="0.9"/><circle cx="647.8" cy="111.7" r="0.9"/><circle cx="651.1" cy="62.7" r="0.9"/><circle cx="647.1" cy="39.5" r="0.9"/><circle cx="653.1" cy="37.0" r="0.9"/><circle cx="652.6" cy="81.4" r="0.9"/><circle cx="653.9" cy="81.9" r="0.9"/><circle cx="653.0" cy="30.7" r="0.9"/><circle cx="648.0" cy="24.0" r="0.9"/><circle cx="656.0" cy="9.1" r="0.9"/><circle cx="655.6" cy="46.7" r="0.9"/><circle cx="654.4" cy="38.5" r="0.9"/><circle cx="647.8" cy="28.5" r="0.9"/><circle cx="648.1" cy="36.2" r="0.9"/><circle cx="662.3" cy="24.8" r="0.9"/><circle cx="647.8" cy="46.4" r="0.9"/><circle cx="652.0" cy="52.8" r="0.9"/><circle cx="651.6" cy="92.8" r="0.9"/><circle cx="647.6" cy="72.4" r="0.9"/><circle cx="662.8" cy="27.0" r="0.9"/><circle cx="649.3" cy="69.8" r="0.9"/><circle cx="646.8" cy="6.4" r="0.9"/><circle cx="654.2" cy="68.7" r="0.9"/><circle cx="649.2" cy="6.5" r="0.9"/><circle cx="646.7" cy="24.8" r="0.9"/><circle cx="647.1" cy="100.1" r="0.9"/><circle cx="648.9" cy="5.7" r="0.9"/><circle cx="651.4" cy="89.1" r="0.9"/><circle cx="651.2" cy="64.7" r="0.9"/><circle cx="659.9" cy="11.9" r="0.9"/><circle cx="654.1" cy="81.9" r="0.9"/><circle cx="658.1" cy="86.2" r="0.9"/><circle cx="652.6" cy="95.8" r="0.9"/><circle cx="650.1" cy="44.2" r="0.9"/><circle cx="652.7" cy="37.4" r="0.9"/><circle cx="646.6" cy="14.6" r="0.9"/><circle cx="646.9" cy="78.3" r="0.9"/><circle cx="648.6" cy="74.3" r="0.9"/><circle cx="654.6" cy="4.0" r="0.9"/><circle cx="647.0" cy="64.5" r="0.9"/><circle cx="659.4" cy="60.6" r="0.9"/><circle cx="648.8" cy="13.9" r="0.9"/><circle cx="647.4" cy="43.0" r="0.9"/><circle cx="648.8" cy="84.3" r="0.9"/><circle cx="653.2" cy="28.6" r="0.9"/><circle cx="657.3" cy="98.6" r="0.9"/><circle cx="655.7" cy="70.3" r="0.9"/><circle cx="647.4" cy="8.8" r="0.9"/><circle cx="655.9" cy="60.5" r="0.9"/><circle cx="658.9" cy="19.4" r="0.9"/><circle cx="660.4" cy="24.1" r="0.9"/><circle cx="647.8" cy="97.4" r="0.9"/><circle cx="650.4" cy="11.8" r="0.9"/><circle cx="645.9" cy="42.4" r="0.9"/><circle cx="648.4" cy="72.5" r="0.9"/><circle cx="652.5" cy="13.6" r="0.9"/><circle cx="654.8" cy="11.7" r="0.9"/><circle cx="646.8" cy="63.3" r="0.9"/><circle cx="650.3" cy="55.5" r="0.9"/><circle cx="646.3" cy="17.7" r="0.9"/><circle cx="661.8" cy="24.0" r="0.9"/><circle cx="646.1" cy="103.4" r="0.9"/><circle cx="653.9" cy="3.9" r="0.9"/><circle cx="655.2" cy="70.5" r="0.9"/><circle cx="650.7" cy="110.4" r="0.9"/><circle cx="649.7" cy="46.3" r="0.9"/><circle cx="644.8" cy="3.1" r="0.9"/><circle cx="656.1" cy="14.7" r="0.9"/><circle cx="662.1" cy="8.3" r="0.9"/><circle cx="651.7" cy="56.5" r="0.9"/><circle cx="647.8" cy="86.9" r="0.9"/><circle cx="656.7" cy="12.1" r="0.9"/><circle cx="654.9" cy="61.3" r="0.9"/><circle cx="649.5" cy="12.4" r="0.9"/><circle cx="660.4" cy="11.8" r="0.9"/><circle cx="650.9" cy="28.3" r="0.9"/><circle cx="648.2" cy="26.9" r="0.9"/><circle cx="652.5" cy="60.7" r="0.9"/><circle cx="648.4" cy="63.5" r="0.9"/><circle cx="661.1" cy="3.2" r="0.9"/><circle cx="666.3" cy="3.1" r="0.9"/><circle cx="663.8" cy="2.9" r="0.9"/><circle cx="647.7" cy="2.5" r="0.9"/><circle cx="658.6" cy="3.1" r="0.9"/><circle cx="644.9" cy="1.9" r="0.9"/><circle cx="656.9" cy="3.8" r="0.9"/><circle cx="661.8" cy="2.8" r="0.9"/><circle cx="659.9" cy="2.1" r="0.9"/><circle cx="655.9" cy="3.2" r="0.9"/><circle cx="663.8" cy="3.5" r="0.9"/><circle cx="663.9" cy="2.8" r="0.9"/><circle cx="661.0" cy="3.8" r="0.9"/><circle cx="660.9" cy="2.5" r="0.9"/><circle cx="653.0" cy="3.1" r="0.9"/><circle cx="665.8" cy="2.9" r="0.9"/><circle cx="666.1" cy="2.1" r="0.9"/><circle cx="647.8" cy="2.1" r="0.9"/><circle cx="663.1" cy="3.6" r="0.9"/><circle cx="653.8" cy="2.9" r="0.9"/><circle cx="664.9" cy="1.9" r="0.9"/><circle cx="645.7" cy="2.8" r="0.9"/><circle cx="661.5" cy="3.4" r="0.9"/><circle cx="660.5" cy="3.4" r="0.9"/><circle cx="655.2" cy="2.9" r="0.9"/><circle cx="646.7" cy="3.5" r="0.9"/><circle cx="653.8" cy="2.1" r="0.9"/><circle cx="661.1" cy="1.9" r="0.9"/><circle cx="654.5" cy="2.5" r="0.9"/><circle cx="662.4" cy="2.0" r="0.9"/><circle cx="665.1" cy="3.4" r="0.9"/><circle cx="647.2" cy="3.5" r="0.9"/><circle cx="646.4" cy="1.9" r="0.9"/><circle cx="660.0" cy="2.7" r="0.9"/><circle cx="654.5" cy="2.0" r="0.9"/><circle cx="661.4" cy="3.2" r="0.9"/><circle cx="666.3" cy="1.8" r="0.9"/><circle cx="654.1" cy="2.8" r="0.9"/><circle cx="656.2" cy="3.0" r="0.9"/><circle cx="650.3" cy="2.0" r="0.9"/><circle cx="654.2" cy="3.6" r="0.9"/><circle cx="650.6" cy="3.2" r="0.9"/><circle cx="666.8" cy="3.1" r="0.9"/><circle cx="651.8" cy="3.5" r="0.9"/><circle cx="648.3" cy="4.0" r="0.9"/><circle cx="662.2" cy="2.4" r="0.9"/><circle cx="657.5" cy="1.9" r="0.9"/><circle cx="645.0" cy="2.6" r="0.9"/><circle cx="653.0" cy="3.3" r="0.9"/><circle cx="648.6" cy="3.1" r="0.9"/><circle cx="664.4" cy="2.0" r="0.9"/><circle cx="653.1" cy="2.9" r="0.9"/><circle cx="662.9" cy="2.2" r="0.9"/><circle cx="666.3" cy="2.9" r="0.9"/><circle cx="645.7" cy="2.3" r="0.9"/><circle cx="664.3" cy="2.3" r="0.9"/><circle cx="654.0" cy="2.2" r="0.9"/><circle cx="661.5" cy="3.1" r="0.9"/><circle cx="666.7" cy="2.0" r="0.9"/><circle cx="658.8" cy="2.2" r="0.9"/><circle cx="658.8" cy="3.5" r="0.9"/><circle cx="656.5" cy="3.6" r="0.9"/><circle cx="643.8" cy="3.7" r="0.9"/><circle cx="645.5" cy="2.8" r="0.9"/><circle cx="658.4" cy="2.0" r="0.9"/><circle cx="667.8" cy="3.0" r="0.9"/><circle cx="667.3" cy="3.7" r="0.9"/><circle cx="651.7" cy="3.2" r="0.9"/><circle cx="649.2" cy="3.4" r="0.9"/><circle cx="652.3" cy="3.1" r="0.9"/><circle cx="656.2" cy="3.0" r="0.9"/><circle cx="664.0" cy="2.7" r="0.9"/><circle cx="655.0" cy="2.0" r="0.9"/><circle cx="662.5" cy="2.4" r="0.9"/><circle cx="661.9" cy="1.9" r="0.9"/><circle cx="657.3" cy="3.6" r="0.9"/><circle cx="664.2" cy="2.9" r="0.9"/><circle cx="648.6" cy="3.2" r="0.9"/><circle cx="664.2" cy="1.9" r="0.9"/><circle cx="648.2" cy="2.6" r="0.9"/><circle cx="675.6" cy="14.0" r="0.9"/><circle cx="674.5" cy="18.5" r="0.9"/><circle cx="676.0" cy="24.5" r="0.9"/><circle cx="681.5" cy="29.5" r="0.9"/><circle cx="671.0" cy="33.0" r="0.9"/><circle cx="675.5" cy="65.5" r="0.9"/><circle cx="674.2" cy="88.3" r="0.9"/><circle cx="677.6" cy="88.3" r="0.9"/><circle cx="651.3" cy="101.5" r="0.9"/><circle cx="653.5" cy="105.5" r="0.9"/><circle cx="652.5" cy="109.0" r="0.9"/><circle cx="654.0" cy="114.5" r="0.9"/><circle cx="658.5" cy="102.0" r="0.9"/><circle cx="661.0" cy="97.0" r="0.9"/>
</g>
<line x1="503.5" y1="150" x2="684.4" y2="150" stroke="#d4f2d4" stroke-width="1.3"/>
<line x1="590.33" y1="0.5" x2="590.33" y2="200.3" stroke="#7fd07f" stroke-width="0.5"/>
<line x1="597.67" y1="0.5" x2="597.67" y2="200.3" stroke="#7fd07f" stroke-width="0.5"/>
<circle cx="601.1" cy="66.8" r="0.9" fill="#1f7a1f" stroke="#145214" stroke-width="0.3"/>
<text transform="translate(602.6 66.4) rotate(0.03)" font-size="7.2" font-weight="bold" font-style="italic" font-family="Liberation Serif, serif" fill="#3c9a3c" stroke="#3c9a3c" stroke-width="0.08">IAA</text>
<rect x="503.5" y="0.5" width="180.9" height="199.8" fill="none" stroke="#a0a0a0" stroke-width="0.7"/>
<text transform="translate(501 162.3) rotate(0.03)" font-size="2.9" text-anchor="end" fill="#444" stroke="#444" stroke-width="0.1">1</text>
<text transform="translate(501 125.1) rotate(0.03)" font-size="2.9" text-anchor="end" fill="#444" stroke="#444" stroke-width="0.1">2</text>
<text transform="translate(501 87.9) rotate(0.03)" font-size="2.9" text-anchor="end" fill="#444" stroke="#444" stroke-width="0.1">3</text>
<text transform="translate(501 50.7) rotate(0.03)" font-size="2.9" text-anchor="end" fill="#444" stroke="#444" stroke-width="0.1">4</text>
<text transform="translate(501 13.5) rotate(0.03)" font-size="2.9" text-anchor="end" fill="#444" stroke="#444" stroke-width="0.1">5</text>
<text transform="translate(520.6 205.3) rotate(0.03)" font-size="2.9" text-anchor="middle" fill="#444" stroke="#444" stroke-width="0.1">-20</text>
<text transform="translate(557.3 205.3) rotate(0.03)" font-size="2.9" text-anchor="middle" fill="#444" stroke="#444" stroke-width="0.1">-10</text>
<text transform="translate(594 205.3) rotate(0.03)" font-size="2.9" text-anchor="middle" fill="#444" stroke="#444" stroke-width="0.1">0</text>
<text transform="translate(630.7 205.3) rotate(0.03)" font-size="2.9" text-anchor="middle" fill="#444" stroke="#444" stroke-width="0.1">10</text>
<text transform="translate(667.4 205.3) rotate(0.03)" font-size="2.9" text-anchor="middle" fill="#444" stroke="#444" stroke-width="0.1">20</text>
<text transform="translate(491.6 97.5) rotate(-89.97)" font-size="2.8" text-anchor="middle" fill="#666" stroke="#666" stroke-width="0.08">-log10(convertedPvalue)</text>
<text transform="translate(593.8 216.7) rotate(0.03)" font-size="3" text-anchor="middle" fill="#555" stroke="#555" stroke-width="0.1">log2(fold change)</text>
</g>
<text transform="translate(1.9 229.8) rotate(0.03)" font-size="17.8" font-weight="bold" stroke="#000" stroke-width="0.2">D</text>
<g>
<path d="M27.7 243.3 V349.4 H306" fill="none" stroke="#555" stroke-width="0.8"/>
<line x1="27.7" y1="349.4" x2="27.7" y2="351.2" stroke="#555" stroke-width="0.6"/>
<text transform="translate(27.7 355.6) rotate(0.03)" font-size="3" font-weight="bold" text-anchor="middle" fill="#222">3,5</text>
<line x1="85.2" y1="349.4" x2="85.2" y2="351.2" stroke="#555" stroke-width="0.6"/>
<text transform="translate(85.2 355.6) rotate(0.03)" font-size="3" font-weight="bold" text-anchor="middle" fill="#222">4</text>
<line x1="139.6" y1="349.4" x2="139.6" y2="351.2" stroke="#555" stroke-width="0.6"/>
<text transform="translate(139.6 355.6) rotate(0.03)" font-size="3" font-weight="bold" text-anchor="middle" fill="#222">4.5</text>
<line x1="194.6" y1="349.4" x2="194.6" y2="351.2" stroke="#555" stroke-width="0.6"/>
<text transform="translate(194.6 355.6) rotate(0.03)" font-size="3" font-weight="bold" text-anchor="middle" fill="#222">5</text>
<line x1="248.5" y1="349.4" x2="248.5" y2="351.2" stroke="#555" stroke-width="0.6"/>
<text transform="translate(248.5 355.6) rotate(0.03)" font-size="3" font-weight="bold" text-anchor="middle" fill="#222">5.5</text>
<line x1="303.2" y1="349.4" x2="303.2" y2="351.2" stroke="#555" stroke-width="0.6"/>
<text transform="translate(303.2 355.6) rotate(0.03)" font-size="3" font-weight="bold" text-anchor="middle" fill="#222">6</text>
<text transform="translate(24.2 295.4) rotate(-89.97)" font-size="4.22" font-weight="bold" text-anchor="middle" fill="#222">Ion counter</text>
<line x1="49.3" y1="243.5" x2="69.2" y2="243.5" stroke="#f0ae58" stroke-width="0.9"/>
<text transform="translate(73.8 246.25) rotate(0.03)" font-size="7.8" font-weight="bold" fill="#1a1a1a" stroke="#1a1a1a" stroke-width="0.09">IAA</text>
<line x1="49.3" y1="252.2" x2="69.2" y2="252.2" stroke="#ff3cff" stroke-width="0.9"/>
<text transform="translate(73.8 254.95) rotate(0.03)" font-size="7.8" font-weight="bold" fill="#1a1a1a" stroke="#1a1a1a" stroke-width="0.09">CS Emp.</text>
<line x1="49.3" y1="261.1" x2="69.2" y2="261.1" stroke="#2a2a2a" stroke-width="0.9"/>
<text transform="translate(73.8 263.85) rotate(0.03)" font-size="7.8" font-weight="bold" fill="#1a1a1a" stroke="#1a1a1a" stroke-width="0.09">CS Sup.</text>
<path d="M65.2 305.50L65.6 305.50L66.0 305.50L66.4 305.50L66.8 305.50L67.2 305.50L67.6 305.50L68.0 305.50L68.4 305.50L68.8 305.50L69.2 305.50L69.6 305.50L70.0 305.50L70.4 305.50L70.8 305.50L71.2 305.50L71.6 305.50L72.0 305.50L72.4 305.50L72.8 305.50L73.2 305.50L73.6 305.50L74.0 305.50L74.4 305.50L74.8 305.50L75.2 305.50L75.6 305.50L76.0 305.50L76.4 305.50L76.8 305.50L77.2 305.50L77.6 305.50L78.0 305.50L78.4 305.50L78.8 305.50L79.2 305.50L79.6 305.50L80.0 305.50L80.4 305.50L80.8 305.50L81.2 305.50L81.6 305.50L82.0 305.50L82.4 305.50L82.8 305.50L83.2 305.50L83.6 305.50L84.0 305.50L84.4 305.50L84.8 305.50L85.2 305.50L85.6 305.50L86.0 305.50L86.4 305.50L86.8 305.50L87.2 305.50L87.6 305.50L88.0 305.50L88.4 305.50L88.8 305.50L89.2 305.50L89.6 305.50L90.0 305.50L90.4 305.50L90.8 305.50L91.2 305.50L91.6 305.50L92.0 305.50L92.4 305.50L92.8 305.50L93.2 305.50L93.6 305.50L94.0 305.50L94.4 305.50L94.8 305.50L95.2 305.50L95.6 305.50L96.0 305.50L96.4 305.50L96.8 305.50L97.2 305.50L97.6 305.50L98.0 305.50L98.4 305.50L98.8 305.50L99.2 305.50L99.6 305.50L100.0 305.50L100.4 305.50L100.8 305.50L101.2 305.50L101.6 305.50L102.0 305.50L102.4 305.50L102.8 305.50L103.2 305.50L103.6 305.50L104.0 305.50L104.4 305.50L104.8 305.50L105.2 305.50L105.6 305.50L106.0 305.50L106.4 305.50L106.8 305.50L107.2 305.50L107.6 305.50L108.0 305.50L108.4 305.50L108.8 305.50L109.2 305.50L109.6 305.50L110.0 305.50L110.4 305.50L110.8 305.50L111.2 305.50L111.6 305.50L112.0 305.50L112.4 305.50L112.8 305.50L113.2 305.50L113.6 305.50L114.0 305.50L114.4 305.50L114.8 305.50L115.2 305.50L115.6 305.50L116.0 305.50L116.4 305.50L116.8 305.50L117.2 305.50L117.6 305.50L118.0 305.50L118.4 305.50L118.8 305.50L119.2 305.50L119.6 305.50L120.0 305.50L120.4 305.50L120.8 305.50L121.2 305.50L121.6 305.50L122.0 305.50L122.4 305.50L122.8 305.50L123.2 305.50L123.6 305.50L124.0 305.50L124.4 305.50L124.8 305.50L125.2 305.50L125.6 305.50L126.0 305.50L126.4 305.50L126.8 305.50L127.2 305.50L127.6 305.50L128.0 305.50L128.4 305.50L128.8 305.50L129.2 305.50L129.6 305.50L130.0 305.50L130.4 305.50L130.8 305.50L131.2 305.50L131.6 305.50L132.0 305.50L132.4 305.50L132.8 305.50L133.2 305.50L133.6 305.50L134.0 305.50L134.4 305.50L134.8 305.50L135.2 305.50L135.6 305.50L136.0 305.50L136.4 305.50L136.8 305.50L137.2 305.50L137.6 305.50L138.0 305.50L138.4 305.50L138.8 305.50L139.2 305.50L139.6 305.50L140.0 305.50L140.4 305.50L140.8 305.50L141.2 305.50L141.6 305.50L142.0 305.50L142.4 305.50L142.8 305.50L143.2 305.50L143.6 305.50L144.0 305.50L144.4 305.50L144.8 305.50L145.2 305.50L145.6 305.50L146.0 305.50L146.4 305.50L146.8 305.50L147.2 305.50L147.6 305.50L148.0 305.50L148.4 305.50L148.8 305.50L149.2 305.50L149.6 305.50L150.0 305.50L150.4 305.50L150.8 305.50L151.2 305.50L151.6 305.50L152.0 305.50L152.4 305.50L152.8 305.50L153.2 305.50L153.6 305.50L154.0 305.50L154.4 305.50L154.8 305.50L155.2 305.50L155.6 305.50L156.0 305.50L156.4 305.50L156.8 305.50L157.2 305.50L157.6 305.50L158.0 305.50L158.4 305.50L158.8 305.50L159.2 305.50L159.6 305.50L160.0 305.50L160.4 305.50L160.8 305.50L161.2 305.50L161.6 305.50L162.0 305.50L162.4 305.50L162.8 305.50L163.2 305.50L163.6 305.50L164.0 305.50L164.4 305.50L164.8 305.50L165.2 305.50L165.6 305.50L166.0 305.50L166.4 305.50L166.8 305.50L167.2 305.50L167.6 305.50L168.0 305.50L168.4 305.50L168.8 305.50L169.2 305.50L169.6 305.50L170.0 305.50L170.4 305.50L170.8 305.50L171.2 305.50L171.6 305.50L172.0 305.50L172.4 305.50L172.8 305.50L173.2 305.50L173.6 305.50L174.0 305.50L174.4 305.50L174.8 305.50L175.2 305.50L175.6 305.50L176.0 305.50L176.4 305.50L176.8 305.50L177.2 305.50L177.6 305.50L178.0 305.50L178.4 305.50L178.8 305.50L179.2 305.50L179.6 305.50L180.0 305.50L180.4 305.50L180.8 305.50L181.2 305.50L181.6 305.47L182.0 305.24L182.4 304.12L182.8 300.12L183.2 290.29L183.6 274.24L184.0 258.85L184.4 254.92L184.8 265.61L185.2 282.52L185.6 295.63L186.0 302.04L186.4 304.13L186.8 304.60L187.2 304.74L187.6 304.88L188.0 305.04L188.4 305.21L188.8 305.33L189.2 305.42L189.6 305.46L190.0 305.49L190.4 305.49L190.8 305.50L191.2 305.50L191.6 305.50L192.0 305.50L192.4 305.50L192.8 305.50L193.2 305.50L193.6 305.50L194.0 305.50L194.4 305.50L194.8 305.50L195.2 305.50L195.6 305.50L196.0 305.50L196.4 305.50L196.8 305.50L197.2 305.50L197.6 305.50L198.0 305.50L198.4 305.50L198.8 305.50L199.2 305.50L199.6 305.50L200.0 305.50L200.4 305.50L200.8 305.50L201.2 305.50L201.6 305.50L202.0 305.50L202.4 305.50L202.8 305.50L203.2 305.50L203.6 305.50L204.0 305.50L204.4 305.50L204.8 305.50L205.2 305.50L205.6 305.50L206.0 305.50L206.4 305.50L206.8 305.50L207.2 305.50L207.6 305.50L208.0 305.50L208.4 305.50L208.8 305.50L209.2 305.50L209.6 305.50L210.0 305.50L210.4 305.50L210.8 305.50L211.2 305.50L211.6 305.50L212.0 305.50L212.4 305.50L212.8 305.50L213.2 305.50L213.6 305.50L214.0 305.50L214.4 305.50L214.8 305.50L215.2 305.50L215.6 305.50L216.0 305.50L216.4 305.50L216.8 305.50L217.2 305.50L217.6 305.50L218.0 305.50L218.4 305.50L218.8 305.50L219.2 305.50L219.6 305.50L220.0 305.50L220.4 305.50L220.8 305.50L221.2 305.50L221.6 305.50L222.0 305.50L222.4 305.50L222.8 305.50L223.2 305.50L223.6 305.50L224.0 305.50L224.4 305.50L224.8 305.50L225.2 305.50L225.6 305.50L226.0 305.50L226.4 305.50L226.8 305.50L227.2 305.50L227.6 305.50L228.0 305.50L228.4 305.50L228.8 305.50L229.2 305.50L229.6 305.50L230.0 305.50L230.4 305.50L230.8 305.50L231.2 305.50L231.6 305.50L232.0 305.50L232.4 305.50L232.8 305.50L233.2 305.50L233.6 305.50L234.0 305.50L234.4 305.50L234.8 305.50L235.2 305.50L235.6 305.50L236.0 305.50L236.4 305.50L236.8 305.50L237.2 305.50L237.6 305.50L238.0 305.50L238.4 305.50L238.8 305.50L239.2 305.50L239.6 305.50L240.0 305.50L240.4 305.50L240.8 305.50L241.2 305.50L241.6 305.50L242.0 305.50L242.4 305.50L242.8 305.50L243.2 305.50L243.6 305.50L244.0 305.50L244.4 305.50L244.8 305.50L245.2 305.50L245.6 305.50L246.0 305.50L246.4 305.50L246.8 305.50L247.2 305.50L247.6 305.50L248.0 305.50L248.4 305.50L248.8 305.50L249.2 305.50L249.6 305.50L250.0 305.50L250.4 305.50L250.8 305.50L251.2 305.50L251.6 305.50L252.0 305.50L252.4 305.50L252.8 305.50L253.2 305.50L253.6 305.50L254.0 305.50L254.4 305.50L254.8 305.50L255.2 305.50L255.6 305.50L256.0 305.50L256.4 305.50L256.8 305.50L257.2 305.50L257.6 305.50L258.0 305.50L258.4 305.50L258.8 305.50L259.2 305.50L259.6 305.50L260.0 305.50L260.4 305.50L260.8 305.50L261.2 305.50L261.6 305.50L262.0 305.50L262.4 305.50L262.8 305.50L263.2 305.50L263.6 305.50L264.0 305.50L264.4 305.50L264.8 305.50L265.2 305.50L265.6 305.50L266.0 305.50L266.4 305.50L266.8 305.50L267.2 305.50L267.6 305.50L268.0 305.50L268.4 305.50L268.8 305.50L269.2 305.50L269.6 305.50L270.0 305.50L270.4 305.50L270.8 305.50L271.2 305.50L271.6 305.50L272.0 305.50L272.4 305.50L272.8 305.50L273.2 305.50L273.6 305.50L274.0 305.50L274.4 305.50L274.8 305.50L275.2 305.50L275.6 305.50L276.0 305.50L276.4 305.50L276.8 305.50L277.2 305.50L277.6 305.50L278.0 305.50L278.4 305.50L278.8 305.50L279.2 305.50L279.6 305.50L280.0 305.50L280.4 305.50L280.8 305.50L281.2 305.50L281.6 305.50L282.0 305.50L282.4 305.50L282.8 305.50L283.2 305.50L283.6 305.50L284.0 305.50L284.4 305.50L284.8 305.50L285.2 305.50L285.6 305.50L286.0 305.50L286.4 305.50L286.8 305.50L287.2 305.50L287.6 305.50L288.0 305.50L288.4 305.50L288.8 305.50L289.2 305.50L289.6 305.50L290.0 305.50L290.4 305.50L290.8 305.50L291.2 305.50L291.6 305.50L292.0 305.50L292.4 305.50L292.8 305.50L293.2 305.50L293.6 305.50L294.0 305.50L294.4 305.50L294.8 305.50L295.2 305.50L295.6 305.50L296.0 305.50L296.4 305.50" fill="none" stroke="#f0ae58" stroke-width="0.9" stroke-linejoin="round"/>
<path d="M59.8 320.30L60.2 320.30L60.6 320.30L61.0 320.30L61.4 320.30L61.8 320.30L62.2 320.30L62.6 320.30L63.0 320.30L63.4 320.30L63.8 320.30L64.2 320.30L64.6 320.30L65.0 320.30L65.4 320.30L65.8 320.30L66.2 320.30L66.6 320.30L67.0 320.30L67.4 320.30L67.8 320.30L68.2 320.30L68.6 320.30L69.0 320.30L69.4 320.30L69.8 320.30L70.2 320.30L70.6 320.30L71.0 320.30L71.4 320.30L71.8 320.30L72.2 320.30L72.6 320.30L73.0 320.30L73.4 320.30L73.8 320.30L74.2 320.30L74.6 320.30L75.0 320.30L75.4 320.30L75.8 320.30L76.2 320.30L76.6 320.30L77.0 320.30L77.4 320.30L77.8 320.30L78.2 320.30L78.6 320.30L79.0 320.30L79.4 320.30L79.8 320.30L80.2 320.30L80.6 320.30L81.0 320.30L81.4 320.30L81.8 320.30L82.2 320.30L82.6 320.30L83.0 320.30L83.4 320.30L83.8 320.30L84.2 320.30L84.6 320.30L85.0 320.30L85.4 320.30L85.8 320.30L86.2 320.30L86.6 320.30L87.0 320.30L87.4 320.30L87.8 320.30L88.2 320.30L88.6 320.30L89.0 320.30L89.4 320.30L89.8 320.30L90.2 320.30L90.6 320.30L91.0 320.30L91.4 320.30L91.8 320.29L92.2 320.26L92.6 320.18L93.0 320.04L93.4 319.87L93.8 319.80L94.2 319.87L94.6 320.04L95.0 320.18L95.4 320.26L95.8 320.29L96.2 320.30L96.6 320.30L97.0 320.30L97.4 320.30L97.8 320.30L98.2 320.30L98.6 320.30L99.0 320.30L99.4 320.30L99.8 320.30L100.2 320.30L100.6 320.30L101.0 320.30L101.4 320.30L101.8 320.30L102.2 320.30L102.6 320.30L103.0 320.30L103.4 320.30L103.8 320.30L104.2 320.30L104.6 320.30L105.0 320.30L105.4 320.30L105.8 320.30L106.2 320.30L106.6 320.30L107.0 320.30L107.4 320.30L107.8 320.30L108.2 320.30L108.6 320.30L109.0 320.30L109.4 320.30L109.8 320.30L110.2 320.30L110.6 320.30L111.0 320.30L111.4 320.30L111.8 320.30L112.2 320.30L112.6 320.30L113.0 320.30L113.4 320.30L113.8 320.30L114.2 320.30L114.6 320.30L115.0 320.30L115.4 320.30L115.8 320.30L116.2 320.30L116.6 320.30L117.0 320.30L117.4 320.30L117.8 320.30L118.2 320.30L118.6 320.30L119.0 320.30L119.4 320.30L119.8 320.30L120.2 320.30L120.6 320.30L121.0 320.30L121.4 320.30L121.8 320.30L122.2 320.30L122.6 320.30L123.0 320.30L123.4 320.30L123.8 320.30L124.2 320.30L124.6 320.30L125.0 320.30L125.4 320.30L125.8 320.30L126.2 320.30L126.6 320.30L127.0 320.30L127.4 320.30L127.8 320.30L128.2 320.30L128.6 320.30L129.0 320.30L129.4 320.30L129.8 320.30L130.2 320.30L130.6 320.30L131.0 320.30L131.4 320.30L131.8 320.30L132.2 320.30L132.6 320.30L133.0 320.30L133.4 320.30L133.8 320.30L134.2 320.30L134.6 320.30L135.0 320.30L135.4 320.30L135.8 320.30L136.2 320.30L136.6 320.30L137.0 320.30L137.4 320.30L137.8 320.30L138.2 320.30L138.6 320.30L139.0 320.30L139.4 320.30L139.8 320.30L140.2 320.30L140.6 320.30L141.0 320.30L141.4 320.30L141.8 320.30L142.2 320.30L142.6 320.30L143.0 320.30L143.4 320.30L143.8 320.30L144.2 320.30L144.6 320.30L145.0 320.30L145.4 320.30L145.8 320.30L146.2 320.30L146.6 320.30L147.0 320.30L147.4 320.30L147.8 320.30L148.2 320.30L148.6 320.30L149.0 320.30L149.4 320.30L149.8 320.30L150.2 320.30L150.6 320.30L151.0 320.30L151.4 320.28L151.8 320.19L152.2 319.90L152.6 319.32L153.0 318.69L153.4 318.52L153.8 318.98L154.2 319.64L154.6 320.08L155.0 320.25L155.4 320.29L155.8 320.30L156.2 320.30L156.6 320.30L157.0 320.30L157.4 320.30L157.8 320.30L158.2 320.30L158.6 320.30L159.0 320.30L159.4 320.30L159.8 320.30L160.2 320.30L160.6 320.30L161.0 320.30L161.4 320.30L161.8 320.30L162.2 320.30L162.6 320.30L163.0 320.30L163.4 320.30L163.8 320.30L164.2 320.30L164.6 320.30L165.0 320.30L165.4 320.30L165.8 320.30L166.2 320.30L166.6 320.30L167.0 320.30L167.4 320.30L167.8 320.30L168.2 320.30L168.6 320.29L169.0 320.25L169.4 320.17L169.8 319.99L170.2 319.73L170.6 319.46L171.0 319.31L171.4 319.36L171.8 319.59L172.2 319.87L172.6 320.09L173.0 320.22L173.4 320.27L173.8 320.29L174.2 320.30L174.6 320.30L175.0 320.30L175.4 320.30L175.8 320.30L176.2 320.30L176.6 320.30L177.0 320.30L177.4 320.30L177.8 320.30L178.2 320.30L178.6 320.30L179.0 320.30L179.4 320.30L179.8 320.30L180.2 320.30L180.6 320.30L181.0 320.30L181.4 320.30L181.8 320.30L182.2 320.30L182.6 320.29L183.0 320.23L183.4 320.02L183.8 319.62L184.2 319.32L184.6 319.43L185.0 319.83L185.4 320.15L185.8 320.27L186.2 320.30L186.6 320.30L187.0 320.30L187.4 320.30L187.8 320.30L188.2 320.30L188.6 320.30L189.0 320.30L189.4 320.30L189.8 320.30L190.2 320.30L190.6 320.30L191.0 320.30L191.4 320.30L191.8 320.30L192.2 320.30L192.6 320.30L193.0 320.30L193.4 320.30L193.8 320.30L194.2 320.30L194.6 320.30L195.0 320.30L195.4 320.30L195.8 320.30L196.2 320.30L196.6 320.30L197.0 320.30L197.4 320.30L197.8 320.30L198.2 320.30L198.6 320.30L199.0 320.30L199.4 320.30L199.8 320.30L200.2 320.30L200.6 320.30L201.0 320.30L201.4 320.30L201.8 320.30L202.2 320.30L202.6 320.30L203.0 320.30L203.4 320.30L203.8 320.30L204.2 320.30L204.6 320.30L205.0 320.30L205.4 320.30L205.8 320.30L206.2 320.30L206.6 320.30L207.0 320.30L207.4 320.30L207.8 320.30L208.2 320.30L208.6 320.30L209.0 320.30L209.4 320.30L209.8 320.30L210.2 320.30L210.6 320.30L211.0 320.30L211.4 320.30L211.8 320.30L212.2 320.30L212.6 320.30L213.0 320.30L213.4 320.30L213.8 320.30L214.2 320.30L214.6 320.30L215.0 320.30L215.4 320.30L215.8 320.30L216.2 320.30L216.6 320.30L217.0 320.30L217.4 320.30L217.8 320.30L218.2 320.30L218.6 320.30L219.0 320.30L219.4 320.30L219.8 320.30L220.2 320.30L220.6 320.30L221.0 320.30L221.4 320.30L221.8 320.30L222.2 320.30L222.6 320.30L223.0 320.30L223.4 320.30L223.8 320.30L224.2 320.30L224.6 320.30L225.0 320.30L225.4 320.30L225.8 320.30L226.2 320.30L226.6 320.30L227.0 320.30L227.4 320.30L227.8 320.30L228.2 320.30L228.6 320.30L229.0 320.30L229.4 320.30L229.8 320.30L230.2 320.30L230.6 320.30L231.0 320.30L231.4 320.30L231.8 320.30L232.2 320.30L232.6 320.30L233.0 320.30L233.4 320.30L233.8 320.30L234.2 320.30L234.6 320.30L235.0 320.30L235.4 320.30L235.8 320.30L236.2 320.30L236.6 320.30L237.0 320.30L237.4 320.30L237.8 320.30L238.2 320.30L238.6 320.30L239.0 320.30L239.4 320.30L239.8 320.30L240.2 320.30L240.6 320.30L241.0 320.30L241.4 320.30L241.8 320.30L242.2 320.30L242.6 320.30L243.0 320.30L243.4 320.30L243.8 320.30L244.2 320.30L244.6 320.30L245.0 320.30L245.4 320.30L245.8 320.30L246.2 320.30L246.6 320.30L247.0 320.30L247.4 320.30L247.8 320.30L248.2 320.30L248.6 320.30L249.0 320.30L249.4 320.30L249.8 320.30L250.2 320.30L250.6 320.30L251.0 320.30L251.4 320.30L251.8 320.30L252.2 320.30L252.6 320.30L253.0 320.30L253.4 320.30L253.8 320.30L254.2 320.30L254.6 320.30L255.0 320.30L255.4 320.30L255.8 320.30L256.2 320.30L256.6 320.30L257.0 320.30L257.4 320.30L257.8 320.30L258.2 320.30L258.6 320.30L259.0 320.30L259.4 320.30L259.8 320.30L260.2 320.30L260.6 320.30L261.0 320.30L261.4 320.30L261.8 320.30L262.2 320.30L262.6 320.30L263.0 320.30L263.4 320.30L263.8 320.30L264.2 320.30L264.6 320.30L265.0 320.30L265.4 320.30L265.8 320.30L266.2 320.30L266.6 320.30L267.0 320.30L267.4 320.30L267.8 320.30L268.2 320.30L268.6 320.30L269.0 320.30L269.4 320.30L269.8 320.30L270.2 320.30L270.6 320.30L271.0 320.30L271.4 320.30L271.8 320.30L272.2 320.30L272.6 320.30L273.0 320.30L273.4 320.30L273.8 320.30L274.2 320.30L274.6 320.30L275.0 320.30L275.4 320.30L275.8 320.30L276.2 320.30L276.6 320.30L277.0 320.30L277.4 320.30L277.8 320.30L278.2 320.30L278.6 320.30L279.0 320.30L279.4 320.30L279.8 320.30L280.2 320.30L280.6 320.30L281.0 320.30L281.4 320.30L281.8 320.30L282.2 320.30L282.6 320.30L283.0 320.30L283.4 320.30L283.8 320.30L284.2 320.30L284.6 320.30L285.0 320.30L285.4 320.30" fill="none" stroke="#ff3cff" stroke-width="0.9" stroke-linejoin="round"/>
<path d="M52.1 341.98L52.5 342.12L52.9 342.04L53.3 342.15L53.7 342.16L54.1 341.91L54.5 341.89L54.9 342.25L55.3 341.99L55.7 341.98L56.1 342.31L56.5 342.06L56.9 342.17L57.3 341.90L57.7 341.82L58.1 341.44L58.5 341.56L58.9 341.70L59.3 341.68L59.7 341.95L60.1 342.05L60.5 341.86L60.9 342.20L61.3 342.14L61.7 342.01L62.1 341.89L62.5 342.26L62.9 342.09L63.3 342.20L63.7 342.27L64.1 342.19L64.5 342.29L64.9 342.05L65.3 342.23L65.7 342.08L66.1 342.29L66.5 342.27L66.9 341.92L67.3 341.94L67.7 341.98L68.1 342.30L68.5 342.07L68.9 342.15L69.3 342.01L69.7 342.09L70.1 342.02L70.5 341.96L70.9 342.00L71.3 341.89L71.7 341.89L72.1 341.67L72.5 341.70L72.9 341.67L73.3 341.80L73.7 341.79L74.1 341.70L74.5 342.12L74.9 342.23L75.3 342.25L75.7 342.12L76.1 342.19L76.5 341.97L76.9 342.25L77.3 342.13L77.7 342.01L78.1 341.91L78.5 342.26L78.9 342.32L79.3 341.92L79.7 342.23L80.1 342.06L80.5 341.95L80.9 342.01L81.3 342.22L81.7 342.26L82.1 341.90L82.5 342.15L82.9 341.90L83.3 342.20L83.7 342.03L84.1 342.27L84.5 342.31L84.9 342.10L85.3 342.32L85.7 342.02L86.1 341.91L86.5 342.14L86.9 341.89L87.3 341.97L87.7 342.06L88.1 342.15L88.5 341.95L88.9 341.90L89.3 342.26L89.7 342.02L90.1 342.30L90.5 342.27L90.9 342.05L91.3 342.08L91.7 342.11L92.1 342.16L92.5 342.14L92.9 342.13L93.3 342.15L93.7 342.29L94.1 342.10L94.5 342.07L94.9 342.20L95.3 341.98L95.7 342.01L96.1 342.31L96.5 342.11L96.9 342.12L97.3 341.89L97.7 342.06L98.1 342.14L98.5 341.89L98.9 342.15L99.3 342.16L99.7 341.91L100.1 342.16L100.5 342.09L100.9 342.18L101.3 342.04L101.7 342.19L102.1 342.20L102.5 341.89L102.9 341.91L103.3 342.18L103.7 342.30L104.1 341.99L104.5 342.08L104.9 342.14L105.3 342.02L105.7 342.04L106.1 342.02L106.5 342.04L106.9 342.14L107.3 342.01L107.7 342.05L108.1 342.22L108.5 341.89L108.9 342.13L109.3 342.20L109.7 342.02L110.1 341.98L110.5 342.23L110.9 341.99L111.3 341.96L111.7 342.07L112.1 342.19L112.5 341.92L112.9 342.02L113.3 342.03L113.7 342.25L114.1 342.07L114.5 342.26L114.9 341.95L115.3 342.03L115.7 342.17L116.1 342.27L116.5 342.08L116.9 341.98L117.3 341.93L117.7 342.11L118.1 341.96L118.5 342.23L118.9 342.25L119.3 341.96L119.7 342.00L120.1 342.24L120.5 342.16L120.9 342.23L121.3 342.03L121.7 341.94L122.1 342.01L122.5 342.23L122.9 342.00L123.3 342.03L123.7 342.06L124.1 342.06L124.5 342.06L124.9 342.29L125.3 341.95L125.7 341.88L126.1 342.30L126.5 342.27L126.9 342.31L127.3 342.07L127.7 342.28L128.1 342.15L128.5 341.56L128.9 341.52L129.3 341.67L129.7 341.91L130.1 342.05L130.5 342.00L130.9 342.03L131.3 341.98L131.7 341.91L132.1 342.14L132.5 342.01L132.9 342.24L133.3 341.89L133.7 342.21L134.1 341.93L134.5 341.68L134.9 341.39L135.3 341.49L135.7 341.72L136.1 341.75L136.5 342.18L136.9 341.95L137.3 342.01L137.7 342.17L138.1 342.11L138.5 342.06L138.9 342.29L139.3 342.15L139.7 342.03L140.1 341.99L140.5 342.26L140.9 342.09L141.3 342.22L141.7 342.03L142.1 341.97L142.5 342.12L142.9 342.24L143.3 341.96L143.7 342.23L144.1 342.28L144.5 342.20L144.9 342.09L145.3 341.39L145.7 340.96L146.1 340.16L146.5 339.23L146.9 339.53L147.3 340.34L147.7 341.31L148.1 341.78L148.5 342.02L148.9 342.21L149.3 341.88L149.7 341.90L150.1 341.94L150.5 341.93L150.9 341.91L151.3 342.31L151.7 342.26L152.1 341.92L152.5 342.10L152.9 342.02L153.3 342.02L153.7 342.03L154.1 342.16L154.5 342.14L154.9 342.04L155.3 341.96L155.7 342.02L156.1 341.93L156.5 342.12L156.9 342.20L157.3 342.05L157.7 341.92L158.1 341.96L158.5 342.04L158.9 342.15L159.3 342.22L159.7 342.05L160.1 342.23L160.5 342.15L160.9 342.07L161.3 342.04L161.7 342.10L162.1 342.19L162.5 342.07L162.9 342.19L163.3 342.08L163.7 341.99L164.1 342.12L164.5 342.19L164.9 341.91L165.3 342.07L165.7 342.06L166.1 342.24L166.5 342.22L166.9 341.84L167.3 341.83L167.7 341.40L168.1 340.72L168.5 340.47L168.9 340.24L169.3 340.77L169.7 341.12L170.1 341.65L170.5 341.92L170.9 342.05L171.3 342.16L171.7 342.12L172.1 341.92L172.5 342.14L172.9 341.88L173.3 341.94L173.7 342.22L174.1 341.90L174.5 341.92L174.9 341.92L175.3 342.27L175.7 341.96L176.1 341.87L176.5 342.18L176.9 341.69L177.3 341.67L177.7 341.16L178.1 340.96L178.5 341.11L178.9 341.34L179.3 341.84L179.7 341.76L180.1 342.18L180.5 342.10L180.9 342.19L181.3 341.93L181.7 342.21L182.1 342.27L182.5 341.79L182.9 341.56L183.3 340.64L183.7 338.41L184.1 334.09L184.5 328.94L184.9 324.80L185.3 323.98L185.7 326.83L186.1 331.63L186.5 336.38L186.9 339.60L187.3 341.18L187.7 341.83L188.1 341.86L188.5 342.09L188.9 342.31L189.3 342.06L189.7 342.21L190.1 341.95L190.5 342.18L190.9 342.21L191.3 342.18L191.7 342.11L192.1 342.09L192.5 342.16L192.9 342.27L193.3 341.95L193.7 341.92L194.1 342.21L194.5 342.28L194.9 342.11L195.3 342.07L195.7 342.20L196.1 341.96L196.5 342.00L196.9 341.97L197.3 342.14L197.7 342.02L198.1 341.98L198.5 342.18L198.9 342.30L199.3 342.01L199.7 342.19L200.1 342.06L200.5 342.26L200.9 342.14L201.3 342.00L201.7 341.98L202.1 341.89L202.5 342.09L202.9 342.05L203.3 341.96L203.7 342.04L204.1 342.02L204.5 342.22L204.9 341.94L205.3 342.32L205.7 342.09L206.1 342.14L206.5 342.09L206.9 342.25L207.3 342.24L207.7 342.13L208.1 342.09L208.5 342.20L208.9 342.26L209.3 342.06L209.7 342.20L210.1 342.30L210.5 342.09L210.9 341.98L211.3 341.98L211.7 342.20L212.1 342.18L212.5 342.30L212.9 342.26L213.3 341.99L213.7 341.96L214.1 341.99L214.5 341.96L214.9 342.19L215.3 342.26L215.7 342.28L216.1 341.99L216.5 342.26L216.9 342.02L217.3 342.07L217.7 342.20L218.1 341.92L218.5 341.92L218.9 342.25L219.3 342.01L219.7 342.04L220.1 342.14L220.5 342.18L220.9 341.88L221.3 342.03L221.7 342.07L222.1 342.09L222.5 341.97L222.9 342.14L223.3 342.30L223.7 342.05L224.1 342.12L224.5 341.93L224.9 342.00L225.3 342.17L225.7 341.93L226.1 342.27L226.5 342.28L226.9 341.92L227.3 342.29L227.7 342.04L228.1 342.22L228.5 342.21L228.9 342.01L229.3 342.18L229.7 342.17L230.1 342.23L230.5 342.00L230.9 342.21L231.3 342.30L231.7 342.18L232.1 342.12L232.5 341.93L232.9 342.10L233.3 342.03L233.7 342.19L234.1 342.15L234.5 341.98L234.9 341.56L235.3 341.51L235.7 341.50L236.1 341.56L236.5 342.12L236.9 342.14L237.3 341.93L237.7 342.29L238.1 341.94L238.5 342.03L238.9 342.20L239.3 342.14L239.7 342.12L240.1 342.16L240.5 342.08L240.9 342.02L241.3 341.96L241.7 341.91L242.1 342.19L242.5 342.21L242.9 342.12L243.3 342.21L243.7 342.04L244.1 342.00L244.5 342.05L244.9 342.26L245.3 341.90L245.7 342.10L246.1 341.99L246.5 342.22L246.9 342.04L247.3 342.03L247.7 342.06L248.1 342.12L248.5 342.22L248.9 342.04L249.3 342.25L249.7 341.93L250.1 342.00L250.5 341.92L250.9 341.93L251.3 342.22L251.7 342.20L252.1 341.96L252.5 341.96L252.9 342.06L253.3 342.21L253.7 342.24L254.1 342.21L254.5 342.14L254.9 341.94L255.3 342.06L255.7 341.97L256.1 342.11L256.5 342.13L256.9 341.97L257.3 341.99L257.7 342.22L258.1 341.89L258.5 342.23L258.9 342.27L259.3 342.30L259.7 342.05L260.1 342.12L260.5 342.14L260.9 342.16L261.3 342.31L261.7 342.18L262.1 342.01L262.5 342.26L262.9 342.09L263.3 342.14L263.7 342.20L264.1 341.88L264.5 342.22L264.9 342.17L265.3 342.10L265.7 342.11L266.1 342.08L266.5 341.97L266.9 342.11L267.3 341.90L267.7 342.10L268.1 342.16L268.5 342.08L268.9 342.13L269.3 342.30L269.7 342.27L270.1 341.94L270.5 342.23L270.9 342.15L271.3 341.90L271.7 342.04L272.1 341.98L272.5 341.91L272.9 342.12L273.3 342.29L273.7 342.02L274.1 342.26L274.5 342.19L274.9 341.94L275.3 342.26L275.7 342.14L276.1 342.29L276.5 342.20L276.9 342.21L277.3 342.03L277.7 342.23" fill="none" stroke="#2a2a2a" stroke-width="0.85" stroke-linejoin="round"/>
</g>
<text transform="translate(388.3 232) rotate(0.03)" font-size="17.8" font-weight="bold" stroke="#000" stroke-width="0.2">E</text>
<g>
<path d="M538.5 248.5 L558.78 248.5" fill="none" stroke="#000" stroke-width="0.95"/>
<polygon points="561.9,248.5 558,250.45 558,246.55" fill="#000"/>
<text transform="translate(565.7 252.2) rotate(0.03)" font-size="9.83" font-weight="bold" fill="#111" stroke="#111" stroke-width="0.11">Host pathway</text>
<path d="M358.9 308.2 L364.36 311.35 L364.36 317.65 L358.9 320.8 L353.44 317.65 L353.44 311.35 Z M354.6 311.84 L358.75 309.45 M363.35 312.11 L363.35 316.89 M358.75 319.55 L354.6 317.16 M364.36 311.35 L367.99 310.49 M371.72 311.66 L373.81 314 M373.81 314 L370.53 319.29 L364.36 317.65 M372.54 314.13 L370.05 318.15" fill="none" stroke="#262626" stroke-width="0.6" stroke-linejoin="round"/>
<text transform="translate(370.21 311.46) rotate(0.03)" font-size="4.16" text-anchor="middle" fill="#262626">N</text>
<text transform="translate(370.21 307.8) rotate(0.03)" font-size="4.16" text-anchor="middle" fill="#262626">H</text>
<path d="M370.53 319.29 L372.61 326.03 L379.41 327.1 L380.92 333.84 L385.33 334.47" fill="none" stroke="#262626" stroke-width="0.6" stroke-linejoin="round"/>
<path d="M379.41 327.1 L381.43 323.95" fill="none" stroke="#262626" stroke-width="0.6" stroke-linejoin="round"/>
<path d="M380.92 333.84 L378.09 336.68 M380.12 333.04 L377.29 335.87" fill="none" stroke="#262626" stroke-width="0.6"/>
<text transform="translate(382.56 324.27) rotate(0.03)" font-size="4.03" fill="#262626" text-anchor="start">NH<tspan font-size="2.82" dy="0.81">2</tspan></text>
<text transform="translate(386.09 336.3) rotate(0.03)" font-size="4.03" fill="#262626">OH</text>
<text transform="translate(376.51 339.7) rotate(0.03)" font-size="4.03" text-anchor="middle" fill="#262626">O</text>
<path d="M425.4 278.95 L431.85 282.67 L431.85 290.12 L425.4 293.85 L418.95 290.12 L418.95 282.67 Z M420.32 283.26 L425.22 280.43 M430.66 283.57 L430.66 289.23 M425.22 292.37 L420.32 289.54 M431.85 282.67 L436.15 281.66 M440.56 283.04 L443.03 285.8 M443.03 285.8 L439.15 292.06 L431.85 290.12 M441.53 285.96 L438.58 290.72" fill="none" stroke="#262626" stroke-width="0.6" stroke-linejoin="round"/>
<text transform="translate(438.78 282.81) rotate(0.03)" font-size="4.92" text-anchor="middle" fill="#262626">N</text>
<text transform="translate(438.78 278.48) rotate(0.03)" font-size="4.92" text-anchor="middle" fill="#262626">H</text>
<path d="M439.15 292.06 L440.94 299.06 L447.42 300.03 L451.89 295.12 L456.73 296.01" fill="none" stroke="#262626" stroke-width="0.6" stroke-linejoin="round"/>
<path d="M447.42 300.03 L448.91 304.5 M446.15 300.46 L447.64 304.93" fill="none" stroke="#262626" stroke-width="0.6"/>
<path d="M451.89 295.12 L450.63 291.02 M450.61 295.51 L449.34 291.42" fill="none" stroke="#262626" stroke-width="0.6"/>
<text transform="translate(449.66 308.23) rotate(0.03)" font-size="4.77" text-anchor="middle" fill="#262626">O</text>
<text transform="translate(450.03 290.65) rotate(0.03)" font-size="4.77" text-anchor="middle" fill="#262626">O</text>
<text transform="translate(457.11 298.17) rotate(0.03)" font-size="4.77" fill="#262626">OH</text>
<path d="M527.1 275.8 L533.85 279.7 L533.85 287.5 L527.1 291.4 L520.35 287.5 L520.35 279.7 Z M521.78 280.31 L526.91 277.35 M532.61 280.64 L532.61 286.56 M526.91 289.85 L521.78 286.89 M533.85 279.7 L538.35 278.64 M542.98 280.08 L545.55 282.98 M545.55 282.98 L541.5 289.53 L533.85 287.5 M543.99 283.14 L540.9 288.12" fill="none" stroke="#262626" stroke-width="0.6" stroke-linejoin="round"/>
<text transform="translate(541.11 279.84) rotate(0.03)" font-size="5.15" text-anchor="middle" fill="#262626">N</text>
<text transform="translate(541.11 275.31) rotate(0.03)" font-size="5.15" text-anchor="middle" fill="#262626">H</text>
<path d="M541.5 289.53 L544.62 297.25 L551.33 298.81" fill="none" stroke="#262626" stroke-width="0.6" stroke-linejoin="round"/>
<line x1="550.12" y1="300.29" x2="553.32" y2="298.54" stroke="#262626" stroke-width="0.6"/>
<line x1="551.13" y1="301.37" x2="553.86" y2="299.87" stroke="#262626" stroke-width="0.6"/>
<line x1="552.15" y1="302.45" x2="554.41" y2="301.21" stroke="#262626" stroke-width="0.6"/>
<line x1="553.16" y1="303.53" x2="554.95" y2="302.55" stroke="#262626" stroke-width="0.6"/>
<text transform="translate(555.38 306.63) rotate(0.03)" font-size="3.51" text-anchor="middle" fill="#262626">o</text>
<path d="M491.9 345.6 L499 349.7 L499 357.9 L491.9 362 L484.8 357.9 L484.8 349.7 Z M486.31 350.34 L491.7 347.23 M497.69 350.68 L497.69 356.92 M491.7 360.37 L486.31 357.26 M499 349.7 L503.73 348.58 M508.59 350.1 L511.3 353.14 M511.3 353.14 L507.04 360.03 L499 357.9 M509.65 353.32 L506.41 358.55" fill="none" stroke="#262626" stroke-width="0.6" stroke-linejoin="round"/>
<text transform="translate(506.63 349.84) rotate(0.03)" font-size="5.41" text-anchor="middle" fill="#262626">N</text>
<text transform="translate(506.63 345.08) rotate(0.03)" font-size="5.41" text-anchor="middle" fill="#262626">H</text>
<path d="M507.04 360.03 L509.17 368.07 L516.88 369.54 L519.83 365.44" fill="none" stroke="#262626" stroke-width="0.6" stroke-linejoin="round"/>
<path d="M516.88 369.54 L518.19 374.63 M515.45 369.91 L516.76 375" fill="none" stroke="#262626" stroke-width="0.6"/>
<text transform="translate(520.32 366.24) rotate(0.03)" font-size="5.41" fill="#262626" text-anchor="start">NH<tspan font-size="3.79" dy="1.08">2</tspan></text>
<text transform="translate(519.34 379.69) rotate(0.03)" font-size="5.41" text-anchor="middle" fill="#262626">O</text>
<path d="M632.4 300.3 L639.5 304.4 L639.5 312.6 L632.4 316.7 L625.3 312.6 L625.3 304.4 Z M626.81 305.04 L632.2 301.93 M638.19 305.38 L638.19 311.62 M632.2 315.07 L626.81 311.96 M639.5 304.4 L644.23 303.28 M649.09 304.8 L651.8 307.84 M651.8 307.84 L647.54 314.73 L639.5 312.6 M650.15 308.02 L646.91 313.25" fill="none" stroke="#262626" stroke-width="0.6" stroke-linejoin="round"/>
<text transform="translate(647.13 304.54) rotate(0.03)" font-size="5.41" text-anchor="middle" fill="#262626">N</text>
<text transform="translate(647.13 299.78) rotate(0.03)" font-size="5.41" text-anchor="middle" fill="#262626">H</text>
<path d="M647.54 314.73 L649.67 322.44 L657.87 324.08 L660.82 319.57" fill="none" stroke="#262626" stroke-width="0.6" stroke-linejoin="round"/>
<path d="M657.87 324.08 L659.1 329.49 M656.43 324.41 L657.66 329.82" fill="none" stroke="#262626" stroke-width="0.6"/>
<text transform="translate(661.31 320.62) rotate(0.03)" font-size="5.41" fill="#262626">OH</text>
<text transform="translate(659.51 333.82) rotate(0.03)" font-size="5.41" text-anchor="middle" fill="#262626">O</text>
<text transform="translate(365.2 345.6) rotate(0.03)" font-size="7.99" font-weight="bold" fill="#111" stroke="#111" stroke-width="0.09">Try</text>
<text transform="translate(431.4 316.8) rotate(0.03)" font-size="8.2" font-weight="bold" fill="#111" stroke="#111" stroke-width="0.09">IPA</text>
<text transform="translate(533.2 316.8) rotate(0.03)" font-size="8.2" font-weight="bold" fill="#111" stroke="#111" stroke-width="0.09">IAC</text>
<text transform="translate(496.7 390.8) rotate(0.03)" font-size="8.2" font-weight="bold" fill="#111" stroke="#111" stroke-width="0.09">IMA</text>
<text transform="translate(635.9 342.7) rotate(0.03)" font-size="8.2" font-weight="bold" fill="#111" stroke="#111" stroke-width="0.09">IAA</text>
<path d="M370.9 299.2 L370.9 285.8 L410.78 285.8" fill="none" stroke="#000" stroke-width="0.95"/>
<polygon points="413.9,285.8 410,287.75 410,283.85" fill="#000"/>
<path d="M466.4 287.2 L508.68 287.2" fill="none" stroke="#000" stroke-width="0.95"/>
<polygon points="511.8,287.2 507.9,289.15 507.9,285.25" fill="#000"/>
<path d="M554.6 286.5 L641.4 286.5 L641.4 293.68" fill="none" stroke="#000" stroke-width="0.95"/>
<polygon points="641.4,296.8 639.45,292.9 643.35,292.9" fill="#000"/>
<path d="M370.9 350.2 L370.9 358.6 L480.18 358.6" fill="none" stroke="#000" stroke-width="0.95"/>
<polygon points="483.3,358.6 479.4,360.55 479.4,356.65" fill="#000"/>
<path d="M532.9 359.7 L641.4 359.7 L641.4 348.32" fill="none" stroke="#000" stroke-width="0.95"/>
<polygon points="641.4,345.2 643.35,349.1 639.45,349.1" fill="#000"/>
<text transform="translate(389.3 282.6) rotate(0.03)" font-size="5.9" font-weight="bold" text-anchor="middle" fill="#111" stroke="#111" stroke-width="0.07">IL4I1/TAM1</text>
<text transform="translate(488 284.8) rotate(0.03)" font-size="5.58" font-weight="bold" text-anchor="middle" fill="#111" stroke="#111" stroke-width="0.06">IpdC</text>
<text transform="translate(598.5 284) rotate(0.03)" font-size="5.74" font-weight="bold" text-anchor="middle" fill="#111" stroke="#111" stroke-width="0.06">ALDH/AAO</text>
<text transform="translate(421.6 355.6) rotate(0.03)" font-size="5.94" font-weight="bold" text-anchor="middle" fill="#111" stroke="#111" stroke-width="0.07">IaaM</text>
<text transform="translate(581.9 354.9) rotate(0.03)" font-size="5.87" font-weight="bold" text-anchor="middle" fill="#111" stroke="#111" stroke-width="0.07">IaaH</text>
</g>
<text transform="translate(340.6 554.3) rotate(0.03)" font-size="17.8" font-weight="bold" stroke="#000" stroke-width="0.2">I</text>
<g>
<text transform="translate(462.2 542.2) rotate(0.03)" font-size="7.75" font-weight="bold" fill="#2a4a78"><tspan font-style="italic">Clostridium scindens</tspan> Pathway</text>
<path d="M393.1 565.4 C436 543.5 592 543.5 633.6 564.4" fill="none" stroke="#1f4e79" stroke-width="1.4"/>
<polygon points="637.2,566.6 630.6,565.9 633.5,560.9" fill="#1f4e79"/>
<path d="M370.7 602.35 L376.11 605.48 L376.11 611.73 L370.7 614.85 L365.29 611.73 L365.29 605.48 Z M366.44 605.97 L370.55 603.59 M375.11 606.23 L375.11 610.98 M370.55 613.61 L366.44 611.23 M376.11 605.48 L379.72 604.62 M383.42 605.78 L385.49 608.1 M385.49 608.1 L382.24 613.35 L376.11 611.73 M384.23 608.23 L381.76 612.22" fill="none" stroke="#262626" stroke-width="0.6" stroke-linejoin="round"/>
<text transform="translate(381.93 605.59) rotate(0.03)" font-size="4.12" text-anchor="middle" fill="#262626">N</text>
<text transform="translate(381.93 601.96) rotate(0.03)" font-size="4.12" text-anchor="middle" fill="#262626">H</text>
<path d="M382.24 613.35 L384.3 620.04 L391.05 621.1 L392.55 627.79 L396.93 628.41" fill="none" stroke="#262626" stroke-width="0.6" stroke-linejoin="round"/>
<path d="M391.05 621.1 L393.05 617.98" fill="none" stroke="#262626" stroke-width="0.6" stroke-linejoin="round"/>
<path d="M392.55 627.79 L389.74 630.6 M391.75 626.99 L388.94 629.8" fill="none" stroke="#262626" stroke-width="0.6"/>
<text transform="translate(394.18 618.29) rotate(0.03)" font-size="4" fill="#262626" text-anchor="start">NH<tspan font-size="2.8" dy="0.8">2</tspan></text>
<text transform="translate(397.68 630.23) rotate(0.03)" font-size="4" fill="#262626">OH</text>
<text transform="translate(388.18 633.6) rotate(0.03)" font-size="4" text-anchor="middle" fill="#262626">O</text>
<path d="M435 574.05 L441.28 577.67 L441.28 584.92 L435 588.55 L428.72 584.92 L428.72 577.67 Z M430.05 578.24 L434.83 575.49 M440.12 578.54 L440.12 584.05 M434.83 587.11 L430.05 584.36 M441.28 577.67 L445.46 576.69 M449.76 578.03 L452.15 580.72 M452.15 580.72 L448.38 586.81 L441.28 584.92 M450.7 580.87 L447.83 585.5" fill="none" stroke="#262626" stroke-width="0.6" stroke-linejoin="round"/>
<text transform="translate(448.02 577.8) rotate(0.03)" font-size="4.79" text-anchor="middle" fill="#262626">N</text>
<text transform="translate(448.02 573.59) rotate(0.03)" font-size="4.79" text-anchor="middle" fill="#262626">H</text>
<path d="M448.38 586.81 L450.12 593.62 L456.43 594.57 L460.78 589.78 L465.49 590.65" fill="none" stroke="#262626" stroke-width="0.6" stroke-linejoin="round"/>
<path d="M456.43 594.57 L457.88 598.92 M455.19 594.98 L456.64 599.33" fill="none" stroke="#262626" stroke-width="0.6"/>
<path d="M460.78 589.78 L459.55 585.8 M459.53 590.17 L458.3 586.18" fill="none" stroke="#262626" stroke-width="0.6"/>
<text transform="translate(458.61 602.55) rotate(0.03)" font-size="4.64" text-anchor="middle" fill="#262626">O</text>
<text transform="translate(458.97 585.44) rotate(0.03)" font-size="4.64" text-anchor="middle" fill="#262626">O</text>
<text transform="translate(465.86 592.76) rotate(0.03)" font-size="4.64" fill="#262626">OH</text>
<path d="M533.2 571.1 L539.78 574.9 L539.78 582.5 L533.2 586.3 L526.62 582.5 L526.62 574.9 Z M528.02 575.5 L533.02 572.61 M538.57 575.81 L538.57 581.59 M533.02 584.79 L528.02 581.9 M539.78 574.9 L544.16 573.86 M548.67 575.27 L551.18 578.09 M551.18 578.09 L547.23 584.48 L539.78 582.5 M549.65 578.25 L546.65 583.1" fill="none" stroke="#262626" stroke-width="0.6" stroke-linejoin="round"/>
<text transform="translate(546.85 575.03) rotate(0.03)" font-size="5.02" text-anchor="middle" fill="#262626">N</text>
<text transform="translate(546.85 570.62) rotate(0.03)" font-size="5.02" text-anchor="middle" fill="#262626">H</text>
<path d="M547.23 584.48 L550.27 592 L556.81 593.52" fill="none" stroke="#262626" stroke-width="0.6" stroke-linejoin="round"/>
<line x1="555.63" y1="594.97" x2="558.74" y2="593.25" stroke="#262626" stroke-width="0.6"/>
<line x1="556.62" y1="596.02" x2="559.28" y2="594.56" stroke="#262626" stroke-width="0.6"/>
<line x1="557.6" y1="597.07" x2="559.81" y2="595.86" stroke="#262626" stroke-width="0.6"/>
<line x1="558.59" y1="598.12" x2="560.34" y2="597.16" stroke="#262626" stroke-width="0.6"/>
<text transform="translate(560.76 601.14) rotate(0.03)" font-size="3.42" text-anchor="middle" fill="#262626">o</text>
<path d="M498.95 638.7 L505.88 642.7 L505.88 650.7 L498.95 654.7 L492.02 650.7 L492.02 642.7 Z M493.49 643.33 L498.76 640.29 M504.6 643.66 L504.6 649.74 M498.76 653.11 L493.49 650.07 M505.88 642.7 L510.49 641.61 M515.23 643.09 L517.88 646.06 M517.88 646.06 L513.72 652.78 L505.88 650.7 M516.27 646.23 L513.11 651.33" fill="none" stroke="#262626" stroke-width="0.6" stroke-linejoin="round"/>
<text transform="translate(513.32 642.84) rotate(0.03)" font-size="5.28" text-anchor="middle" fill="#262626">N</text>
<text transform="translate(513.32 638.19) rotate(0.03)" font-size="5.28" text-anchor="middle" fill="#262626">H</text>
<path d="M513.72 652.78 L515.8 660.62 L523.32 662.06 L526.2 658.06" fill="none" stroke="#262626" stroke-width="0.6" stroke-linejoin="round"/>
<path d="M523.32 662.06 L524.6 667.02 M521.92 662.42 L523.2 667.38" fill="none" stroke="#262626" stroke-width="0.6"/>
<text transform="translate(526.68 658.84) rotate(0.03)" font-size="5.28" fill="#262626" text-anchor="start">NH<tspan font-size="3.7" dy="1.06">2</tspan></text>
<text transform="translate(525.72 671.96) rotate(0.03)" font-size="5.28" text-anchor="middle" fill="#262626">O</text>
<path d="M634.5 595.3 L641.25 599.2 L641.25 607 L634.5 610.9 L627.75 607 L627.75 599.2 Z M629.18 599.81 L634.31 596.85 M640.01 600.14 L640.01 606.06 M634.31 609.35 L629.18 606.39 M641.25 599.2 L645.75 598.14 M650.38 599.58 L652.95 602.48 M652.95 602.48 L648.9 609.03 L641.25 607 M651.39 602.64 L648.3 607.62" fill="none" stroke="#262626" stroke-width="0.6" stroke-linejoin="round"/>
<text transform="translate(648.51 599.34) rotate(0.03)" font-size="5.15" text-anchor="middle" fill="#262626">N</text>
<text transform="translate(648.51 594.81) rotate(0.03)" font-size="5.15" text-anchor="middle" fill="#262626">H</text>
<path d="M648.9 609.03 L650.93 616.36 L658.73 617.92 L661.53 613.63" fill="none" stroke="#262626" stroke-width="0.6" stroke-linejoin="round"/>
<path d="M658.73 617.92 L659.9 623.07 M657.36 618.23 L658.53 623.38" fill="none" stroke="#262626" stroke-width="0.6"/>
<text transform="translate(662 614.63) rotate(0.03)" font-size="5.15" fill="#262626">OH</text>
<text transform="translate(660.29 627.18) rotate(0.03)" font-size="5.15" text-anchor="middle" fill="#262626">O</text>
<text transform="translate(376.6 639.4) rotate(0.03)" font-size="7.33" font-weight="bold" fill="#111" stroke="#111" stroke-width="0.08">Try</text>
<text transform="translate(440.4 608.5) rotate(0.03)" font-size="8" font-weight="bold" fill="#111" stroke="#111" stroke-width="0.09">IPA</text>
<text transform="translate(538.6 608.4) rotate(0.03)" font-size="8" font-weight="bold" fill="#111" stroke="#111" stroke-width="0.09">IAC</text>
<text transform="translate(504.4 681.7) rotate(0.03)" font-size="8" font-weight="bold" fill="#111" stroke="#111" stroke-width="0.09">IMA</text>
<text transform="translate(638.6 633.6) rotate(0.03)" font-size="8" font-weight="bold" fill="#111" stroke="#111" stroke-width="0.09">IAA</text>
<path d="M382.2 593.6 L382.2 580.2 L420.86 580.2" fill="none" stroke="#000" stroke-width="0.9"/>
<polygon points="423.9,580.2 420.1,582.1 420.1,578.3" fill="#000"/>
<path d="M474.5 582.3 L515.16 582.3" fill="none" stroke="#000" stroke-width="0.9"/>
<polygon points="518.2,582.3 514.4,584.2 514.4,580.4" fill="#000"/>
<path d="M558.9 581.5 L643.5 581.5 L643.5 588.56" fill="none" stroke="#000" stroke-width="0.9"/>
<polygon points="643.5,591.6 641.6,587.8 645.4,587.8" fill="#000"/>
<path d="M382.2 640.6 L382.2 650.9 L487.96 650.9" fill="none" stroke="#000" stroke-width="0.9"/>
<polygon points="491,650.9 487.2,652.8 487.2,649" fill="#000"/>
<path d="M538.6 651.9 L643.5 651.9 L643.5 640.64" fill="none" stroke="#000" stroke-width="0.9"/>
<polygon points="643.5,637.6 645.4,641.4 641.6,641.4" fill="#000"/>
<text transform="translate(436.4 654) rotate(0.03)" font-size="9.4" font-weight="bold" text-anchor="middle" stroke="#000" stroke-width="0.11">X</text>
<text transform="translate(587.8 655.2) rotate(0.03)" font-size="9.4" font-weight="bold" text-anchor="middle" stroke="#000" stroke-width="0.11">X</text>
</g>
<text transform="translate(-0.5 380.4) rotate(0.03)" font-size="17.8" font-weight="bold" stroke="#000" stroke-width="0.2">F</text>
<g>
<text transform="translate(112.6 410.9) rotate(0.03)" font-size="7.75" font-weight="bold" text-anchor="middle" fill="#333" stroke="#333" stroke-width="0.09">Substrate-D5-Try</text>
<rect x="98.1" y="442" width="17.8" height="61" fill="#5b8db8"/>
<line x1="61.5" y1="503" x2="151.3" y2="503" stroke="#1a1a1a" stroke-width="1.15"/>
<line x1="63.3" y1="414.45" x2="63.3" y2="503.55" stroke="#1a1a1a" stroke-width="1.1"/>
<line x1="60.5" y1="415" x2="63.3" y2="415" stroke="#1a1a1a" stroke-width="1.1"/>
<text transform="translate(59.6 417.66) rotate(0.03)" font-size="7.4" font-weight="bold" text-anchor="end" fill="#222" stroke="#222" stroke-width="0.08">0.10</text>
<line x1="60.5" y1="432.9" x2="63.3" y2="432.9" stroke="#1a1a1a" stroke-width="1.1"/>
<text transform="translate(59.6 435.56) rotate(0.03)" font-size="7.4" font-weight="bold" text-anchor="end" fill="#222" stroke="#222" stroke-width="0.08">0.08</text>
<line x1="60.5" y1="450.5" x2="63.3" y2="450.5" stroke="#1a1a1a" stroke-width="1.1"/>
<text transform="translate(59.6 453.16) rotate(0.03)" font-size="7.4" font-weight="bold" text-anchor="end" fill="#222" stroke="#222" stroke-width="0.08">0.06</text>
<line x1="60.5" y1="468.1" x2="63.3" y2="468.1" stroke="#1a1a1a" stroke-width="1.1"/>
<text transform="translate(59.6 470.76) rotate(0.03)" font-size="7.4" font-weight="bold" text-anchor="end" fill="#222" stroke="#222" stroke-width="0.08">0.04</text>
<line x1="60.5" y1="485.7" x2="63.3" y2="485.7" stroke="#1a1a1a" stroke-width="1.1"/>
<text transform="translate(59.6 488.36) rotate(0.03)" font-size="7.4" font-weight="bold" text-anchor="end" fill="#222" stroke="#222" stroke-width="0.08">0.02</text>
<line x1="60.5" y1="503" x2="63.3" y2="503" stroke="#1a1a1a" stroke-width="1.1"/>
<text transform="translate(59.6 505.66) rotate(0.03)" font-size="7.4" font-weight="bold" text-anchor="end" fill="#222" stroke="#222" stroke-width="0.08">0.00</text>
<text transform="translate(38.6 500) rotate(-89.97)" font-size="11.2" font-weight="bold" stroke="#000" stroke-width="0.13" dx="0 -0.24 -0.05 -0.07 -0.15 -0.69 -0.9 0.3 -0.5 0.4 1 1.4 0.9">D5-IAA(μg/mL)</text>
<path d="M107 431.7 V450.9 M102.1 431.7 H111.9 M102.1 450.9 H111.9" fill="none" stroke="#111" stroke-width="1.3"/>
<polygon points="107,428.88 104.4,433.56 109.6,433.56" fill="#111"/>
<polygon points="107,443.58 104.4,448.26 109.6,448.26" fill="#111"/>
<polygon points="107,447.18 104.4,451.86 109.6,451.86" fill="#111"/>
<rect x="71.3" y="500.9" width="4.2" height="4.2" fill="#111"/>
<rect x="78.6" y="500.9" width="4.2" height="4.2" fill="#111"/>
<rect x="85.9" y="500.9" width="4.2" height="4.2" fill="#111"/>
<circle cx="126.2" cy="503" r="2.15" fill="#111"/>
<circle cx="133.3" cy="503" r="2.15" fill="#111"/>
<circle cx="140.3" cy="503" r="2.15" fill="#111"/>
<line x1="82.6" y1="425.6" x2="107.9" y2="425.6" stroke="#1a1a1a" stroke-width="1"/>
<text transform="translate(96.35 423.6) rotate(0.03)" font-size="4.8" font-style="italic" text-anchor="middle" fill="#111" stroke="#111" stroke-width="0.14">P&lt;0.0001</text>
<line x1="112.1" y1="425.6" x2="137.2" y2="425.6" stroke="#1a1a1a" stroke-width="1"/>
<text transform="translate(125.75 423.6) rotate(0.03)" font-size="4.8" font-style="italic" text-anchor="middle" fill="#111" stroke="#111" stroke-width="0.14">P&lt;0.0001</text>
<text transform="translate(61.8 516.8) rotate(0.03)" font-size="6.8" font-weight="bold" text-anchor="end" fill="#222" stroke="#222" stroke-width="0.08">D5-Try</text>
<line x1="78.8" y1="503.4" x2="78.8" y2="505.4" stroke="#1a1a1a" stroke-width="0.8"/>
<text transform="translate(78.8 516.8) rotate(0.03)" font-size="7.4" font-weight="bold" text-anchor="middle" fill="#222" stroke="#222" stroke-width="0.08">-</text>
<line x1="106.7" y1="503.4" x2="106.7" y2="505.4" stroke="#1a1a1a" stroke-width="0.8"/>
<text transform="translate(106.7 516.5) rotate(0.03)" font-size="6.6" text-anchor="middle" fill="#111" stroke="#111" stroke-width="0.22">10μm</text>
<line x1="134.2" y1="503.4" x2="134.2" y2="505.4" stroke="#1a1a1a" stroke-width="0.8"/>
<text transform="translate(134.2 516.5) rotate(0.03)" font-size="6.6" text-anchor="middle" fill="#111" stroke="#111" stroke-width="0.22">10μm</text>
<text transform="translate(62 529.9) rotate(0.03)" font-size="6.8" font-weight="bold" text-anchor="end" fill="#222" stroke="#222" stroke-width="0.08">Heat-killed</text>
<text transform="translate(78.8 529.9) rotate(0.03)" font-size="7.4" font-weight="bold" text-anchor="middle" fill="#222" stroke="#222" stroke-width="0.08">-</text>
<text transform="translate(106.7 529.9) rotate(0.03)" font-size="7.4" font-weight="bold" text-anchor="middle" fill="#222" stroke="#222" stroke-width="0.08">-</text>
<text transform="translate(134.9 530.4) rotate(0.03)" font-size="8.2" text-anchor="middle" fill="#111" stroke="#111" stroke-width="0.2">+</text>
<text transform="translate(257.7 412.6) rotate(0.03)" font-size="7.75" font-weight="bold" text-anchor="middle" fill="#333" stroke="#333" stroke-width="0.09">Substrate-D5-Try</text>
<rect x="243.8" y="461.5" width="17.2" height="40.6" fill="#5b8db8"/>
<line x1="207" y1="502.1" x2="295.9" y2="502.1" stroke="#1a1a1a" stroke-width="1.15"/>
<line x1="208.7" y1="415.95" x2="208.7" y2="502.65" stroke="#1a1a1a" stroke-width="1.1"/>
<line x1="205.9" y1="416.5" x2="208.7" y2="416.5" stroke="#1a1a1a" stroke-width="1.1"/>
<text transform="translate(205 419.16) rotate(0.03)" font-size="7.4" font-weight="bold" text-anchor="end" fill="#222" stroke="#222" stroke-width="0.08">0.008</text>
<line x1="205.9" y1="438" x2="208.7" y2="438" stroke="#1a1a1a" stroke-width="1.1"/>
<text transform="translate(205 440.66) rotate(0.03)" font-size="7.4" font-weight="bold" text-anchor="end" fill="#222" stroke="#222" stroke-width="0.08">0.006</text>
<line x1="205.9" y1="459.4" x2="208.7" y2="459.4" stroke="#1a1a1a" stroke-width="1.1"/>
<text transform="translate(205 462.06) rotate(0.03)" font-size="7.4" font-weight="bold" text-anchor="end" fill="#222" stroke="#222" stroke-width="0.08">0.004</text>
<line x1="205.9" y1="480.7" x2="208.7" y2="480.7" stroke="#1a1a1a" stroke-width="1.1"/>
<text transform="translate(205 483.36) rotate(0.03)" font-size="7.4" font-weight="bold" text-anchor="end" fill="#222" stroke="#222" stroke-width="0.08">0.002</text>
<line x1="205.9" y1="502.1" x2="208.7" y2="502.1" stroke="#1a1a1a" stroke-width="1.1"/>
<text transform="translate(205 504.76) rotate(0.03)" font-size="7.4" font-weight="bold" text-anchor="end" fill="#222" stroke="#222" stroke-width="0.08">0.000</text>
<text transform="translate(182.2 499) rotate(-89.97)" font-size="11.2" font-weight="bold" stroke="#000" stroke-width="0.13" dx="0 -0.3 -0.15 -0.15 -0.45 -1 -0.45 0.3 -0.5 0.4 1 1.4 0.9">D5-IPA(μg/mL)</text>
<path d="M252.5 441.8 V480.7 M248.3 441.8 H256.7 M248.3 480.7 H256.7" fill="none" stroke="#111" stroke-width="1.3"/>
<polygon points="252.5,447.88 249.9,452.56 255.1,452.56" fill="#111"/>
<polygon points="259.6,447.18 257,451.86 262.2,451.86" fill="#111"/>
<polygon points="252.5,481.68 249.9,486.36 255.1,486.36" fill="#111"/>
<rect x="217.6" y="500" width="4.2" height="4.2" fill="#111"/>
<rect x="224.6" y="500" width="4.2" height="4.2" fill="#111"/>
<rect x="231.7" y="500" width="4.2" height="4.2" fill="#111"/>
<circle cx="271.3" cy="502.1" r="2.15" fill="#111"/>
<circle cx="278.1" cy="502.1" r="2.15" fill="#111"/>
<circle cx="285.1" cy="502.1" r="2.15" fill="#111"/>
<line x1="228.6" y1="426.5" x2="253.2" y2="426.5" stroke="#1a1a1a" stroke-width="1"/>
<text transform="translate(242 424.3) rotate(0.03)" font-size="4.8" font-style="italic" text-anchor="middle" fill="#111" stroke="#111" stroke-width="0.14">P&lt;0.0001</text>
<line x1="257.4" y1="426.5" x2="281.8" y2="426.5" stroke="#1a1a1a" stroke-width="1"/>
<text transform="translate(270.7 424.3) rotate(0.03)" font-size="4.8" font-style="italic" text-anchor="middle" fill="#111" stroke="#111" stroke-width="0.14">P&lt;0.0001</text>
<text transform="translate(207.8 516.1) rotate(0.03)" font-size="6.8" font-weight="bold" text-anchor="end" fill="#222" stroke="#222" stroke-width="0.08">D5-Try</text>
<line x1="224.6" y1="502.5" x2="224.6" y2="504.5" stroke="#1a1a1a" stroke-width="0.8"/>
<text transform="translate(224.6 516.1) rotate(0.03)" font-size="7.4" font-weight="bold" text-anchor="middle" fill="#222" stroke="#222" stroke-width="0.08">-</text>
<line x1="252" y1="502.5" x2="252" y2="504.5" stroke="#1a1a1a" stroke-width="0.8"/>
<text transform="translate(252 515.8) rotate(0.03)" font-size="6.6" text-anchor="middle" fill="#111" stroke="#111" stroke-width="0.22">10μm</text>
<line x1="279" y1="502.5" x2="279" y2="504.5" stroke="#1a1a1a" stroke-width="0.8"/>
<text transform="translate(279 515.8) rotate(0.03)" font-size="6.6" text-anchor="middle" fill="#111" stroke="#111" stroke-width="0.22">10μm</text>
<text transform="translate(208.3 529.4) rotate(0.03)" font-size="6.8" font-weight="bold" text-anchor="end" fill="#222" stroke="#222" stroke-width="0.08">Heat-killed</text>
<text transform="translate(224.6 529.4) rotate(0.03)" font-size="7.4" font-weight="bold" text-anchor="middle" fill="#222" stroke="#222" stroke-width="0.08">-</text>
<text transform="translate(252 529.4) rotate(0.03)" font-size="7.4" font-weight="bold" text-anchor="middle" fill="#222" stroke="#222" stroke-width="0.08">-</text>
<text transform="translate(278.3 529.9) rotate(0.03)" font-size="8.2" text-anchor="middle" fill="#111" stroke="#111" stroke-width="0.2">+</text>
<text transform="translate(393.3 410.9) rotate(0.03)" font-size="7.75" font-weight="bold" text-anchor="middle" fill="#333" stroke="#333" stroke-width="0.09">Substrate-D5-Try</text>
<line x1="342.2" y1="502.1" x2="432.6" y2="502.1" stroke="#1a1a1a" stroke-width="1.15"/>
<line x1="343.9" y1="414.05" x2="343.9" y2="502.65" stroke="#1a1a1a" stroke-width="1.1"/>
<line x1="341.1" y1="414.6" x2="343.9" y2="414.6" stroke="#1a1a1a" stroke-width="1.1"/>
<text transform="translate(340.2 417.26) rotate(0.03)" font-size="7.4" font-weight="bold" text-anchor="end" fill="#222" stroke="#222" stroke-width="0.08">1.0</text>
<line x1="341.1" y1="432.2" x2="343.9" y2="432.2" stroke="#1a1a1a" stroke-width="1.1"/>
<text transform="translate(340.2 434.86) rotate(0.03)" font-size="7.4" font-weight="bold" text-anchor="end" fill="#222" stroke="#222" stroke-width="0.08">0.8</text>
<line x1="341.1" y1="449.5" x2="343.9" y2="449.5" stroke="#1a1a1a" stroke-width="1.1"/>
<text transform="translate(340.2 452.16) rotate(0.03)" font-size="7.4" font-weight="bold" text-anchor="end" fill="#222" stroke="#222" stroke-width="0.08">0.6</text>
<line x1="341.1" y1="467.1" x2="343.9" y2="467.1" stroke="#1a1a1a" stroke-width="1.1"/>
<text transform="translate(340.2 469.76) rotate(0.03)" font-size="7.4" font-weight="bold" text-anchor="end" fill="#222" stroke="#222" stroke-width="0.08">0.4</text>
<line x1="341.1" y1="484.7" x2="343.9" y2="484.7" stroke="#1a1a1a" stroke-width="1.1"/>
<text transform="translate(340.2 487.36) rotate(0.03)" font-size="7.4" font-weight="bold" text-anchor="end" fill="#222" stroke="#222" stroke-width="0.08">0.2</text>
<line x1="341.1" y1="502.1" x2="343.9" y2="502.1" stroke="#1a1a1a" stroke-width="1.1"/>
<text transform="translate(340.2 504.76) rotate(0.03)" font-size="7.4" font-weight="bold" text-anchor="end" fill="#222" stroke="#222" stroke-width="0.08">0.0</text>
<text transform="translate(325.6 500.4) rotate(-89.97)" font-size="11.2" font-weight="bold" stroke="#000" stroke-width="0.13" dx="0 -0.3 -0.15 -0.15 -0.3 -0.8 -0.7 0.3 -0.5 0.4 1 1.4 0.9">D5-IMA(μg/mL)</text>
<rect x="352.3" y="500" width="4.2" height="4.2" fill="#111"/>
<rect x="359.4" y="500" width="4.2" height="4.2" fill="#111"/>
<rect x="366.4" y="500" width="4.2" height="4.2" fill="#111"/>
<polygon points="380.9,499.48 378.3,504.16 383.5,504.16" fill="#111"/>
<polygon points="388,499.48 385.4,504.16 390.6,504.16" fill="#111"/>
<polygon points="395,499.48 392.4,504.16 397.6,504.16" fill="#111"/>
<circle cx="407.2" cy="502.1" r="2.15" fill="#111"/>
<circle cx="414.3" cy="502.1" r="2.15" fill="#111"/>
<circle cx="421.3" cy="502.1" r="2.15" fill="#111"/>
<text transform="translate(342.5 516.6) rotate(0.03)" font-size="6.8" font-weight="bold" text-anchor="end" fill="#222" stroke="#222" stroke-width="0.08">D5-Try</text>
<line x1="360.5" y1="502.5" x2="360.5" y2="504.5" stroke="#1a1a1a" stroke-width="0.8"/>
<text transform="translate(360.5 516.6) rotate(0.03)" font-size="7.4" font-weight="bold" text-anchor="middle" fill="#222" stroke="#222" stroke-width="0.08">-</text>
<line x1="387.3" y1="502.5" x2="387.3" y2="504.5" stroke="#1a1a1a" stroke-width="0.8"/>
<text transform="translate(387.3 516.3) rotate(0.03)" font-size="6.6" text-anchor="middle" fill="#111" stroke="#111" stroke-width="0.22">10μm</text>
<line x1="415" y1="502.5" x2="415" y2="504.5" stroke="#1a1a1a" stroke-width="0.8"/>
<text transform="translate(415 516.3) rotate(0.03)" font-size="6.6" text-anchor="middle" fill="#111" stroke="#111" stroke-width="0.22">10μm</text>
<text transform="translate(343 529.9) rotate(0.03)" font-size="6.8" font-weight="bold" text-anchor="end" fill="#222" stroke="#222" stroke-width="0.08">Heat-killed</text>
<text transform="translate(360.5 529.9) rotate(0.03)" font-size="7.4" font-weight="bold" text-anchor="middle" fill="#222" stroke="#222" stroke-width="0.08">-</text>
<text transform="translate(387.3 529.9) rotate(0.03)" font-size="7.4" font-weight="bold" text-anchor="middle" fill="#222" stroke="#222" stroke-width="0.08">-</text>
<text transform="translate(416.1 530.4) rotate(0.03)" font-size="8.2" text-anchor="middle" fill="#111" stroke="#111" stroke-width="0.2">+</text>
</g>
<text transform="translate(-0.7 535.7) rotate(0.03)" font-size="17.8" font-weight="bold" stroke="#000" stroke-width="0.2">G</text>
<g>
<text transform="translate(109.2 562.2) rotate(0.03)" font-size="7.75" font-weight="bold" text-anchor="middle" fill="#333" stroke="#333" stroke-width="0.09">Substrate-D5-IPA</text>
<rect x="95" y="593.1" width="17.1" height="60.7" fill="#5b8db8"/>
<line x1="58" y1="653.8" x2="147.3" y2="653.8" stroke="#1a1a1a" stroke-width="1.15"/>
<line x1="59.8" y1="565.55" x2="59.8" y2="654.35" stroke="#1a1a1a" stroke-width="1.1"/>
<line x1="57" y1="566.1" x2="59.8" y2="566.1" stroke="#1a1a1a" stroke-width="1.1"/>
<text transform="translate(56.1 568.76) rotate(0.03)" font-size="7.4" font-weight="bold" text-anchor="end" fill="#222" stroke="#222" stroke-width="0.08">0.04</text>
<line x1="57" y1="588.2" x2="59.8" y2="588.2" stroke="#1a1a1a" stroke-width="1.1"/>
<text transform="translate(56.1 590.86) rotate(0.03)" font-size="7.4" font-weight="bold" text-anchor="end" fill="#222" stroke="#222" stroke-width="0.08">0.03</text>
<line x1="57" y1="610" x2="59.8" y2="610" stroke="#1a1a1a" stroke-width="1.1"/>
<text transform="translate(56.1 612.66) rotate(0.03)" font-size="7.4" font-weight="bold" text-anchor="end" fill="#222" stroke="#222" stroke-width="0.08">0.02</text>
<line x1="57" y1="631.8" x2="59.8" y2="631.8" stroke="#1a1a1a" stroke-width="1.1"/>
<text transform="translate(56.1 634.46) rotate(0.03)" font-size="7.4" font-weight="bold" text-anchor="end" fill="#222" stroke="#222" stroke-width="0.08">0.01</text>
<line x1="57" y1="653.8" x2="59.8" y2="653.8" stroke="#1a1a1a" stroke-width="1.1"/>
<text transform="translate(56.1 656.46) rotate(0.03)" font-size="7.4" font-weight="bold" text-anchor="end" fill="#222" stroke="#222" stroke-width="0.08">0.00</text>
<text transform="translate(35.7 651.2) rotate(-89.97)" font-size="11.2" font-weight="bold" stroke="#000" stroke-width="0.13" dx="0 -0.24 -0.05 -0.07 -0.15 -0.69 -0.9 0.3 -0.5 0.4 1 1.4 0.9">D5-IAA(μg/mL)</text>
<line x1="99" y1="593" x2="108.2" y2="593" stroke="#111" stroke-width="0.9"/>
<polygon points="96.7,590.48 94.1,595.16 99.3,595.16" fill="#111"/>
<polygon points="103.7,589.78 101.1,594.46 106.3,594.46" fill="#111"/>
<polygon points="110.5,590.48 107.9,595.16 113.1,595.16" fill="#111"/>
<rect x="67.8" y="651.7" width="4.2" height="4.2" fill="#111"/>
<rect x="74.9" y="651.7" width="4.2" height="4.2" fill="#111"/>
<rect x="81.9" y="651.7" width="4.2" height="4.2" fill="#111"/>
<circle cx="122.5" cy="653.8" r="2.15" fill="#111"/>
<circle cx="129.5" cy="653.8" r="2.15" fill="#111"/>
<circle cx="136.5" cy="653.8" r="2.15" fill="#111"/>
<line x1="79.1" y1="576.4" x2="103.9" y2="576.4" stroke="#1a1a1a" stroke-width="1"/>
<text transform="translate(92.6 574) rotate(0.03)" font-size="4.8" font-style="italic" text-anchor="middle" fill="#111" stroke="#111" stroke-width="0.14">P&lt;0.0001</text>
<line x1="108.4" y1="576.4" x2="133.3" y2="576.4" stroke="#1a1a1a" stroke-width="1"/>
<text transform="translate(121.95 574) rotate(0.03)" font-size="4.8" font-style="italic" text-anchor="middle" fill="#111" stroke="#111" stroke-width="0.14">P&lt;0.0001</text>
<text transform="translate(58.3 668.1) rotate(0.03)" font-size="6.8" font-weight="bold" text-anchor="end" fill="#222" stroke="#222" stroke-width="0.08">D5-IPA</text>
<line x1="75.1" y1="654.2" x2="75.1" y2="656.2" stroke="#1a1a1a" stroke-width="0.8"/>
<text transform="translate(75.1 668.1) rotate(0.03)" font-size="7.4" font-weight="bold" text-anchor="middle" fill="#222" stroke="#222" stroke-width="0.08">-</text>
<line x1="102.8" y1="654.2" x2="102.8" y2="656.2" stroke="#1a1a1a" stroke-width="0.8"/>
<text transform="translate(102.8 667.8) rotate(0.03)" font-size="6.6" text-anchor="middle" fill="#111" stroke="#111" stroke-width="0.22">10μm</text>
<line x1="129.7" y1="654.2" x2="129.7" y2="656.2" stroke="#1a1a1a" stroke-width="0.8"/>
<text transform="translate(129.7 667.8) rotate(0.03)" font-size="6.6" text-anchor="middle" fill="#111" stroke="#111" stroke-width="0.22">10μm</text>
<text transform="translate(58.3 681.2) rotate(0.03)" font-size="6.8" font-weight="bold" text-anchor="end" fill="#222" stroke="#222" stroke-width="0.08">Heat-killed</text>
<text transform="translate(75.1 681.2) rotate(0.03)" font-size="7.4" font-weight="bold" text-anchor="middle" fill="#222" stroke="#222" stroke-width="0.08">-</text>
<text transform="translate(102.8 681.2) rotate(0.03)" font-size="7.4" font-weight="bold" text-anchor="middle" fill="#222" stroke="#222" stroke-width="0.08">-</text>
<text transform="translate(130.7 681.7) rotate(0.03)" font-size="8.2" text-anchor="middle" fill="#111" stroke="#111" stroke-width="0.2">+</text>
<text transform="translate(255.5 562.2) rotate(0.03)" font-size="7.75" font-weight="bold" text-anchor="middle" fill="#333" stroke="#333" stroke-width="0.09">Substrate-D5-IMA</text>
<line x1="201.6" y1="656.9" x2="294.8" y2="656.9" stroke="#1a1a1a" stroke-width="1.15"/>
<line x1="203.3" y1="565.55" x2="203.3" y2="657.45" stroke="#1a1a1a" stroke-width="1.1"/>
<line x1="200.5" y1="566.1" x2="203.3" y2="566.1" stroke="#1a1a1a" stroke-width="1.1"/>
<text transform="translate(199.6 568.76) rotate(0.03)" font-size="7.4" font-weight="bold" text-anchor="end" fill="#222" stroke="#222" stroke-width="0.08">1.0</text>
<line x1="200.5" y1="584.2" x2="203.3" y2="584.2" stroke="#1a1a1a" stroke-width="1.1"/>
<text transform="translate(199.6 586.86) rotate(0.03)" font-size="7.4" font-weight="bold" text-anchor="end" fill="#222" stroke="#222" stroke-width="0.08">0.8</text>
<line x1="200.5" y1="602.5" x2="203.3" y2="602.5" stroke="#1a1a1a" stroke-width="1.1"/>
<text transform="translate(199.6 605.16) rotate(0.03)" font-size="7.4" font-weight="bold" text-anchor="end" fill="#222" stroke="#222" stroke-width="0.08">0.6</text>
<line x1="200.5" y1="620.5" x2="203.3" y2="620.5" stroke="#1a1a1a" stroke-width="1.1"/>
<text transform="translate(199.6 623.16) rotate(0.03)" font-size="7.4" font-weight="bold" text-anchor="end" fill="#222" stroke="#222" stroke-width="0.08">0.4</text>
<line x1="200.5" y1="638.6" x2="203.3" y2="638.6" stroke="#1a1a1a" stroke-width="1.1"/>
<text transform="translate(199.6 641.26) rotate(0.03)" font-size="7.4" font-weight="bold" text-anchor="end" fill="#222" stroke="#222" stroke-width="0.08">0.2</text>
<line x1="200.5" y1="656.9" x2="203.3" y2="656.9" stroke="#1a1a1a" stroke-width="1.1"/>
<text transform="translate(199.6 659.56) rotate(0.03)" font-size="7.4" font-weight="bold" text-anchor="end" fill="#222" stroke="#222" stroke-width="0.08">0.0</text>
<text transform="translate(182.6 653.4) rotate(-89.97)" font-size="11.2" font-weight="bold" stroke="#000" stroke-width="0.13" dx="0 -0.24 -0.05 -0.07 -0.15 -0.69 -0.9 0.3 -0.5 0.4 1 1.4 0.9">D5-IAA(μg/mL)</text>
<rect x="220.2" y="654.8" width="4.2" height="4.2" fill="#111"/>
<rect x="227.2" y="654.8" width="4.2" height="4.2" fill="#111"/>
<rect x="234" y="654.8" width="4.2" height="4.2" fill="#111"/>
<polygon points="261.7,654.28 259.1,658.96 264.3,658.96" fill="#111"/>
<polygon points="268.5,654.28 265.9,658.96 271.1,658.96" fill="#111"/>
<polygon points="275,654.28 272.4,658.96 277.6,658.96" fill="#111"/>
<text transform="translate(200 674.4) rotate(0.03)" font-size="6.8" font-weight="bold" text-anchor="end" fill="#222" stroke="#222" stroke-width="0.08">D5-IMA</text>
<line x1="229.3" y1="657.3" x2="229.3" y2="659.3" stroke="#1a1a1a" stroke-width="0.8"/>
<text transform="translate(229.3 674.4) rotate(0.03)" font-size="7.4" font-weight="bold" text-anchor="middle" fill="#222" stroke="#222" stroke-width="0.08">-</text>
<line x1="267.3" y1="657.3" x2="267.3" y2="659.3" stroke="#1a1a1a" stroke-width="0.8"/>
<text transform="translate(267.3 674.1) rotate(0.03)" font-size="6.6" text-anchor="middle" fill="#111" stroke="#111" stroke-width="0.22">10μm</text>
</g>
<text transform="translate(466 399) rotate(0.03)" font-size="17.8" font-weight="bold" stroke="#000" stroke-width="0.2">H</text>
<g>
<text transform="translate(584.4 410.9) rotate(0.03)" font-size="7.75" font-weight="bold" text-anchor="middle" fill="#333" stroke="#333" stroke-width="0.09">Substrate-IAC</text>
<rect x="551.4" y="499.2" width="22.4" height="7.1" fill="#a8d4f2" stroke="#111" stroke-width="0.8"/>
<rect x="586" y="444.4" width="23" height="61.9" fill="#5b8db8"/>
<line x1="535.5" y1="506.3" x2="621" y2="506.3" stroke="#1a1a1a" stroke-width="1.15"/>
<line x1="537.4" y1="414.75" x2="537.4" y2="506.85" stroke="#1a1a1a" stroke-width="1.1"/>
<line x1="534.6" y1="415.3" x2="537.4" y2="415.3" stroke="#1a1a1a" stroke-width="1.1"/>
<text transform="translate(533.7 418) rotate(0.03)" font-size="7.5" font-weight="bold" text-anchor="end" fill="#222" stroke="#222" stroke-width="0.08">0.010</text>
<line x1="534.6" y1="433.6" x2="537.4" y2="433.6" stroke="#1a1a1a" stroke-width="1.1"/>
<text transform="translate(533.7 436.3) rotate(0.03)" font-size="7.5" font-weight="bold" text-anchor="end" fill="#222" stroke="#222" stroke-width="0.08">0.008</text>
<line x1="534.6" y1="451.9" x2="537.4" y2="451.9" stroke="#1a1a1a" stroke-width="1.1"/>
<text transform="translate(533.7 454.6) rotate(0.03)" font-size="7.5" font-weight="bold" text-anchor="end" fill="#222" stroke="#222" stroke-width="0.08">0.006</text>
<line x1="534.6" y1="470.2" x2="537.4" y2="470.2" stroke="#1a1a1a" stroke-width="1.1"/>
<text transform="translate(533.7 472.9) rotate(0.03)" font-size="7.5" font-weight="bold" text-anchor="end" fill="#222" stroke="#222" stroke-width="0.08">0.004</text>
<line x1="534.6" y1="488.5" x2="537.4" y2="488.5" stroke="#1a1a1a" stroke-width="1.1"/>
<text transform="translate(533.7 491.2) rotate(0.03)" font-size="7.5" font-weight="bold" text-anchor="end" fill="#222" stroke="#222" stroke-width="0.08">0.002</text>
<line x1="534.6" y1="506.3" x2="537.4" y2="506.3" stroke="#1a1a1a" stroke-width="1.1"/>
<text transform="translate(533.7 509) rotate(0.03)" font-size="7.5" font-weight="bold" text-anchor="end" fill="#222" stroke="#222" stroke-width="0.08">0.000</text>
<text transform="translate(509.5 495.2) rotate(-89.97)" font-size="12" font-weight="bold" stroke="#000" stroke-width="0.14" dx="0 -0.16 -0.74 -0.96 0.32 -0.54 0.43 1.07 1.5 0.96">IAA(μg/mL)</text>
<path d="M597.5 433.8 V454 M591.7 433.8 H603.3 M591.7 454 H603.3" fill="none" stroke="#111" stroke-width="1.3"/>
<polygon points="597.5,437.08 594.9,441.76 600.1,441.76" fill="#111"/>
<polygon points="604.8,434.68 602.2,439.36 607.4,439.36" fill="#111"/>
<polygon points="597.5,453.48 594.9,458.16 600.1,458.16" fill="#111"/>
<rect x="553" y="497.9" width="4" height="4" fill="#111"/>
<rect x="560.1" y="496.2" width="4" height="4" fill="#111"/>
<rect x="567.1" y="496.4" width="4" height="4" fill="#111"/>
<line x1="556" y1="498.9" x2="569" y2="498.9" stroke="#111" stroke-width="0.8"/>
<text transform="translate(598.9 429.7) rotate(0.03)" font-size="4.8" font-style="italic" text-anchor="middle" fill="#111" stroke="#111" stroke-width="0.14">P&lt;0.0001</text>
<text transform="translate(526.6 521.2) rotate(0.03)" font-size="6.8" font-weight="bold" text-anchor="end" fill="#222" stroke="#222" stroke-width="0.08">IAC</text>
<line x1="561.6" y1="506.7" x2="561.6" y2="508.7" stroke="#1a1a1a" stroke-width="0.8"/>
<text transform="translate(561.6 521.2) rotate(0.03)" font-size="7.4" font-weight="bold" text-anchor="middle" fill="#222" stroke="#222" stroke-width="0.08">-</text>
<line x1="597.2" y1="506.7" x2="597.2" y2="508.7" stroke="#1a1a1a" stroke-width="0.8"/>
<text transform="translate(597.2 520.9) rotate(0.03)" font-size="6.6" text-anchor="middle" fill="#111" stroke="#111" stroke-width="0.22">10μm</text>
</g>
</svg>
</body></html>
